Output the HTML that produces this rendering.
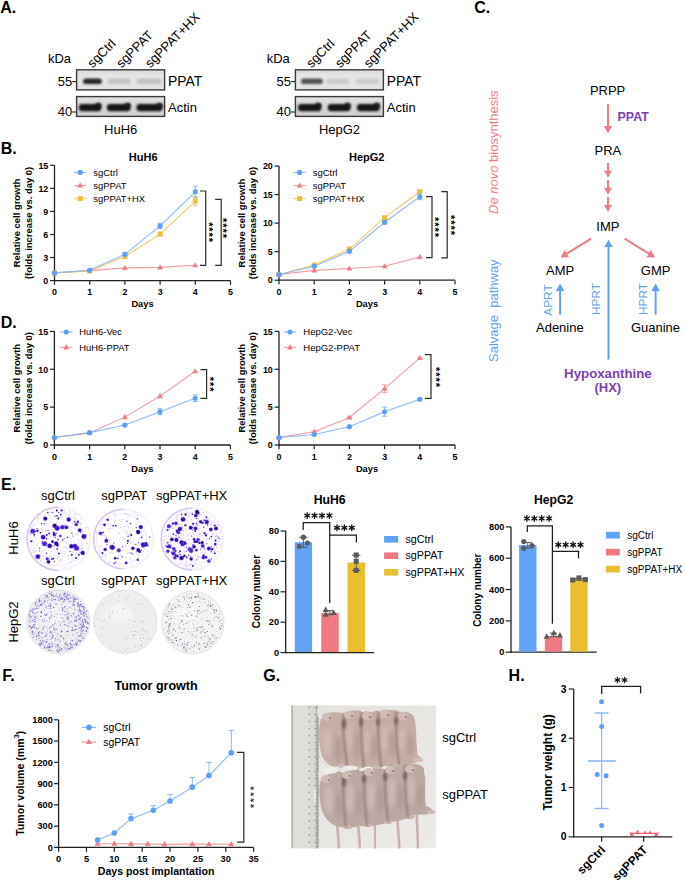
<!DOCTYPE html>
<html><head><meta charset="utf-8"><title>Figure</title>
<style>
html,body{margin:0;padding:0;background:#fff;}
svg{display:block;font-family:"Liberation Sans", sans-serif;}
</style></head>
<body>
<svg width="685" height="883" viewBox="0 0 685 883">
<defs>
<filter id="bl" x="-20%" y="-50%" width="140%" height="200%"><feGaussianBlur stdDeviation="0.9"/></filter>
<filter id="soft" x="-20%" y="-20%" width="140%" height="140%"><feGaussianBlur stdDeviation="0.7"/></filter>
<filter id="soft1" x="-50%" y="-50%" width="200%" height="200%"><feGaussianBlur stdDeviation="1.1"/></filter>
<filter id="soft2" x="-50%" y="-50%" width="200%" height="200%"><feGaussianBlur stdDeviation="2"/></filter>
<linearGradient id="blotg" x1="0" y1="0" x2="0" y2="1"><stop offset="0" stop-color="#d9d9d9"/><stop offset="0.3" stop-color="#e6e6e6"/><stop offset="1" stop-color="#e3e3e3"/></linearGradient>
<linearGradient id="blotg2" x1="0" y1="0" x2="0" y2="1"><stop offset="0" stop-color="#e2e2e2"/><stop offset="0.5" stop-color="#d6d6d6"/><stop offset="1" stop-color="#d0d0d0"/></linearGradient>
<clipPath id="photoclip"><rect x="291.3" y="705.3" width="145" height="143.2"/></clipPath>
<linearGradient id="photobg" x1="0" y1="0" x2="1" y2="1"><stop offset="0" stop-color="#e3e1dd"/><stop offset="1" stop-color="#ecebe8"/></linearGradient>
<radialGradient id="mouse" cx="0.45" cy="0.4" r="0.6"><stop offset="0" stop-color="#d3bbb5"/><stop offset="0.7" stop-color="#c2a9a3"/><stop offset="1" stop-color="#a48e8a"/></radialGradient>
</defs>
<rect x="0" y="0" width="685" height="883" fill="#fff"/>
<text x="0.20" y="12.60" font-size="16" font-weight="bold">A.</text>
<text x="474.30" y="13.00" font-size="16" font-weight="bold">C.</text>
<text x="0.80" y="153.60" font-size="16" font-weight="bold">B.</text>
<text x="0.80" y="328.20" font-size="16" font-weight="bold">D.</text>
<text x="1.00" y="490.20" font-size="16" font-weight="bold">E.</text>
<text x="2.20" y="681.40" font-size="16" font-weight="bold">F.</text>
<text x="263.20" y="681.40" font-size="16" font-weight="bold">G.</text>
<text x="508.60" y="681.40" font-size="16" font-weight="bold">H.</text>
<text x="47.90" y="63.00" font-size="13">kDa</text>
<text x="72.20" y="85.60" font-size="13" text-anchor="end">55</text>
<line x1="72.20" y1="81.60" x2="76.60" y2="81.60" stroke="#222" stroke-width="1.1" />
<text x="72.20" y="116.20" font-size="13" text-anchor="end">40</text>
<line x1="72.20" y1="112.00" x2="76.60" y2="112.00" stroke="#222" stroke-width="1.1" />
<text x="168.00" y="85.60" font-size="13.9">PPAT</text>
<text x="168.00" y="111.80" font-size="13">Actin</text>
<text transform="translate(92.60,68.40) rotate(-45)" font-size="13">sgCtrl</text>
<text transform="translate(121.40,68.40) rotate(-45)" font-size="13">sgPPAT</text>
<text transform="translate(150.20,68.40) rotate(-45)" font-size="13">sgPPAT+HX</text>
<text x="120.70" y="133.60" font-size="13" text-anchor="middle">HuH6</text>
<rect x="76.60" y="69.8" width="88.00" height="20.1" fill="url(#blotg)" stroke="#3a3a3a" stroke-width="1.4"/>
<rect x="83.10" y="78.40" width="18.70" height="5.6" rx="2.8" fill="#262626" filter="url(#bl)"/>
<rect x="107.60" y="78.40" width="23.00" height="5.6" rx="2.8" fill="#c4c4c4" filter="url(#bl)"/>
<rect x="136.60" y="78.40" width="25.00" height="5.6" rx="2.8" fill="#c2c2c2" filter="url(#bl)"/>
<rect x="76.60" y="96.6" width="88.00" height="19.8" fill="url(#blotg2)" stroke="#3a3a3a" stroke-width="1.4"/>
<rect x="78.80" y="104.00" width="22.60" height="7.2" rx="3.4" fill="#141414" filter="url(#bl)"/>
<ellipse cx="98.40" cy="105.2" rx="3" ry="2.4" fill="#1c1c1c" filter="url(#bl)"/>
<rect x="106.80" y="104.00" width="23.80" height="7.2" rx="3.4" fill="#141414" filter="url(#bl)"/>
<ellipse cx="127.60" cy="105.2" rx="3" ry="2.4" fill="#1c1c1c" filter="url(#bl)"/>
<rect x="136.40" y="104.00" width="26.20" height="7.2" rx="3.4" fill="#141414" filter="url(#bl)"/>
<ellipse cx="159.60" cy="105.2" rx="3" ry="2.4" fill="#1c1c1c" filter="url(#bl)"/>
<text x="266.70" y="63.00" font-size="13">kDa</text>
<text x="291.00" y="85.60" font-size="13" text-anchor="end">55</text>
<line x1="291.00" y1="81.60" x2="295.40" y2="81.60" stroke="#222" stroke-width="1.1" />
<text x="291.00" y="116.20" font-size="13" text-anchor="end">40</text>
<line x1="291.00" y1="112.00" x2="295.40" y2="112.00" stroke="#222" stroke-width="1.1" />
<text x="386.80" y="85.60" font-size="13.9">PPAT</text>
<text x="386.80" y="111.80" font-size="13">Actin</text>
<text transform="translate(311.40,68.40) rotate(-45)" font-size="13">sgCtrl</text>
<text transform="translate(340.20,68.40) rotate(-45)" font-size="13">sgPPAT</text>
<text transform="translate(369.00,68.40) rotate(-45)" font-size="13">sgPPAT+HX</text>
<text x="339.50" y="133.60" font-size="13" text-anchor="middle">HepG2</text>
<rect x="295.40" y="69.8" width="88.00" height="20.1" fill="url(#blotg)" stroke="#3a3a3a" stroke-width="1.4"/>
<rect x="301.00" y="78.40" width="21.80" height="5.6" rx="2.8" fill="#525252" filter="url(#bl)"/>
<rect x="326.40" y="78.40" width="23.00" height="5.6" rx="2.8" fill="#cacaca" filter="url(#bl)"/>
<rect x="355.40" y="78.40" width="24.00" height="5.6" rx="2.8" fill="#cdcdcd" filter="url(#bl)"/>
<rect x="295.40" y="96.6" width="88.00" height="19.8" fill="url(#blotg2)" stroke="#3a3a3a" stroke-width="1.4"/>
<rect x="298.00" y="104.00" width="23.40" height="7.2" rx="3.4" fill="#141414" filter="url(#bl)"/>
<ellipse cx="318.40" cy="105.2" rx="3" ry="2.4" fill="#1c1c1c" filter="url(#bl)"/>
<rect x="327.70" y="104.00" width="22.90" height="7.2" rx="3.4" fill="#141414" filter="url(#bl)"/>
<ellipse cx="347.60" cy="105.2" rx="3" ry="2.4" fill="#1c1c1c" filter="url(#bl)"/>
<rect x="356.90" y="104.00" width="22.90" height="7.2" rx="3.4" fill="#141414" filter="url(#bl)"/>
<ellipse cx="376.80" cy="105.2" rx="3" ry="2.4" fill="#1c1c1c" filter="url(#bl)"/>
<text x="607.60" y="95.20" font-size="13" text-anchor="middle">PRPP</text>
<line x1="608.00" y1="104.00" x2="608.00" y2="127.60" stroke="#ee7d86" stroke-width="2.0" />
<polygon points="603.80,126.10 612.20,126.10 608.00,133.60" fill="#ee7d86"/>
<text x="617.60" y="120.70" font-size="12.4" font-weight="bold" fill="#7b3fb5">PPAT</text>
<text x="607.90" y="155.00" font-size="13" text-anchor="middle">PRA</text>
<line x1="608.00" y1="163.00" x2="608.00" y2="172.20" stroke="#ee7d86" stroke-width="2.0" />
<polygon points="604.00,170.80 612.00,170.80 608.00,177.80" fill="#ee7d86"/>
<line x1="608.00" y1="180.00" x2="608.00" y2="189.10" stroke="#ee7d86" stroke-width="2.0" />
<polygon points="604.00,187.70 612.00,187.70 608.00,194.70" fill="#ee7d86"/>
<line x1="608.00" y1="197.20" x2="608.00" y2="206.40" stroke="#ee7d86" stroke-width="2.0" />
<polygon points="604.00,205.00 612.00,205.00 608.00,212.00" fill="#ee7d86"/>
<text x="607.85" y="230.50" font-size="13" text-anchor="middle">IMP</text>
<line x1="591.10" y1="238.70" x2="565.60" y2="254.45" stroke="#ee7d86" stroke-width="2.0" />
<polygon points="564.67,250.09 569.09,257.23 560.50,257.60" fill="#ee7d86"/>
<line x1="624.60" y1="238.60" x2="650.01" y2="254.43" stroke="#ee7d86" stroke-width="2.0" />
<polygon points="646.51,257.20 650.95,250.07 655.10,257.60" fill="#ee7d86"/>
<line x1="608.50" y1="359.50" x2="608.50" y2="245.40" stroke="#5fa2f2" stroke-width="2.0" />
<polygon points="604.30,246.90 612.70,246.90 608.50,239.40" fill="#5fa2f2"/>
<text x="560.20" y="275.10" font-size="13" text-anchor="middle">AMP</text>
<text x="655.60" y="275.10" font-size="13" text-anchor="middle">GMP</text>
<line x1="560.10" y1="314.50" x2="560.10" y2="289.50" stroke="#5fa2f2" stroke-width="2.0" />
<polygon points="555.90,291.00 564.30,291.00 560.10,283.50" fill="#5fa2f2"/>
<line x1="655.60" y1="314.50" x2="655.60" y2="289.50" stroke="#5fa2f2" stroke-width="2.0" />
<polygon points="651.40,291.00 659.80,291.00 655.60,283.50" fill="#5fa2f2"/>
<text transform="translate(552.40,300.00) rotate(-90)" font-size="11.8" text-anchor="middle" fill="#5fa2f2">APRT</text>
<text transform="translate(599.90,299.00) rotate(-90)" font-size="11.8" text-anchor="middle" fill="#5fa2f2">HPRT</text>
<text transform="translate(647.40,299.00) rotate(-90)" font-size="11.8" text-anchor="middle" fill="#5fa2f2">HPRT</text>
<text x="559.85" y="332.30" font-size="13" text-anchor="middle">Adenine</text>
<text x="655.50" y="332.30" font-size="13" text-anchor="middle">Guanine</text>
<text x="607.90" y="378.00" font-size="13.25" font-weight="bold" text-anchor="middle" fill="#7b3fb5">Hypoxanthine</text>
<text x="607.85" y="392.30" font-size="13" font-weight="bold" text-anchor="middle" fill="#7b3fb5">(HX)</text>
<text transform="translate(497.60,152.20) rotate(-90)" font-size="13" text-anchor="middle" fill="#ee7d86"><tspan font-style="italic">De novo</tspan> biosynthesis</text>
<text transform="translate(497.60,310.70) rotate(-90)" font-size="13" text-anchor="middle" fill="#5fa2f2">Salvage  pathway</text>
<line x1="54.50" y1="165.30" x2="54.50" y2="281.20" stroke="#222" stroke-width="1.3" />
<line x1="53.90" y1="280.60" x2="230.50" y2="280.60" stroke="#222" stroke-width="1.3" />
<line x1="50.10" y1="280.60" x2="54.50" y2="280.60" stroke="#222" stroke-width="1.2" />
<text x="48.30" y="283.85" font-size="8.9" font-weight="bold" text-anchor="end">0</text>
<line x1="50.10" y1="257.54" x2="54.50" y2="257.54" stroke="#222" stroke-width="1.2" />
<text x="48.30" y="260.79" font-size="8.9" font-weight="bold" text-anchor="end">3</text>
<line x1="50.10" y1="234.48" x2="54.50" y2="234.48" stroke="#222" stroke-width="1.2" />
<text x="48.30" y="237.73" font-size="8.9" font-weight="bold" text-anchor="end">6</text>
<line x1="50.10" y1="211.42" x2="54.50" y2="211.42" stroke="#222" stroke-width="1.2" />
<text x="48.30" y="214.67" font-size="8.9" font-weight="bold" text-anchor="end">9</text>
<line x1="50.10" y1="188.36" x2="54.50" y2="188.36" stroke="#222" stroke-width="1.2" />
<text x="48.30" y="191.61" font-size="8.9" font-weight="bold" text-anchor="end">12</text>
<line x1="50.10" y1="165.30" x2="54.50" y2="165.30" stroke="#222" stroke-width="1.2" />
<text x="48.30" y="168.55" font-size="8.9" font-weight="bold" text-anchor="end">15</text>
<line x1="54.50" y1="280.60" x2="54.50" y2="284.80" stroke="#222" stroke-width="1.2" />
<text x="54.50" y="295.20" font-size="8.9" font-weight="bold" text-anchor="middle">0</text>
<line x1="89.70" y1="280.60" x2="89.70" y2="284.80" stroke="#222" stroke-width="1.2" />
<text x="89.70" y="295.20" font-size="8.9" font-weight="bold" text-anchor="middle">1</text>
<line x1="124.90" y1="280.60" x2="124.90" y2="284.80" stroke="#222" stroke-width="1.2" />
<text x="124.90" y="295.20" font-size="8.9" font-weight="bold" text-anchor="middle">2</text>
<line x1="160.10" y1="280.60" x2="160.10" y2="284.80" stroke="#222" stroke-width="1.2" />
<text x="160.10" y="295.20" font-size="8.9" font-weight="bold" text-anchor="middle">3</text>
<line x1="195.30" y1="280.60" x2="195.30" y2="284.80" stroke="#222" stroke-width="1.2" />
<text x="195.30" y="295.20" font-size="8.9" font-weight="bold" text-anchor="middle">4</text>
<line x1="230.50" y1="280.60" x2="230.50" y2="284.80" stroke="#222" stroke-width="1.2" />
<text x="230.50" y="295.20" font-size="8.9" font-weight="bold" text-anchor="middle">5</text>
<text x="142.50" y="307.40" font-size="9.3" font-weight="bold" text-anchor="middle">Days</text>
<text transform="translate(20.20,222.95) rotate(-90)" font-size="9.45" font-weight="bold" text-anchor="middle">Relative cell growth</text>
<text transform="translate(31.90,222.95) rotate(-90)" font-size="9.45" font-weight="bold" text-anchor="middle">(folds increase vs. day 0)</text>
<text x="143.20" y="161.00" font-size="11" font-weight="bold" text-anchor="middle">HuH6</text>
<polyline points="54.50,272.91 89.70,270.61 124.90,267.92 160.10,267.38 195.30,265.23" fill="none" stroke="#f29aa2" stroke-width="1.1" />
<polygon points="54.50,269.89 51.60,274.93 57.40,274.93" fill="#f07c86" />
<polygon points="89.70,267.58 86.80,272.63 92.60,272.63" fill="#f07c86" />
<polygon points="124.90,264.89 122.00,269.94 127.80,269.94" fill="#f07c86" />
<polygon points="160.10,264.35 157.20,269.40 163.00,269.40" fill="#f07c86" />
<polygon points="195.30,262.20 192.40,267.25 198.20,267.25" fill="#f07c86" />
<polyline points="54.50,272.91 89.70,270.99 124.90,256.62 160.10,234.10 195.30,201.04" fill="none" stroke="#f0cc5e" stroke-width="1.1" />
<line x1="54.50" y1="272.61" x2="54.50" y2="273.22" stroke="#f0cc5e" stroke-width="1.0" />
<line x1="51.90" y1="272.61" x2="57.10" y2="272.61" stroke="#f0cc5e" stroke-width="1.0" />
<line x1="51.90" y1="273.22" x2="57.10" y2="273.22" stroke="#f0cc5e" stroke-width="1.0" />
<line x1="89.70" y1="270.38" x2="89.70" y2="271.61" stroke="#f0cc5e" stroke-width="1.0" />
<line x1="87.10" y1="270.38" x2="92.30" y2="270.38" stroke="#f0cc5e" stroke-width="1.0" />
<line x1="87.10" y1="271.61" x2="92.30" y2="271.61" stroke="#f0cc5e" stroke-width="1.0" />
<line x1="124.90" y1="255.46" x2="124.90" y2="257.77" stroke="#f0cc5e" stroke-width="1.0" />
<line x1="122.30" y1="255.46" x2="127.50" y2="255.46" stroke="#f0cc5e" stroke-width="1.0" />
<line x1="122.30" y1="257.77" x2="127.50" y2="257.77" stroke="#f0cc5e" stroke-width="1.0" />
<line x1="160.10" y1="232.56" x2="160.10" y2="235.63" stroke="#f0cc5e" stroke-width="1.0" />
<line x1="157.50" y1="232.56" x2="162.70" y2="232.56" stroke="#f0cc5e" stroke-width="1.0" />
<line x1="157.50" y1="235.63" x2="162.70" y2="235.63" stroke="#f0cc5e" stroke-width="1.0" />
<line x1="195.30" y1="196.43" x2="195.30" y2="205.66" stroke="#f0cc5e" stroke-width="1.0" />
<line x1="192.70" y1="196.43" x2="197.90" y2="196.43" stroke="#f0cc5e" stroke-width="1.0" />
<line x1="192.70" y1="205.66" x2="197.90" y2="205.66" stroke="#f0cc5e" stroke-width="1.0" />
<rect x="52.00" y="270.41" width="5.00" height="5.00" fill="#eec036" />
<rect x="87.20" y="268.49" width="5.00" height="5.00" fill="#eec036" />
<rect x="122.40" y="254.12" width="5.00" height="5.00" fill="#eec036" />
<rect x="157.60" y="231.60" width="5.00" height="5.00" fill="#eec036" />
<rect x="192.80" y="198.54" width="5.00" height="5.00" fill="#eec036" />
<polyline points="54.50,272.91 89.70,270.22 124.90,254.31 160.10,225.87 195.30,191.82" fill="none" stroke="#8ab9f6" stroke-width="1.1" />
<line x1="54.50" y1="272.61" x2="54.50" y2="273.22" stroke="#8ab9f6" stroke-width="1.0" />
<line x1="51.90" y1="272.61" x2="57.10" y2="272.61" stroke="#8ab9f6" stroke-width="1.0" />
<line x1="51.90" y1="273.22" x2="57.10" y2="273.22" stroke="#8ab9f6" stroke-width="1.0" />
<line x1="89.70" y1="269.61" x2="89.70" y2="270.84" stroke="#8ab9f6" stroke-width="1.0" />
<line x1="87.10" y1="269.61" x2="92.30" y2="269.61" stroke="#8ab9f6" stroke-width="1.0" />
<line x1="87.10" y1="270.84" x2="92.30" y2="270.84" stroke="#8ab9f6" stroke-width="1.0" />
<line x1="124.90" y1="252.77" x2="124.90" y2="255.85" stroke="#8ab9f6" stroke-width="1.0" />
<line x1="122.30" y1="252.77" x2="127.50" y2="252.77" stroke="#8ab9f6" stroke-width="1.0" />
<line x1="122.30" y1="255.85" x2="127.50" y2="255.85" stroke="#8ab9f6" stroke-width="1.0" />
<line x1="160.10" y1="223.18" x2="160.10" y2="228.56" stroke="#8ab9f6" stroke-width="1.0" />
<line x1="157.50" y1="223.18" x2="162.70" y2="223.18" stroke="#8ab9f6" stroke-width="1.0" />
<line x1="157.50" y1="228.56" x2="162.70" y2="228.56" stroke="#8ab9f6" stroke-width="1.0" />
<line x1="195.30" y1="186.28" x2="195.30" y2="197.35" stroke="#8ab9f6" stroke-width="1.0" />
<line x1="192.70" y1="186.28" x2="197.90" y2="186.28" stroke="#8ab9f6" stroke-width="1.0" />
<line x1="192.70" y1="197.35" x2="197.90" y2="197.35" stroke="#8ab9f6" stroke-width="1.0" />
<circle cx="54.50" cy="272.91" r="2.55" fill="#5e9ff6" />
<circle cx="89.70" cy="270.22" r="2.55" fill="#5e9ff6" />
<circle cx="124.90" cy="254.31" r="2.55" fill="#5e9ff6" />
<circle cx="160.10" cy="225.87" r="2.55" fill="#5e9ff6" />
<circle cx="195.30" cy="191.82" r="2.55" fill="#5e9ff6" />
<line x1="74.20" y1="172.40" x2="86.20" y2="172.40" stroke="#8ab9f6" stroke-width="1.1" />
<circle cx="80.20" cy="172.40" r="2.55" fill="#5e9ff6" />
<text x="93.30" y="175.60" font-size="9.45">sgCtrl</text>
<line x1="74.20" y1="185.60" x2="86.20" y2="185.60" stroke="#f29aa2" stroke-width="1.1" />
<polygon points="80.20,182.57 77.30,187.62 83.10,187.62" fill="#f07c86" />
<text x="93.30" y="188.80" font-size="9.45">sgPPAT</text>
<line x1="74.20" y1="198.60" x2="86.20" y2="198.60" stroke="#f0cc5e" stroke-width="1.1" />
<rect x="77.70" y="196.10" width="5.00" height="5.00" fill="#eec036" />
<text x="93.30" y="201.80" font-size="9.45">sgPPAT+HX</text>
<polyline points="200.00,191.00 205.70,191.00 205.70,265.30 200.00,265.30" fill="none" stroke="#2a2a2a" stroke-width="1.2" />
<polyline points="215.20,199.40 221.20,199.40 221.20,265.30 215.20,265.30" fill="none" stroke="#2a2a2a" stroke-width="1.2" />
<text transform="translate(204.56,224.30) rotate(90)" font-size="11.0" text-anchor="middle" font-weight="bold">*</text>
<text transform="translate(204.56,229.50) rotate(90)" font-size="11.0" text-anchor="middle" font-weight="bold">*</text>
<text transform="translate(204.56,234.70) rotate(90)" font-size="11.0" text-anchor="middle" font-weight="bold">*</text>
<text transform="translate(204.56,239.90) rotate(90)" font-size="11.0" text-anchor="middle" font-weight="bold">*</text>
<text transform="translate(219.36,220.20) rotate(90)" font-size="11.0" text-anchor="middle" font-weight="bold">*</text>
<text transform="translate(219.36,225.40) rotate(90)" font-size="11.0" text-anchor="middle" font-weight="bold">*</text>
<text transform="translate(219.36,230.60) rotate(90)" font-size="11.0" text-anchor="middle" font-weight="bold">*</text>
<text transform="translate(219.36,235.80) rotate(90)" font-size="11.0" text-anchor="middle" font-weight="bold">*</text>
<line x1="279.00" y1="166.00" x2="279.00" y2="280.80" stroke="#222" stroke-width="1.3" />
<line x1="278.40" y1="280.20" x2="455.00" y2="280.20" stroke="#222" stroke-width="1.3" />
<line x1="274.60" y1="280.20" x2="279.00" y2="280.20" stroke="#222" stroke-width="1.2" />
<text x="272.80" y="283.45" font-size="8.9" font-weight="bold" text-anchor="end">0</text>
<line x1="274.60" y1="251.65" x2="279.00" y2="251.65" stroke="#222" stroke-width="1.2" />
<text x="272.80" y="254.90" font-size="8.9" font-weight="bold" text-anchor="end">5</text>
<line x1="274.60" y1="223.10" x2="279.00" y2="223.10" stroke="#222" stroke-width="1.2" />
<text x="272.80" y="226.35" font-size="8.9" font-weight="bold" text-anchor="end">10</text>
<line x1="274.60" y1="194.55" x2="279.00" y2="194.55" stroke="#222" stroke-width="1.2" />
<text x="272.80" y="197.80" font-size="8.9" font-weight="bold" text-anchor="end">15</text>
<line x1="274.60" y1="166.00" x2="279.00" y2="166.00" stroke="#222" stroke-width="1.2" />
<text x="272.80" y="169.25" font-size="8.9" font-weight="bold" text-anchor="end">20</text>
<line x1="279.00" y1="280.20" x2="279.00" y2="284.40" stroke="#222" stroke-width="1.2" />
<text x="279.00" y="295.20" font-size="8.9" font-weight="bold" text-anchor="middle">0</text>
<line x1="314.20" y1="280.20" x2="314.20" y2="284.40" stroke="#222" stroke-width="1.2" />
<text x="314.20" y="295.20" font-size="8.9" font-weight="bold" text-anchor="middle">1</text>
<line x1="349.40" y1="280.20" x2="349.40" y2="284.40" stroke="#222" stroke-width="1.2" />
<text x="349.40" y="295.20" font-size="8.9" font-weight="bold" text-anchor="middle">2</text>
<line x1="384.60" y1="280.20" x2="384.60" y2="284.40" stroke="#222" stroke-width="1.2" />
<text x="384.60" y="295.20" font-size="8.9" font-weight="bold" text-anchor="middle">3</text>
<line x1="419.80" y1="280.20" x2="419.80" y2="284.40" stroke="#222" stroke-width="1.2" />
<text x="419.80" y="295.20" font-size="8.9" font-weight="bold" text-anchor="middle">4</text>
<line x1="455.00" y1="280.20" x2="455.00" y2="284.40" stroke="#222" stroke-width="1.2" />
<text x="455.00" y="295.20" font-size="8.9" font-weight="bold" text-anchor="middle">5</text>
<text x="367.00" y="307.40" font-size="9.3" font-weight="bold" text-anchor="middle">Days</text>
<text transform="translate(244.60,223.10) rotate(-90)" font-size="9.45" font-weight="bold" text-anchor="middle">Relative cell growth</text>
<text transform="translate(256.40,223.10) rotate(-90)" font-size="9.45" font-weight="bold" text-anchor="middle">(folds increase vs. day 0)</text>
<text x="366.70" y="161.00" font-size="11" font-weight="bold" text-anchor="middle">HepG2</text>
<polyline points="279.00,274.49 314.20,270.38 349.40,268.49 384.60,266.21 419.80,257.07" fill="none" stroke="#f29aa2" stroke-width="1.1" />
<polygon points="279.00,271.46 276.10,276.51 281.90,276.51" fill="#f07c86" />
<polygon points="314.20,267.35 311.30,272.40 317.10,272.40" fill="#f07c86" />
<polygon points="349.40,265.47 346.50,270.51 352.30,270.51" fill="#f07c86" />
<polygon points="384.60,263.18 381.70,268.23 387.50,268.23" fill="#f07c86" />
<polygon points="419.80,254.05 416.90,259.09 422.70,259.09" fill="#f07c86" />
<polyline points="279.00,274.49 314.20,265.07 349.40,249.08 384.60,217.68 419.80,191.69" fill="none" stroke="#f0cc5e" stroke-width="1.1" />
<line x1="279.00" y1="274.26" x2="279.00" y2="274.72" stroke="#f0cc5e" stroke-width="1.0" />
<line x1="276.40" y1="274.26" x2="281.60" y2="274.26" stroke="#f0cc5e" stroke-width="1.0" />
<line x1="276.40" y1="274.72" x2="281.60" y2="274.72" stroke="#f0cc5e" stroke-width="1.0" />
<line x1="314.20" y1="264.50" x2="314.20" y2="265.64" stroke="#f0cc5e" stroke-width="1.0" />
<line x1="311.60" y1="264.50" x2="316.80" y2="264.50" stroke="#f0cc5e" stroke-width="1.0" />
<line x1="311.60" y1="265.64" x2="316.80" y2="265.64" stroke="#f0cc5e" stroke-width="1.0" />
<line x1="349.40" y1="248.22" x2="349.40" y2="249.94" stroke="#f0cc5e" stroke-width="1.0" />
<line x1="346.80" y1="248.22" x2="352.00" y2="248.22" stroke="#f0cc5e" stroke-width="1.0" />
<line x1="346.80" y1="249.94" x2="352.00" y2="249.94" stroke="#f0cc5e" stroke-width="1.0" />
<line x1="384.60" y1="216.53" x2="384.60" y2="218.82" stroke="#f0cc5e" stroke-width="1.0" />
<line x1="382.00" y1="216.53" x2="387.20" y2="216.53" stroke="#f0cc5e" stroke-width="1.0" />
<line x1="382.00" y1="218.82" x2="387.20" y2="218.82" stroke="#f0cc5e" stroke-width="1.0" />
<line x1="419.80" y1="190.27" x2="419.80" y2="193.12" stroke="#f0cc5e" stroke-width="1.0" />
<line x1="417.20" y1="190.27" x2="422.40" y2="190.27" stroke="#f0cc5e" stroke-width="1.0" />
<line x1="417.20" y1="193.12" x2="422.40" y2="193.12" stroke="#f0cc5e" stroke-width="1.0" />
<rect x="276.50" y="271.99" width="5.00" height="5.00" fill="#eec036" />
<rect x="311.70" y="262.57" width="5.00" height="5.00" fill="#eec036" />
<rect x="346.90" y="246.58" width="5.00" height="5.00" fill="#eec036" />
<rect x="382.10" y="215.18" width="5.00" height="5.00" fill="#eec036" />
<rect x="417.30" y="189.19" width="5.00" height="5.00" fill="#eec036" />
<polyline points="279.00,274.49 314.20,266.21 349.40,251.36 384.60,222.24 419.80,196.83" fill="none" stroke="#8ab9f6" stroke-width="1.1" />
<line x1="279.00" y1="274.26" x2="279.00" y2="274.72" stroke="#8ab9f6" stroke-width="1.0" />
<line x1="276.40" y1="274.26" x2="281.60" y2="274.26" stroke="#8ab9f6" stroke-width="1.0" />
<line x1="276.40" y1="274.72" x2="281.60" y2="274.72" stroke="#8ab9f6" stroke-width="1.0" />
<line x1="314.20" y1="265.64" x2="314.20" y2="266.78" stroke="#8ab9f6" stroke-width="1.0" />
<line x1="311.60" y1="265.64" x2="316.80" y2="265.64" stroke="#8ab9f6" stroke-width="1.0" />
<line x1="311.60" y1="266.78" x2="316.80" y2="266.78" stroke="#8ab9f6" stroke-width="1.0" />
<line x1="349.40" y1="250.51" x2="349.40" y2="252.22" stroke="#8ab9f6" stroke-width="1.0" />
<line x1="346.80" y1="250.51" x2="352.00" y2="250.51" stroke="#8ab9f6" stroke-width="1.0" />
<line x1="346.80" y1="252.22" x2="352.00" y2="252.22" stroke="#8ab9f6" stroke-width="1.0" />
<line x1="384.60" y1="220.53" x2="384.60" y2="223.96" stroke="#8ab9f6" stroke-width="1.0" />
<line x1="382.00" y1="220.53" x2="387.20" y2="220.53" stroke="#8ab9f6" stroke-width="1.0" />
<line x1="382.00" y1="223.96" x2="387.20" y2="223.96" stroke="#8ab9f6" stroke-width="1.0" />
<line x1="419.80" y1="193.98" x2="419.80" y2="199.69" stroke="#8ab9f6" stroke-width="1.0" />
<line x1="417.20" y1="193.98" x2="422.40" y2="193.98" stroke="#8ab9f6" stroke-width="1.0" />
<line x1="417.20" y1="199.69" x2="422.40" y2="199.69" stroke="#8ab9f6" stroke-width="1.0" />
<circle cx="279.00" cy="274.49" r="2.55" fill="#5e9ff6" />
<circle cx="314.20" cy="266.21" r="2.55" fill="#5e9ff6" />
<circle cx="349.40" cy="251.36" r="2.55" fill="#5e9ff6" />
<circle cx="384.60" cy="222.24" r="2.55" fill="#5e9ff6" />
<circle cx="419.80" cy="196.83" r="2.55" fill="#5e9ff6" />
<line x1="293.60" y1="172.40" x2="305.60" y2="172.40" stroke="#8ab9f6" stroke-width="1.1" />
<circle cx="299.60" cy="172.40" r="2.55" fill="#5e9ff6" />
<text x="312.80" y="175.60" font-size="9.45">sgCtrl</text>
<line x1="293.60" y1="185.60" x2="305.60" y2="185.60" stroke="#f29aa2" stroke-width="1.1" />
<polygon points="299.60,182.57 296.70,187.62 302.50,187.62" fill="#f07c86" />
<text x="312.80" y="188.80" font-size="9.45">sgPPAT</text>
<line x1="293.60" y1="198.60" x2="305.60" y2="198.60" stroke="#f0cc5e" stroke-width="1.1" />
<rect x="297.10" y="196.10" width="5.00" height="5.00" fill="#eec036" />
<text x="312.80" y="201.80" font-size="9.45">sgPPAT+HX</text>
<polyline points="426.00,196.60 432.00,196.60 432.00,257.60 426.00,257.60" fill="none" stroke="#2a2a2a" stroke-width="1.2" />
<polyline points="441.30,191.60 447.20,191.60 447.20,257.80 441.30,257.80" fill="none" stroke="#2a2a2a" stroke-width="1.2" />
<text transform="translate(431.36,219.20) rotate(90)" font-size="11.0" text-anchor="middle" font-weight="bold">*</text>
<text transform="translate(431.36,224.40) rotate(90)" font-size="11.0" text-anchor="middle" font-weight="bold">*</text>
<text transform="translate(431.36,229.60) rotate(90)" font-size="11.0" text-anchor="middle" font-weight="bold">*</text>
<text transform="translate(431.36,234.80) rotate(90)" font-size="11.0" text-anchor="middle" font-weight="bold">*</text>
<text transform="translate(447.26,217.20) rotate(90)" font-size="11.0" text-anchor="middle" font-weight="bold">*</text>
<text transform="translate(447.26,222.40) rotate(90)" font-size="11.0" text-anchor="middle" font-weight="bold">*</text>
<text transform="translate(447.26,227.60) rotate(90)" font-size="11.0" text-anchor="middle" font-weight="bold">*</text>
<text transform="translate(447.26,232.80) rotate(90)" font-size="11.0" text-anchor="middle" font-weight="bold">*</text>
<line x1="54.40" y1="331.40" x2="54.40" y2="445.60" stroke="#222" stroke-width="1.3" />
<line x1="53.80" y1="445.00" x2="230.40" y2="445.00" stroke="#222" stroke-width="1.3" />
<line x1="50.00" y1="445.00" x2="54.40" y2="445.00" stroke="#222" stroke-width="1.2" />
<text x="48.20" y="448.25" font-size="8.9" font-weight="bold" text-anchor="end">0</text>
<line x1="50.00" y1="407.13" x2="54.40" y2="407.13" stroke="#222" stroke-width="1.2" />
<text x="48.20" y="410.38" font-size="8.9" font-weight="bold" text-anchor="end">5</text>
<line x1="50.00" y1="369.27" x2="54.40" y2="369.27" stroke="#222" stroke-width="1.2" />
<text x="48.20" y="372.52" font-size="8.9" font-weight="bold" text-anchor="end">10</text>
<line x1="50.00" y1="331.40" x2="54.40" y2="331.40" stroke="#222" stroke-width="1.2" />
<text x="48.20" y="334.65" font-size="8.9" font-weight="bold" text-anchor="end">15</text>
<line x1="54.40" y1="445.00" x2="54.40" y2="449.20" stroke="#222" stroke-width="1.2" />
<text x="54.40" y="459.60" font-size="8.9" font-weight="bold" text-anchor="middle">0</text>
<line x1="89.60" y1="445.00" x2="89.60" y2="449.20" stroke="#222" stroke-width="1.2" />
<text x="89.60" y="459.60" font-size="8.9" font-weight="bold" text-anchor="middle">1</text>
<line x1="124.80" y1="445.00" x2="124.80" y2="449.20" stroke="#222" stroke-width="1.2" />
<text x="124.80" y="459.60" font-size="8.9" font-weight="bold" text-anchor="middle">2</text>
<line x1="160.00" y1="445.00" x2="160.00" y2="449.20" stroke="#222" stroke-width="1.2" />
<text x="160.00" y="459.60" font-size="8.9" font-weight="bold" text-anchor="middle">3</text>
<line x1="195.20" y1="445.00" x2="195.20" y2="449.20" stroke="#222" stroke-width="1.2" />
<text x="195.20" y="459.60" font-size="8.9" font-weight="bold" text-anchor="middle">4</text>
<line x1="230.40" y1="445.00" x2="230.40" y2="449.20" stroke="#222" stroke-width="1.2" />
<text x="230.40" y="459.60" font-size="8.9" font-weight="bold" text-anchor="middle">5</text>
<text x="142.40" y="472.40" font-size="9.3" font-weight="bold" text-anchor="middle">Days</text>
<text transform="translate(20.20,388.20) rotate(-90)" font-size="9.45" font-weight="bold" text-anchor="middle">Relative cell growth</text>
<text transform="translate(31.90,388.20) rotate(-90)" font-size="9.45" font-weight="bold" text-anchor="middle">(folds increase vs. day 0)</text>
<polyline points="54.40,437.43 89.60,432.88 124.80,417.13 160.00,396.15 195.20,371.24" fill="none" stroke="#f29aa2" stroke-width="1.1" />
<polygon points="54.40,434.40 51.50,439.45 57.30,439.45" fill="#f07c86" />
<polygon points="89.60,429.86 86.70,434.90 92.50,434.90" fill="#f07c86" />
<polygon points="124.80,414.10 121.90,419.15 127.70,419.15" fill="#f07c86" />
<polygon points="160.00,393.12 157.10,398.17 162.90,398.17" fill="#f07c86" />
<polygon points="195.20,368.21 192.30,373.25 198.10,373.25" fill="#f07c86" />
<polyline points="54.40,437.43 89.60,432.66 124.80,425.08 160.00,411.68 195.20,398.20" fill="none" stroke="#8ab9f6" stroke-width="1.1" />
<line x1="54.40" y1="437.20" x2="54.40" y2="437.65" stroke="#8ab9f6" stroke-width="1.0" />
<line x1="51.80" y1="437.20" x2="57.00" y2="437.20" stroke="#8ab9f6" stroke-width="1.0" />
<line x1="51.80" y1="437.65" x2="57.00" y2="437.65" stroke="#8ab9f6" stroke-width="1.0" />
<line x1="89.60" y1="432.05" x2="89.60" y2="433.26" stroke="#8ab9f6" stroke-width="1.0" />
<line x1="87.00" y1="432.05" x2="92.20" y2="432.05" stroke="#8ab9f6" stroke-width="1.0" />
<line x1="87.00" y1="433.26" x2="92.20" y2="433.26" stroke="#8ab9f6" stroke-width="1.0" />
<line x1="124.80" y1="424.32" x2="124.80" y2="425.84" stroke="#8ab9f6" stroke-width="1.0" />
<line x1="122.20" y1="424.32" x2="127.40" y2="424.32" stroke="#8ab9f6" stroke-width="1.0" />
<line x1="122.20" y1="425.84" x2="127.40" y2="425.84" stroke="#8ab9f6" stroke-width="1.0" />
<line x1="160.00" y1="408.65" x2="160.00" y2="414.71" stroke="#8ab9f6" stroke-width="1.0" />
<line x1="157.40" y1="408.65" x2="162.60" y2="408.65" stroke="#8ab9f6" stroke-width="1.0" />
<line x1="157.40" y1="414.71" x2="162.60" y2="414.71" stroke="#8ab9f6" stroke-width="1.0" />
<line x1="195.20" y1="394.79" x2="195.20" y2="401.60" stroke="#8ab9f6" stroke-width="1.0" />
<line x1="192.60" y1="394.79" x2="197.80" y2="394.79" stroke="#8ab9f6" stroke-width="1.0" />
<line x1="192.60" y1="401.60" x2="197.80" y2="401.60" stroke="#8ab9f6" stroke-width="1.0" />
<circle cx="54.40" cy="437.43" r="2.55" fill="#5e9ff6" />
<circle cx="89.60" cy="432.66" r="2.55" fill="#5e9ff6" />
<circle cx="124.80" cy="425.08" r="2.55" fill="#5e9ff6" />
<circle cx="160.00" cy="411.68" r="2.55" fill="#5e9ff6" />
<circle cx="195.20" cy="398.20" r="2.55" fill="#5e9ff6" />
<line x1="60.00" y1="332.00" x2="72.40" y2="332.00" stroke="#8ab9f6" stroke-width="1.1" />
<circle cx="66.20" cy="332.00" r="2.55" fill="#5e9ff6" />
<text x="79.30" y="335.20" font-size="9.4">HuH6-Vec</text>
<line x1="60.00" y1="347.40" x2="72.40" y2="347.40" stroke="#f29aa2" stroke-width="1.1" />
<polygon points="66.20,344.37 63.30,349.42 69.10,349.42" fill="#f07c86" />
<text x="79.30" y="350.60" font-size="9.4">HuH6-PPAT</text>
<polyline points="200.40,369.60 206.60,369.60 206.60,398.40 200.40,398.40" fill="none" stroke="#2a2a2a" stroke-width="1.2" />
<text transform="translate(206.36,379.00) rotate(90)" font-size="11.0" text-anchor="middle" font-weight="bold">*</text>
<text transform="translate(206.36,384.20) rotate(90)" font-size="11.0" text-anchor="middle" font-weight="bold">*</text>
<text transform="translate(206.36,389.40) rotate(90)" font-size="11.0" text-anchor="middle" font-weight="bold">*</text>
<line x1="279.00" y1="331.40" x2="279.00" y2="445.60" stroke="#222" stroke-width="1.3" />
<line x1="278.40" y1="445.00" x2="455.00" y2="445.00" stroke="#222" stroke-width="1.3" />
<line x1="274.60" y1="445.00" x2="279.00" y2="445.00" stroke="#222" stroke-width="1.2" />
<text x="272.80" y="448.25" font-size="8.9" font-weight="bold" text-anchor="end">0</text>
<line x1="274.60" y1="407.13" x2="279.00" y2="407.13" stroke="#222" stroke-width="1.2" />
<text x="272.80" y="410.38" font-size="8.9" font-weight="bold" text-anchor="end">5</text>
<line x1="274.60" y1="369.27" x2="279.00" y2="369.27" stroke="#222" stroke-width="1.2" />
<text x="272.80" y="372.52" font-size="8.9" font-weight="bold" text-anchor="end">10</text>
<line x1="274.60" y1="331.40" x2="279.00" y2="331.40" stroke="#222" stroke-width="1.2" />
<text x="272.80" y="334.65" font-size="8.9" font-weight="bold" text-anchor="end">15</text>
<line x1="279.00" y1="445.00" x2="279.00" y2="449.20" stroke="#222" stroke-width="1.2" />
<text x="279.00" y="459.60" font-size="8.9" font-weight="bold" text-anchor="middle">0</text>
<line x1="314.20" y1="445.00" x2="314.20" y2="449.20" stroke="#222" stroke-width="1.2" />
<text x="314.20" y="459.60" font-size="8.9" font-weight="bold" text-anchor="middle">1</text>
<line x1="349.40" y1="445.00" x2="349.40" y2="449.20" stroke="#222" stroke-width="1.2" />
<text x="349.40" y="459.60" font-size="8.9" font-weight="bold" text-anchor="middle">2</text>
<line x1="384.60" y1="445.00" x2="384.60" y2="449.20" stroke="#222" stroke-width="1.2" />
<text x="384.60" y="459.60" font-size="8.9" font-weight="bold" text-anchor="middle">3</text>
<line x1="419.80" y1="445.00" x2="419.80" y2="449.20" stroke="#222" stroke-width="1.2" />
<text x="419.80" y="459.60" font-size="8.9" font-weight="bold" text-anchor="middle">4</text>
<line x1="455.00" y1="445.00" x2="455.00" y2="449.20" stroke="#222" stroke-width="1.2" />
<text x="455.00" y="459.60" font-size="8.9" font-weight="bold" text-anchor="middle">5</text>
<text x="367.00" y="472.40" font-size="9.3" font-weight="bold" text-anchor="middle">Days</text>
<text transform="translate(244.60,388.20) rotate(-90)" font-size="9.45" font-weight="bold" text-anchor="middle">Relative cell growth</text>
<text transform="translate(256.40,388.20) rotate(-90)" font-size="9.45" font-weight="bold" text-anchor="middle">(folds increase vs. day 0)</text>
<polyline points="279.00,437.43 314.20,431.67 349.40,417.51 384.60,388.58 419.80,357.91" fill="none" stroke="#f29aa2" stroke-width="1.1" />
<line x1="314.20" y1="431.29" x2="314.20" y2="432.05" stroke="#f29aa2" stroke-width="1.0" />
<line x1="311.60" y1="431.29" x2="316.80" y2="431.29" stroke="#f29aa2" stroke-width="1.0" />
<line x1="311.60" y1="432.05" x2="316.80" y2="432.05" stroke="#f29aa2" stroke-width="1.0" />
<line x1="349.40" y1="416.90" x2="349.40" y2="418.11" stroke="#f29aa2" stroke-width="1.0" />
<line x1="346.80" y1="416.90" x2="352.00" y2="416.90" stroke="#f29aa2" stroke-width="1.0" />
<line x1="346.80" y1="418.11" x2="352.00" y2="418.11" stroke="#f29aa2" stroke-width="1.0" />
<line x1="384.60" y1="384.79" x2="384.60" y2="392.37" stroke="#f29aa2" stroke-width="1.0" />
<line x1="382.00" y1="384.79" x2="387.20" y2="384.79" stroke="#f29aa2" stroke-width="1.0" />
<line x1="382.00" y1="392.37" x2="387.20" y2="392.37" stroke="#f29aa2" stroke-width="1.0" />
<line x1="419.80" y1="357.15" x2="419.80" y2="358.66" stroke="#f29aa2" stroke-width="1.0" />
<line x1="417.20" y1="357.15" x2="422.40" y2="357.15" stroke="#f29aa2" stroke-width="1.0" />
<line x1="417.20" y1="358.66" x2="422.40" y2="358.66" stroke="#f29aa2" stroke-width="1.0" />
<polygon points="279.00,434.40 276.10,439.45 281.90,439.45" fill="#f07c86" />
<polygon points="314.20,428.64 311.30,433.69 317.10,433.69" fill="#f07c86" />
<polygon points="349.40,414.48 346.50,419.53 352.30,419.53" fill="#f07c86" />
<polygon points="384.60,385.55 381.70,390.60 387.50,390.60" fill="#f07c86" />
<polygon points="419.80,354.88 416.90,359.93 422.70,359.93" fill="#f07c86" />
<polyline points="279.00,437.43 314.20,434.47 349.40,426.67 384.60,411.68 419.80,399.18" fill="none" stroke="#8ab9f6" stroke-width="1.1" />
<line x1="279.00" y1="437.20" x2="279.00" y2="437.65" stroke="#8ab9f6" stroke-width="1.0" />
<line x1="276.40" y1="437.20" x2="281.60" y2="437.20" stroke="#8ab9f6" stroke-width="1.0" />
<line x1="276.40" y1="437.65" x2="281.60" y2="437.65" stroke="#8ab9f6" stroke-width="1.0" />
<line x1="314.20" y1="433.87" x2="314.20" y2="435.08" stroke="#8ab9f6" stroke-width="1.0" />
<line x1="311.60" y1="433.87" x2="316.80" y2="433.87" stroke="#8ab9f6" stroke-width="1.0" />
<line x1="311.60" y1="435.08" x2="316.80" y2="435.08" stroke="#8ab9f6" stroke-width="1.0" />
<line x1="349.40" y1="425.92" x2="349.40" y2="427.43" stroke="#8ab9f6" stroke-width="1.0" />
<line x1="346.80" y1="425.92" x2="352.00" y2="425.92" stroke="#8ab9f6" stroke-width="1.0" />
<line x1="346.80" y1="427.43" x2="352.00" y2="427.43" stroke="#8ab9f6" stroke-width="1.0" />
<line x1="384.60" y1="407.13" x2="384.60" y2="416.22" stroke="#8ab9f6" stroke-width="1.0" />
<line x1="382.00" y1="407.13" x2="387.20" y2="407.13" stroke="#8ab9f6" stroke-width="1.0" />
<line x1="382.00" y1="416.22" x2="387.20" y2="416.22" stroke="#8ab9f6" stroke-width="1.0" />
<line x1="419.80" y1="398.27" x2="419.80" y2="400.09" stroke="#8ab9f6" stroke-width="1.0" />
<line x1="417.20" y1="398.27" x2="422.40" y2="398.27" stroke="#8ab9f6" stroke-width="1.0" />
<line x1="417.20" y1="400.09" x2="422.40" y2="400.09" stroke="#8ab9f6" stroke-width="1.0" />
<circle cx="279.00" cy="437.43" r="2.55" fill="#5e9ff6" />
<circle cx="314.20" cy="434.47" r="2.55" fill="#5e9ff6" />
<circle cx="349.40" cy="426.67" r="2.55" fill="#5e9ff6" />
<circle cx="384.60" cy="411.68" r="2.55" fill="#5e9ff6" />
<circle cx="419.80" cy="399.18" r="2.55" fill="#5e9ff6" />
<line x1="284.00" y1="332.00" x2="296.00" y2="332.00" stroke="#8ab9f6" stroke-width="1.1" />
<circle cx="290.00" cy="332.00" r="2.55" fill="#5e9ff6" />
<text x="303.30" y="335.20" font-size="9.5">HepG2-Vec</text>
<line x1="284.00" y1="347.40" x2="296.00" y2="347.40" stroke="#f29aa2" stroke-width="1.1" />
<polygon points="290.00,344.37 287.10,349.42 292.90,349.42" fill="#f07c86" />
<text x="303.30" y="350.60" font-size="9.5">HepG2-PPAT</text>
<polyline points="425.00,354.60 431.00,354.60 431.00,398.40 425.00,398.40" fill="none" stroke="#2a2a2a" stroke-width="1.2" />
<text transform="translate(431.76,369.20) rotate(90)" font-size="11.0" text-anchor="middle" font-weight="bold">*</text>
<text transform="translate(431.76,374.40) rotate(90)" font-size="11.0" text-anchor="middle" font-weight="bold">*</text>
<text transform="translate(431.76,379.60) rotate(90)" font-size="11.0" text-anchor="middle" font-weight="bold">*</text>
<text transform="translate(431.76,384.80) rotate(90)" font-size="11.0" text-anchor="middle" font-weight="bold">*</text>
<text x="58.00" y="500.20" font-size="13" text-anchor="middle">sgCtrl</text>
<text x="58.00" y="585.20" font-size="13" text-anchor="middle">sgCtrl</text>
<text x="124.20" y="500.20" font-size="13" text-anchor="middle">sgPPAT</text>
<text x="124.20" y="585.20" font-size="13" text-anchor="middle">sgPPAT</text>
<text x="191.60" y="500.20" font-size="13" text-anchor="middle">sgPPAT+HX</text>
<text x="191.60" y="585.20" font-size="13" text-anchor="middle">sgPPAT+HX</text>
<text transform="translate(17.90,538.00) rotate(-90)" font-size="13" text-anchor="middle">HuH6</text>
<text transform="translate(18.00,622.00) rotate(-90)" font-size="13" text-anchor="middle">HepG2</text>
<circle cx="58.60" cy="538.80" r="31.60" fill="#fefdff"/>
<path d="M58.60,507.20 A31.60,31.60 0 0 0 58.60,570.40" fill="none" stroke="#d7c3ef" stroke-width="1.5"/>
<path d="M58.60,570.40 A31.60,31.60 0 0 0 58.60,507.20" fill="none" stroke="#efe6f8" stroke-width="1.0"/>
<circle cx="56.60" cy="538.80" r="27.10" fill="none" stroke="#f1e9f9" stroke-width="1.0"/>
<circle cx="53.37" cy="549.26" r="0.50" fill="#c6aef0" />
<circle cx="53.88" cy="532.22" r="0.50" fill="#c6aef0" />
<circle cx="40.86" cy="534.73" r="0.50" fill="#c6aef0" />
<circle cx="78.63" cy="546.44" r="0.50" fill="#c6aef0" />
<circle cx="77.87" cy="543.43" r="0.50" fill="#c6aef0" />
<circle cx="66.81" cy="542.65" r="0.50" fill="#c6aef0" />
<circle cx="34.25" cy="551.30" r="0.50" fill="#c6aef0" />
<circle cx="68.73" cy="548.78" r="0.50" fill="#c6aef0" />
<circle cx="38.20" cy="517.77" r="0.50" fill="#c6aef0" />
<circle cx="41.82" cy="529.97" r="0.50" fill="#c6aef0" />
<circle cx="65.02" cy="537.83" r="0.50" fill="#c6aef0" />
<circle cx="68.80" cy="526.22" r="0.50" fill="#c6aef0" />
<circle cx="64.97" cy="546.93" r="0.50" fill="#c6aef0" />
<circle cx="48.83" cy="564.18" r="0.50" fill="#c6aef0" />
<circle cx="68.28" cy="559.61" r="0.50" fill="#c6aef0" />
<circle cx="46.80" cy="524.73" r="0.50" fill="#c6aef0" />
<circle cx="51.39" cy="536.57" r="0.50" fill="#c6aef0" />
<circle cx="71.31" cy="543.80" r="0.50" fill="#c6aef0" />
<circle cx="50.26" cy="520.97" r="0.50" fill="#c6aef0" />
<circle cx="49.57" cy="559.99" r="0.50" fill="#c6aef0" />
<circle cx="42.83" cy="543.58" r="0.50" fill="#c6aef0" />
<circle cx="65.53" cy="514.61" r="0.50" fill="#c6aef0" />
<circle cx="59.45" cy="561.60" r="0.50" fill="#c6aef0" />
<circle cx="30.79" cy="534.36" r="0.50" fill="#c6aef0" />
<circle cx="56.52" cy="522.78" r="0.50" fill="#c6aef0" />
<circle cx="68.86" cy="537.52" r="0.50" fill="#c6aef0" />
<circle cx="35.80" cy="551.69" r="0.50" fill="#c6aef0" />
<circle cx="70.76" cy="555.98" r="0.50" fill="#c6aef0" />
<circle cx="82.46" cy="544.80" r="0.50" fill="#c6aef0" />
<circle cx="60.68" cy="516.11" r="0.50" fill="#c6aef0" />
<circle cx="70.56" cy="526.91" r="0.50" fill="#c6aef0" />
<circle cx="50.78" cy="516.95" r="0.50" fill="#c6aef0" />
<circle cx="40.78" cy="529.02" r="0.50" fill="#c6aef0" />
<circle cx="74.27" cy="514.10" r="0.50" fill="#c6aef0" />
<circle cx="34.39" cy="542.77" r="0.50" fill="#c6aef0" />
<circle cx="82.00" cy="548.18" r="0.50" fill="#c6aef0" />
<circle cx="40.53" cy="514.85" r="0.50" fill="#c6aef0" />
<circle cx="65.61" cy="524.35" r="0.50" fill="#c6aef0" />
<circle cx="40.06" cy="554.98" r="0.50" fill="#c6aef0" />
<circle cx="78.85" cy="541.69" r="0.50" fill="#c6aef0" />
<circle cx="63.67" cy="547.76" r="0.50" fill="#c6aef0" />
<circle cx="83.19" cy="548.35" r="0.50" fill="#c6aef0" />
<circle cx="68.90" cy="549.68" r="0.50" fill="#c6aef0" />
<circle cx="36.84" cy="556.58" r="0.50" fill="#c6aef0" />
<circle cx="76.24" cy="548.58" r="0.50" fill="#c6aef0" />
<circle cx="31.66" cy="530.15" r="0.50" fill="#c6aef0" />
<circle cx="70.40" cy="513.43" r="0.50" fill="#c6aef0" />
<circle cx="55.15" cy="557.89" r="0.50" fill="#c6aef0" />
<circle cx="40.73" cy="560.75" r="0.50" fill="#c6aef0" />
<circle cx="69.88" cy="535.73" r="0.50" fill="#c6aef0" />
<circle cx="65.08" cy="551.77" r="0.50" fill="#c6aef0" />
<circle cx="60.79" cy="559.65" r="0.50" fill="#c6aef0" />
<circle cx="45.53" cy="530.60" r="0.50" fill="#c6aef0" />
<circle cx="78.08" cy="539.30" r="0.50" fill="#c6aef0" />
<circle cx="43.17" cy="555.39" r="0.50" fill="#c6aef0" />
<circle cx="82.53" cy="531.54" r="0.50" fill="#c6aef0" />
<circle cx="35.06" cy="536.50" r="0.50" fill="#c6aef0" />
<circle cx="55.47" cy="532.54" r="0.50" fill="#c6aef0" />
<circle cx="80.06" cy="523.11" r="0.50" fill="#c6aef0" />
<circle cx="77.55" cy="519.73" r="0.50" fill="#c6aef0" />
<circle cx="43.77" cy="550.70" r="0.50" fill="#c6aef0" />
<circle cx="77.68" cy="553.32" r="0.50" fill="#c6aef0" />
<circle cx="65.82" cy="541.78" r="0.50" fill="#c6aef0" />
<circle cx="61.71" cy="550.52" r="0.50" fill="#c6aef0" />
<circle cx="54.90" cy="544.63" r="0.50" fill="#c6aef0" />
<circle cx="70.31" cy="538.82" r="0.50" fill="#c6aef0" />
<circle cx="73.19" cy="549.60" r="0.50" fill="#c6aef0" />
<circle cx="86.38" cy="543.29" r="0.50" fill="#c6aef0" />
<circle cx="49.85" cy="531.18" r="0.50" fill="#c6aef0" />
<circle cx="58.35" cy="556.54" r="0.50" fill="#c6aef0" />
<circle cx="51.67" cy="546.75" r="0.50" fill="#c6aef0" />
<circle cx="76.07" cy="514.42" r="0.50" fill="#c6aef0" />
<circle cx="38.14" cy="543.24" r="0.50" fill="#c6aef0" />
<circle cx="66.85" cy="543.74" r="0.50" fill="#c6aef0" />
<circle cx="50.09" cy="551.74" r="0.50" fill="#c6aef0" />
<circle cx="64.35" cy="528.16" r="0.50" fill="#c6aef0" />
<circle cx="87.64" cy="543.04" r="0.50" fill="#c6aef0" />
<circle cx="47.26" cy="536.76" r="0.50" fill="#c6aef0" />
<circle cx="53.83" cy="537.47" r="0.50" fill="#c6aef0" />
<circle cx="29.29" cy="533.57" r="0.50" fill="#c6aef0" />
<circle cx="75.01" cy="519.79" r="0.50" fill="#c6aef0" />
<circle cx="57.33" cy="556.98" r="0.50" fill="#c6aef0" />
<circle cx="71.77" cy="561.73" r="0.50" fill="#c6aef0" />
<circle cx="32.59" cy="533.40" r="0.50" fill="#c6aef0" />
<circle cx="51.78" cy="551.27" r="0.50" fill="#c6aef0" />
<circle cx="69.86" cy="511.13" r="0.50" fill="#c6aef0" />
<circle cx="74.84" cy="517.20" r="0.50" fill="#c6aef0" />
<circle cx="69.38" cy="515.26" r="0.50" fill="#c6aef0" />
<circle cx="61.75" cy="560.23" r="0.50" fill="#c6aef0" />
<circle cx="55.45" cy="542.84" r="0.50" fill="#c6aef0" />
<circle cx="74.27" cy="541.58" r="0.50" fill="#c6aef0" />
<circle cx="57.16" cy="563.81" r="0.50" fill="#c6aef0" />
<circle cx="77.98" cy="533.37" r="0.50" fill="#c6aef0" />
<circle cx="86.21" cy="527.27" r="0.50" fill="#c6aef0" />
<circle cx="76.05" cy="533.73" r="0.50" fill="#c6aef0" />
<circle cx="61.25" cy="552.89" r="0.50" fill="#c6aef0" />
<circle cx="63.07" cy="551.65" r="0.50" fill="#c6aef0" />
<circle cx="38.29" cy="518.72" r="0.50" fill="#c6aef0" />
<circle cx="69.82" cy="521.23" r="0.50" fill="#c6aef0" />
<circle cx="43.19" cy="516.73" r="0.50" fill="#c6aef0" />
<circle cx="79.67" cy="551.22" r="0.50" fill="#c6aef0" />
<circle cx="81.06" cy="524.50" r="0.50" fill="#c6aef0" />
<circle cx="58.62" cy="517.99" r="0.50" fill="#c6aef0" />
<circle cx="70.21" cy="562.89" r="0.50" fill="#c6aef0" />
<circle cx="45.25" cy="562.20" r="0.50" fill="#c6aef0" />
<circle cx="77.24" cy="535.45" r="0.50" fill="#c6aef0" />
<circle cx="34.76" cy="555.81" r="0.50" fill="#c6aef0" />
<circle cx="56.64" cy="526.54" r="0.50" fill="#c6aef0" />
<circle cx="66.77" cy="547.18" r="0.50" fill="#c6aef0" />
<circle cx="80.94" cy="523.59" r="0.50" fill="#c6aef0" />
<circle cx="75.21" cy="560.55" r="0.50" fill="#c6aef0" />
<circle cx="82.82" cy="535.79" r="0.50" fill="#c6aef0" />
<circle cx="45.45" cy="556.80" r="0.50" fill="#c6aef0" />
<circle cx="61.04" cy="541.43" r="0.50" fill="#c6aef0" />
<circle cx="82.46" cy="534.39" r="0.50" fill="#c6aef0" />
<circle cx="29.92" cy="533.97" r="0.50" fill="#c6aef0" />
<circle cx="32.89" cy="550.15" r="0.50" fill="#c6aef0" />
<circle cx="64.97" cy="526.53" r="0.50" fill="#c6aef0" />
<circle cx="58.41" cy="555.09" r="0.50" fill="#c6aef0" />
<circle cx="59.97" cy="561.81" r="0.50" fill="#c6aef0" />
<circle cx="57.45" cy="558.25" r="0.50" fill="#c6aef0" />
<circle cx="78.11" cy="559.86" r="0.50" fill="#c6aef0" />
<circle cx="46.24" cy="554.99" r="0.50" fill="#c6aef0" />
<circle cx="33.81" cy="524.49" r="0.50" fill="#c6aef0" />
<circle cx="33.28" cy="552.59" r="0.50" fill="#c6aef0" />
<circle cx="36.65" cy="538.57" r="0.50" fill="#c6aef0" />
<circle cx="54.53" cy="538.19" r="0.50" fill="#c6aef0" />
<circle cx="46.62" cy="543.53" r="0.50" fill="#c6aef0" />
<circle cx="85.50" cy="539.46" r="0.50" fill="#c6aef0" />
<circle cx="68.31" cy="557.10" r="0.50" fill="#c6aef0" />
<circle cx="55.11" cy="516.62" r="0.50" fill="#c6aef0" />
<circle cx="48.64" cy="558.05" r="0.50" fill="#c6aef0" />
<circle cx="33.54" cy="529.70" r="0.50" fill="#c6aef0" />
<circle cx="76.31" cy="552.73" r="0.50" fill="#c6aef0" />
<circle cx="58.75" cy="554.64" r="0.50" fill="#c6aef0" />
<circle cx="61.59" cy="517.56" r="0.50" fill="#c6aef0" />
<circle cx="34.31" cy="528.88" r="0.50" fill="#c6aef0" />
<circle cx="75.69" cy="528.33" r="0.50" fill="#c6aef0" />
<circle cx="42.33" cy="524.90" r="0.50" fill="#c6aef0" />
<circle cx="33.62" cy="536.89" r="0.50" fill="#c6aef0" />
<circle cx="37.60" cy="545.28" r="0.50" fill="#c6aef0" />
<circle cx="29.67" cy="542.82" r="0.50" fill="#c6aef0" />
<circle cx="49.76" cy="512.04" r="0.50" fill="#c6aef0" />
<circle cx="72.94" cy="533.35" r="0.50" fill="#c6aef0" />
<circle cx="31.39" cy="528.12" r="0.50" fill="#c6aef0" />
<circle cx="64.57" cy="529.39" r="0.50" fill="#c6aef0" />
<circle cx="73.05" cy="552.65" r="0.50" fill="#c6aef0" />
<circle cx="71.86" cy="545.30" r="0.50" fill="#c6aef0" />
<circle cx="80.67" cy="549.72" r="0.50" fill="#c6aef0" />
<circle cx="64.63" cy="510.94" r="0.50" fill="#c6aef0" />
<circle cx="72.99" cy="559.82" r="0.50" fill="#c6aef0" />
<circle cx="52.52" cy="529.18" r="0.50" fill="#c6aef0" />
<circle cx="80.54" cy="518.92" r="0.50" fill="#c6aef0" />
<circle cx="64.18" cy="567.64" r="0.50" fill="#c6aef0" />
<circle cx="41.74" cy="551.34" r="0.50" fill="#c6aef0" />
<circle cx="86.01" cy="537.05" r="0.50" fill="#c6aef0" />
<circle cx="69.04" cy="555.59" r="0.50" fill="#c6aef0" />
<circle cx="41.16" cy="537.08" r="0.50" fill="#c6aef0" />
<circle cx="64.28" cy="554.81" r="0.50" fill="#c6aef0" />
<circle cx="57.87" cy="534.66" r="0.50" fill="#c6aef0" />
<circle cx="40.70" cy="532.48" r="0.55" fill="#4a20d8" />
<circle cx="43.15" cy="537.10" r="2.71" fill="#8f66ea" opacity="0.55"/>
<circle cx="43.15" cy="537.10" r="2.21" fill="#3a12c8" />
<circle cx="83.88" cy="536.42" r="2.75" fill="#8f66ea" opacity="0.55"/>
<circle cx="83.88" cy="536.42" r="2.25" fill="#3a12c8" />
<circle cx="71.48" cy="546.32" r="2.53" fill="#8f66ea" opacity="0.55"/>
<circle cx="71.48" cy="546.32" r="2.03" fill="#2c0ca8" />
<circle cx="57.28" cy="549.01" r="0.87" fill="#3210b4" />
<circle cx="64.71" cy="525.60" r="0.59" fill="#5228dc" />
<circle cx="36.98" cy="528.53" r="0.56" fill="#3a12c8" />
<circle cx="62.35" cy="527.14" r="2.49" fill="#8f66ea" opacity="0.55"/>
<circle cx="62.35" cy="527.14" r="1.99" fill="#4a20d8" />
<circle cx="79.69" cy="530.19" r="2.21" fill="#8f66ea" opacity="0.55"/>
<circle cx="79.69" cy="530.19" r="1.71" fill="#3a12c8" />
<circle cx="48.11" cy="530.32" r="0.68" fill="#3a12c8" />
<circle cx="42.64" cy="543.57" r="1.10" fill="#4a20d8" />
<circle cx="54.31" cy="534.68" r="1.96" fill="#8f66ea" opacity="0.55"/>
<circle cx="54.31" cy="534.68" r="1.46" fill="#3a12c8" />
<circle cx="72.96" cy="535.99" r="0.61" fill="#4a20d8" />
<circle cx="44.21" cy="523.73" r="0.63" fill="#24088a" />
<circle cx="46.54" cy="538.79" r="0.77" fill="#3a12c8" />
<circle cx="64.09" cy="538.61" r="0.55" fill="#5228dc" />
<circle cx="46.79" cy="534.88" r="0.96" fill="#24088a" />
<circle cx="78.92" cy="554.83" r="0.89" fill="#24088a" />
<circle cx="32.75" cy="531.13" r="2.74" fill="#8f66ea" opacity="0.55"/>
<circle cx="32.75" cy="531.13" r="2.24" fill="#4a20d8" />
<circle cx="47.79" cy="512.59" r="0.76" fill="#3210b4" />
<circle cx="57.18" cy="528.20" r="2.81" fill="#8f66ea" opacity="0.55"/>
<circle cx="57.18" cy="528.20" r="2.31" fill="#3a12c8" />
<circle cx="60.37" cy="535.88" r="1.25" fill="#4a20d8" />
<circle cx="52.50" cy="541.64" r="1.35" fill="#24088a" />
<circle cx="74.69" cy="521.78" r="0.69" fill="#2c0ca8" />
<circle cx="56.46" cy="533.11" r="0.61" fill="#4a20d8" />
<circle cx="44.77" cy="543.70" r="2.72" fill="#8f66ea" opacity="0.55"/>
<circle cx="44.77" cy="543.70" r="2.22" fill="#5228dc" />
<circle cx="56.23" cy="543.55" r="2.45" fill="#8f66ea" opacity="0.55"/>
<circle cx="56.23" cy="543.55" r="1.95" fill="#2c0ca8" />
<circle cx="58.02" cy="539.53" r="0.81" fill="#24088a" />
<circle cx="54.41" cy="561.58" r="0.66" fill="#3a12c8" />
<circle cx="80.35" cy="552.77" r="0.59" fill="#5228dc" />
<circle cx="62.74" cy="539.91" r="0.72" fill="#2c0ca8" />
<circle cx="82.74" cy="552.97" r="2.36" fill="#8f66ea" opacity="0.55"/>
<circle cx="82.74" cy="552.97" r="1.86" fill="#2c0ca8" />
<circle cx="45.32" cy="518.57" r="2.44" fill="#8f66ea" opacity="0.55"/>
<circle cx="45.32" cy="518.57" r="1.94" fill="#24088a" />
<circle cx="60.78" cy="514.62" r="0.99" fill="#4a20d8" />
<circle cx="54.89" cy="516.16" r="0.55" fill="#3210b4" />
<circle cx="76.23" cy="524.57" r="2.02" fill="#8f66ea" opacity="0.55"/>
<circle cx="76.23" cy="524.57" r="1.52" fill="#5228dc" />
<circle cx="71.86" cy="554.69" r="1.01" fill="#3a12c8" />
<circle cx="68.70" cy="519.41" r="2.48" fill="#8f66ea" opacity="0.55"/>
<circle cx="68.70" cy="519.41" r="1.98" fill="#3210b4" />
<circle cx="80.66" cy="532.55" r="0.56" fill="#3a12c8" />
<circle cx="70.11" cy="551.55" r="0.57" fill="#24088a" />
<circle cx="37.45" cy="530.65" r="1.26" fill="#3210b4" />
<circle cx="59.10" cy="553.48" r="0.93" fill="#3a12c8" />
<circle cx="58.38" cy="518.52" r="1.07" fill="#3210b4" />
<circle cx="34.23" cy="534.78" r="0.95" fill="#3a12c8" />
<circle cx="66.47" cy="527.39" r="2.08" fill="#8f66ea" opacity="0.55"/>
<circle cx="66.47" cy="527.39" r="1.58" fill="#2c0ca8" />
<circle cx="56.80" cy="510.61" r="0.99" fill="#24088a" />
<circle cx="82.78" cy="551.45" r="0.70" fill="#3a12c8" />
<circle cx="41.59" cy="523.42" r="0.56" fill="#2c0ca8" />
<circle cx="47.25" cy="558.90" r="1.91" fill="#8f66ea" opacity="0.55"/>
<circle cx="47.25" cy="558.90" r="1.41" fill="#5228dc" />
<circle cx="55.69" cy="537.48" r="0.56" fill="#4a20d8" />
<circle cx="67.49" cy="537.25" r="0.64" fill="#24088a" />
<circle cx="53.38" cy="558.68" r="0.94" fill="#24088a" />
<circle cx="61.67" cy="510.46" r="1.09" fill="#4a20d8" />
<circle cx="86.01" cy="535.01" r="0.55" fill="#24088a" />
<circle cx="76.65" cy="548.21" r="2.83" fill="#8f66ea" opacity="0.55"/>
<circle cx="76.65" cy="548.21" r="2.33" fill="#4a20d8" />
<circle cx="37.85" cy="556.67" r="2.61" fill="#8f66ea" opacity="0.55"/>
<circle cx="37.85" cy="556.67" r="2.11" fill="#3a12c8" />
<circle cx="49.21" cy="533.53" r="1.04" fill="#4a20d8" />
<circle cx="76.02" cy="557.97" r="1.02" fill="#3a12c8" />
<circle cx="54.62" cy="525.63" r="2.50" fill="#8f66ea" opacity="0.55"/>
<circle cx="54.62" cy="525.63" r="2.00" fill="#24088a" />
<circle cx="49.63" cy="545.84" r="2.67" fill="#8f66ea" opacity="0.55"/>
<circle cx="49.63" cy="545.84" r="2.17" fill="#3210b4" />
<circle cx="43.63" cy="543.58" r="0.59" fill="#4a20d8" />
<circle cx="51.52" cy="545.78" r="0.75" fill="#4a20d8" />
<circle cx="58.72" cy="512.60" r="0.58" fill="#2c0ca8" />
<circle cx="52.35" cy="512.37" r="0.70" fill="#4a20d8" />
<circle cx="75.00" cy="545.89" r="2.41" fill="#8f66ea" opacity="0.55"/>
<circle cx="75.00" cy="545.89" r="1.91" fill="#3a12c8" />
<circle cx="46.61" cy="553.16" r="0.69" fill="#3a12c8" />
<circle cx="57.36" cy="545.18" r="1.34" fill="#3210b4" />
<circle cx="71.73" cy="533.18" r="0.68" fill="#5228dc" />
<circle cx="48.53" cy="561.84" r="2.16" fill="#8f66ea" opacity="0.55"/>
<circle cx="48.53" cy="561.84" r="1.66" fill="#24088a" />
<circle cx="77.85" cy="521.67" r="1.27" fill="#5228dc" />
<circle cx="35.49" cy="531.42" r="0.55" fill="#3210b4" />
<circle cx="39.60" cy="550.71" r="0.58" fill="#4a20d8" />
<circle cx="31.40" cy="541.27" r="1.09" fill="#2c0ca8" />
<circle cx="42.09" cy="541.72" r="0.71" fill="#3210b4" />
<circle cx="56.97" cy="515.75" r="0.85" fill="#2c0ca8" />
<circle cx="51.90" cy="559.07" r="0.83" fill="#2c0ca8" />
<circle cx="53.72" cy="532.66" r="1.00" fill="#24088a" />
<circle cx="40.31" cy="532.81" r="0.75" fill="#24088a" />
<circle cx="39.60" cy="548.12" r="0.66" fill="#2c0ca8" />
<circle cx="53.89" cy="546.03" r="0.65" fill="#4a20d8" />
<circle cx="123.40" cy="539.00" r="29.80" fill="#fefdff"/>
<path d="M123.40,509.20 A29.80,29.80 0 0 0 123.40,568.80" fill="none" stroke="#d7c3ef" stroke-width="1.5"/>
<path d="M123.40,568.80 A29.80,29.80 0 0 0 123.40,509.20" fill="none" stroke="#efe6f8" stroke-width="1.0"/>
<circle cx="121.40" cy="539.00" r="25.30" fill="none" stroke="#f1e9f9" stroke-width="1.0"/>
<circle cx="128.04" cy="527.15" r="0.50" fill="#c6aef0" />
<circle cx="149.60" cy="542.32" r="0.50" fill="#c6aef0" />
<circle cx="105.29" cy="555.41" r="0.50" fill="#c6aef0" />
<circle cx="127.06" cy="553.25" r="0.50" fill="#c6aef0" />
<circle cx="123.66" cy="519.03" r="0.50" fill="#c6aef0" />
<circle cx="108.23" cy="531.36" r="0.50" fill="#c6aef0" />
<circle cx="115.43" cy="520.02" r="0.50" fill="#c6aef0" />
<circle cx="129.93" cy="513.76" r="0.50" fill="#c6aef0" />
<circle cx="145.79" cy="553.73" r="0.50" fill="#c6aef0" />
<circle cx="106.38" cy="554.09" r="0.50" fill="#c6aef0" />
<circle cx="109.02" cy="545.57" r="0.50" fill="#c6aef0" />
<circle cx="134.35" cy="513.40" r="0.50" fill="#c6aef0" />
<circle cx="136.26" cy="552.23" r="0.50" fill="#c6aef0" />
<circle cx="125.58" cy="513.71" r="0.50" fill="#c6aef0" />
<circle cx="142.81" cy="535.08" r="0.50" fill="#c6aef0" />
<circle cx="147.86" cy="551.11" r="0.50" fill="#c6aef0" />
<circle cx="141.90" cy="530.03" r="0.50" fill="#c6aef0" />
<circle cx="104.82" cy="542.77" r="0.50" fill="#c6aef0" />
<circle cx="126.16" cy="525.90" r="0.50" fill="#c6aef0" />
<circle cx="139.50" cy="561.78" r="0.50" fill="#c6aef0" />
<circle cx="143.32" cy="555.25" r="0.50" fill="#c6aef0" />
<circle cx="115.51" cy="514.19" r="0.50" fill="#c6aef0" />
<circle cx="129.92" cy="533.94" r="0.50" fill="#c6aef0" />
<circle cx="123.58" cy="537.97" r="0.50" fill="#c6aef0" />
<circle cx="138.44" cy="554.16" r="0.50" fill="#c6aef0" />
<circle cx="146.67" cy="544.60" r="0.50" fill="#c6aef0" />
<circle cx="145.18" cy="533.76" r="0.50" fill="#c6aef0" />
<circle cx="104.98" cy="535.69" r="0.50" fill="#c6aef0" />
<circle cx="124.18" cy="530.11" r="0.50" fill="#c6aef0" />
<circle cx="114.85" cy="565.13" r="0.50" fill="#c6aef0" />
<circle cx="128.58" cy="552.50" r="0.50" fill="#c6aef0" />
<circle cx="123.64" cy="538.07" r="0.50" fill="#c6aef0" />
<circle cx="95.93" cy="532.41" r="0.50" fill="#c6aef0" />
<circle cx="120.55" cy="554.66" r="0.50" fill="#c6aef0" />
<circle cx="130.82" cy="527.21" r="0.50" fill="#c6aef0" />
<circle cx="102.75" cy="535.56" r="0.50" fill="#c6aef0" />
<circle cx="141.25" cy="542.32" r="0.50" fill="#c6aef0" />
<circle cx="119.48" cy="533.62" r="0.50" fill="#c6aef0" />
<circle cx="132.56" cy="564.00" r="0.50" fill="#c6aef0" />
<circle cx="118.55" cy="532.57" r="0.50" fill="#c6aef0" />
<circle cx="125.96" cy="557.26" r="0.50" fill="#c6aef0" />
<circle cx="109.78" cy="553.47" r="0.50" fill="#c6aef0" />
<circle cx="115.39" cy="516.39" r="0.50" fill="#c6aef0" />
<circle cx="111.84" cy="552.56" r="0.50" fill="#c6aef0" />
<circle cx="138.68" cy="539.65" r="0.50" fill="#c6aef0" />
<circle cx="127.54" cy="532.93" r="0.50" fill="#c6aef0" />
<circle cx="110.74" cy="539.34" r="0.50" fill="#c6aef0" />
<circle cx="124.64" cy="526.60" r="0.50" fill="#c6aef0" />
<circle cx="109.18" cy="542.17" r="0.50" fill="#c6aef0" />
<circle cx="130.57" cy="533.01" r="0.50" fill="#c6aef0" />
<circle cx="107.63" cy="523.51" r="0.50" fill="#c6aef0" />
<circle cx="139.09" cy="527.06" r="0.50" fill="#c6aef0" />
<circle cx="129.08" cy="535.41" r="0.50" fill="#c6aef0" />
<circle cx="100.91" cy="523.75" r="0.50" fill="#c6aef0" />
<circle cx="127.50" cy="540.46" r="0.50" fill="#c6aef0" />
<circle cx="108.39" cy="528.64" r="0.50" fill="#c6aef0" />
<circle cx="120.37" cy="527.24" r="0.50" fill="#c6aef0" />
<circle cx="100.71" cy="546.43" r="0.50" fill="#c6aef0" />
<circle cx="119.66" cy="547.76" r="0.50" fill="#c6aef0" />
<circle cx="133.52" cy="544.51" r="0.50" fill="#c6aef0" />
<circle cx="131.72" cy="560.29" r="0.50" fill="#c6aef0" />
<circle cx="104.28" cy="536.00" r="0.50" fill="#c6aef0" />
<circle cx="114.27" cy="561.31" r="0.50" fill="#c6aef0" />
<circle cx="138.32" cy="515.20" r="0.50" fill="#c6aef0" />
<circle cx="114.66" cy="542.31" r="0.50" fill="#c6aef0" />
<circle cx="130.49" cy="542.80" r="0.50" fill="#c6aef0" />
<circle cx="100.05" cy="551.80" r="0.50" fill="#c6aef0" />
<circle cx="100.54" cy="529.76" r="0.50" fill="#c6aef0" />
<circle cx="105.30" cy="555.97" r="0.50" fill="#c6aef0" />
<circle cx="114.25" cy="562.67" r="0.50" fill="#c6aef0" />
<circle cx="143.64" cy="551.45" r="0.50" fill="#c6aef0" />
<circle cx="130.37" cy="558.63" r="0.50" fill="#c6aef0" />
<circle cx="108.21" cy="544.32" r="0.50" fill="#c6aef0" />
<circle cx="121.85" cy="519.57" r="0.50" fill="#c6aef0" />
<circle cx="113.86" cy="528.63" r="0.50" fill="#c6aef0" />
<circle cx="110.70" cy="526.24" r="0.50" fill="#c6aef0" />
<circle cx="109.72" cy="552.58" r="0.50" fill="#c6aef0" />
<circle cx="125.72" cy="532.35" r="0.50" fill="#c6aef0" />
<circle cx="125.81" cy="545.67" r="0.50" fill="#c6aef0" />
<circle cx="109.97" cy="528.50" r="0.50" fill="#c6aef0" />
<circle cx="109.34" cy="562.79" r="0.50" fill="#c6aef0" />
<circle cx="146.94" cy="545.61" r="0.50" fill="#c6aef0" />
<circle cx="113.32" cy="513.73" r="0.50" fill="#c6aef0" />
<circle cx="116.34" cy="561.98" r="0.50" fill="#c6aef0" />
<circle cx="102.44" cy="524.65" r="0.50" fill="#c6aef0" />
<circle cx="130.23" cy="536.61" r="0.50" fill="#c6aef0" />
<circle cx="127.66" cy="530.77" r="0.50" fill="#c6aef0" />
<circle cx="119.25" cy="520.14" r="0.50" fill="#c6aef0" />
<circle cx="127.55" cy="514.19" r="0.50" fill="#c6aef0" />
<circle cx="145.27" cy="525.80" r="0.50" fill="#c6aef0" />
<circle cx="136.80" cy="553.77" r="0.50" fill="#c6aef0" />
<circle cx="150.67" cy="540.49" r="0.50" fill="#c6aef0" />
<circle cx="115.66" cy="561.23" r="0.50" fill="#c6aef0" />
<circle cx="131.39" cy="550.19" r="0.50" fill="#c6aef0" />
<circle cx="135.76" cy="524.29" r="0.50" fill="#c6aef0" />
<circle cx="128.01" cy="517.65" r="0.50" fill="#c6aef0" />
<circle cx="106.67" cy="537.75" r="0.60" fill="#24088a" />
<circle cx="127.93" cy="540.95" r="1.13" fill="#4a20d8" />
<circle cx="132.71" cy="553.82" r="0.57" fill="#3a12c8" />
<circle cx="122.67" cy="546.74" r="0.57" fill="#24088a" />
<circle cx="149.75" cy="537.08" r="0.61" fill="#2c0ca8" />
<circle cx="105.11" cy="549.53" r="1.91" fill="#8f66ea" opacity="0.55"/>
<circle cx="105.11" cy="549.53" r="1.41" fill="#3210b4" />
<circle cx="100.51" cy="533.34" r="2.15" fill="#8f66ea" opacity="0.55"/>
<circle cx="100.51" cy="533.34" r="1.65" fill="#4a20d8" />
<circle cx="117.92" cy="558.42" r="0.81" fill="#3210b4" />
<circle cx="122.25" cy="556.73" r="0.62" fill="#2c0ca8" />
<circle cx="137.78" cy="559.69" r="1.19" fill="#4a20d8" />
<circle cx="135.75" cy="544.32" r="0.66" fill="#5228dc" />
<circle cx="126.21" cy="562.93" r="1.36" fill="#3a12c8" />
<circle cx="138.18" cy="550.07" r="2.32" fill="#8f66ea" opacity="0.55"/>
<circle cx="138.18" cy="550.07" r="1.82" fill="#24088a" />
<circle cx="128.02" cy="536.24" r="0.71" fill="#3a12c8" />
<circle cx="143.14" cy="545.47" r="2.35" fill="#8f66ea" opacity="0.55"/>
<circle cx="143.14" cy="545.47" r="1.85" fill="#2c0ca8" />
<circle cx="138.20" cy="532.05" r="2.48" fill="#8f66ea" opacity="0.55"/>
<circle cx="138.20" cy="532.05" r="1.98" fill="#24088a" />
<circle cx="104.58" cy="524.77" r="1.39" fill="#3a12c8" />
<circle cx="139.69" cy="551.76" r="1.28" fill="#2c0ca8" />
<circle cx="138.60" cy="542.64" r="0.55" fill="#4a20d8" />
<circle cx="145.67" cy="544.46" r="2.64" fill="#8f66ea" opacity="0.55"/>
<circle cx="145.67" cy="544.46" r="2.14" fill="#3a12c8" />
<circle cx="130.58" cy="523.44" r="0.81" fill="#5228dc" />
<circle cx="118.80" cy="550.18" r="2.25" fill="#8f66ea" opacity="0.55"/>
<circle cx="118.80" cy="550.18" r="1.75" fill="#5228dc" />
<circle cx="106.37" cy="540.77" r="2.25" fill="#8f66ea" opacity="0.55"/>
<circle cx="106.37" cy="540.77" r="1.75" fill="#3210b4" />
<circle cx="103.03" cy="532.36" r="0.57" fill="#2c0ca8" />
<circle cx="112.23" cy="547.36" r="2.91" fill="#8f66ea" opacity="0.55"/>
<circle cx="112.23" cy="547.36" r="2.41" fill="#3210b4" />
<circle cx="114.14" cy="563.47" r="0.74" fill="#5228dc" />
<circle cx="136.24" cy="527.49" r="0.55" fill="#4a20d8" />
<circle cx="113.09" cy="525.80" r="0.86" fill="#3a12c8" />
<circle cx="113.69" cy="543.26" r="0.57" fill="#3a12c8" />
<circle cx="102.47" cy="552.99" r="0.95" fill="#2c0ca8" />
<circle cx="127.57" cy="543.44" r="0.59" fill="#24088a" />
<circle cx="141.32" cy="550.22" r="0.81" fill="#5228dc" />
<circle cx="130.87" cy="552.93" r="0.60" fill="#2c0ca8" />
<circle cx="131.29" cy="535.01" r="1.01" fill="#2c0ca8" />
<circle cx="115.59" cy="562.24" r="0.55" fill="#24088a" />
<circle cx="115.16" cy="558.20" r="1.32" fill="#3a12c8" />
<circle cx="140.80" cy="527.05" r="2.34" fill="#8f66ea" opacity="0.55"/>
<circle cx="140.80" cy="527.05" r="1.84" fill="#2c0ca8" />
<circle cx="107.63" cy="519.86" r="1.28" fill="#5228dc" />
<circle cx="137.29" cy="518.93" r="0.61" fill="#2c0ca8" />
<circle cx="148.48" cy="545.73" r="0.60" fill="#4a20d8" />
<circle cx="132.93" cy="548.30" r="2.05" fill="#8f66ea" opacity="0.55"/>
<circle cx="132.93" cy="548.30" r="1.55" fill="#2c0ca8" />
<circle cx="142.83" cy="544.13" r="2.14" fill="#8f66ea" opacity="0.55"/>
<circle cx="142.83" cy="544.13" r="1.64" fill="#3a12c8" />
<circle cx="115.87" cy="525.73" r="0.84" fill="#24088a" />
<circle cx="103.22" cy="532.44" r="0.73" fill="#24088a" />
<circle cx="118.61" cy="551.50" r="0.84" fill="#4a20d8" />
<circle cx="106.64" cy="544.82" r="0.55" fill="#5228dc" />
<circle cx="141.61" cy="537.41" r="0.93" fill="#5228dc" />
<circle cx="126.80" cy="521.18" r="0.61" fill="#24088a" />
<circle cx="192.20" cy="539.00" r="31.00" fill="#fefdff"/>
<path d="M192.20,508.00 A31.00,31.00 0 0 0 192.20,570.00" fill="none" stroke="#d7c3ef" stroke-width="1.5"/>
<path d="M192.20,570.00 A31.00,31.00 0 0 0 192.20,508.00" fill="none" stroke="#efe6f8" stroke-width="1.0"/>
<circle cx="190.20" cy="539.00" r="26.50" fill="none" stroke="#f1e9f9" stroke-width="1.0"/>
<circle cx="186.01" cy="543.48" r="0.50" fill="#c6aef0" />
<circle cx="180.96" cy="552.84" r="0.50" fill="#c6aef0" />
<circle cx="198.96" cy="519.17" r="0.50" fill="#c6aef0" />
<circle cx="188.92" cy="534.04" r="0.50" fill="#c6aef0" />
<circle cx="211.56" cy="559.68" r="0.50" fill="#c6aef0" />
<circle cx="182.44" cy="562.06" r="0.50" fill="#c6aef0" />
<circle cx="214.62" cy="551.32" r="0.50" fill="#c6aef0" />
<circle cx="211.02" cy="524.38" r="0.50" fill="#c6aef0" />
<circle cx="193.21" cy="534.37" r="0.50" fill="#c6aef0" />
<circle cx="213.34" cy="548.36" r="0.50" fill="#c6aef0" />
<circle cx="188.75" cy="529.86" r="0.50" fill="#c6aef0" />
<circle cx="211.00" cy="559.43" r="0.50" fill="#c6aef0" />
<circle cx="185.94" cy="564.82" r="0.50" fill="#c6aef0" />
<circle cx="199.01" cy="515.53" r="0.50" fill="#c6aef0" />
<circle cx="189.69" cy="525.36" r="0.50" fill="#c6aef0" />
<circle cx="203.69" cy="519.02" r="0.50" fill="#c6aef0" />
<circle cx="191.97" cy="555.79" r="0.50" fill="#c6aef0" />
<circle cx="170.98" cy="520.64" r="0.50" fill="#c6aef0" />
<circle cx="177.88" cy="543.02" r="0.50" fill="#c6aef0" />
<circle cx="212.13" cy="534.46" r="0.50" fill="#c6aef0" />
<circle cx="172.80" cy="526.36" r="0.50" fill="#c6aef0" />
<circle cx="193.62" cy="556.94" r="0.50" fill="#c6aef0" />
<circle cx="198.11" cy="556.78" r="0.50" fill="#c6aef0" />
<circle cx="182.03" cy="527.23" r="0.50" fill="#c6aef0" />
<circle cx="183.69" cy="554.99" r="0.50" fill="#c6aef0" />
<circle cx="196.17" cy="524.36" r="0.50" fill="#c6aef0" />
<circle cx="192.94" cy="532.54" r="0.50" fill="#c6aef0" />
<circle cx="210.44" cy="516.46" r="0.50" fill="#c6aef0" />
<circle cx="171.82" cy="545.19" r="0.50" fill="#c6aef0" />
<circle cx="181.71" cy="513.12" r="0.50" fill="#c6aef0" />
<circle cx="191.92" cy="560.59" r="0.50" fill="#c6aef0" />
<circle cx="207.93" cy="519.13" r="0.50" fill="#c6aef0" />
<circle cx="179.70" cy="552.07" r="0.50" fill="#c6aef0" />
<circle cx="184.53" cy="547.27" r="0.50" fill="#c6aef0" />
<circle cx="188.11" cy="546.35" r="0.50" fill="#c6aef0" />
<circle cx="195.09" cy="561.96" r="0.50" fill="#c6aef0" />
<circle cx="207.70" cy="534.81" r="0.50" fill="#c6aef0" />
<circle cx="175.86" cy="537.34" r="0.50" fill="#c6aef0" />
<circle cx="219.09" cy="533.16" r="0.50" fill="#c6aef0" />
<circle cx="217.35" cy="526.87" r="0.50" fill="#c6aef0" />
<circle cx="189.49" cy="513.65" r="0.50" fill="#c6aef0" />
<circle cx="195.02" cy="554.66" r="0.50" fill="#c6aef0" />
<circle cx="178.77" cy="525.47" r="0.50" fill="#c6aef0" />
<circle cx="187.96" cy="543.86" r="0.50" fill="#c6aef0" />
<circle cx="169.17" cy="540.68" r="0.50" fill="#c6aef0" />
<circle cx="198.80" cy="540.94" r="0.50" fill="#c6aef0" />
<circle cx="177.37" cy="532.34" r="0.50" fill="#c6aef0" />
<circle cx="170.87" cy="535.88" r="0.50" fill="#c6aef0" />
<circle cx="178.36" cy="547.39" r="0.50" fill="#c6aef0" />
<circle cx="204.11" cy="552.30" r="0.50" fill="#c6aef0" />
<circle cx="197.76" cy="528.65" r="0.50" fill="#c6aef0" />
<circle cx="218.51" cy="541.34" r="0.50" fill="#c6aef0" />
<circle cx="186.97" cy="519.89" r="0.50" fill="#c6aef0" />
<circle cx="202.54" cy="543.37" r="0.50" fill="#c6aef0" />
<circle cx="184.44" cy="525.79" r="0.50" fill="#c6aef0" />
<circle cx="203.15" cy="512.13" r="0.50" fill="#c6aef0" />
<circle cx="217.28" cy="548.23" r="0.50" fill="#c6aef0" />
<circle cx="209.97" cy="524.80" r="0.50" fill="#c6aef0" />
<circle cx="172.04" cy="528.17" r="0.50" fill="#c6aef0" />
<circle cx="171.62" cy="536.72" r="0.50" fill="#c6aef0" />
<circle cx="192.50" cy="539.51" r="0.50" fill="#c6aef0" />
<circle cx="196.54" cy="540.77" r="0.50" fill="#c6aef0" />
<circle cx="196.83" cy="549.82" r="0.50" fill="#c6aef0" />
<circle cx="200.32" cy="533.97" r="0.50" fill="#c6aef0" />
<circle cx="174.03" cy="523.46" r="0.50" fill="#c6aef0" />
<circle cx="198.37" cy="556.93" r="0.50" fill="#c6aef0" />
<circle cx="168.71" cy="536.29" r="0.50" fill="#c6aef0" />
<circle cx="180.80" cy="523.79" r="0.50" fill="#c6aef0" />
<circle cx="176.26" cy="525.27" r="0.50" fill="#c6aef0" />
<circle cx="213.69" cy="548.10" r="0.50" fill="#c6aef0" />
<circle cx="217.29" cy="538.06" r="0.50" fill="#c6aef0" />
<circle cx="170.76" cy="541.99" r="0.50" fill="#c6aef0" />
<circle cx="178.40" cy="552.77" r="0.50" fill="#c6aef0" />
<circle cx="199.33" cy="534.62" r="0.50" fill="#c6aef0" />
<circle cx="185.29" cy="528.76" r="0.50" fill="#c6aef0" />
<circle cx="207.28" cy="538.68" r="0.50" fill="#c6aef0" />
<circle cx="185.80" cy="530.86" r="0.50" fill="#c6aef0" />
<circle cx="214.21" cy="521.09" r="0.50" fill="#c6aef0" />
<circle cx="206.37" cy="533.68" r="0.50" fill="#c6aef0" />
<circle cx="214.45" cy="546.62" r="0.50" fill="#c6aef0" />
<circle cx="181.69" cy="516.95" r="0.50" fill="#c6aef0" />
<circle cx="217.44" cy="524.56" r="0.50" fill="#c6aef0" />
<circle cx="184.16" cy="566.27" r="0.50" fill="#c6aef0" />
<circle cx="198.99" cy="533.68" r="0.50" fill="#c6aef0" />
<circle cx="180.06" cy="538.43" r="0.50" fill="#c6aef0" />
<circle cx="214.56" cy="523.75" r="0.50" fill="#c6aef0" />
<circle cx="195.64" cy="550.26" r="0.50" fill="#c6aef0" />
<circle cx="203.32" cy="532.42" r="0.50" fill="#c6aef0" />
<circle cx="174.69" cy="553.72" r="0.50" fill="#c6aef0" />
<circle cx="172.42" cy="557.71" r="0.50" fill="#c6aef0" />
<circle cx="217.96" cy="525.19" r="0.50" fill="#c6aef0" />
<circle cx="203.95" cy="520.87" r="0.50" fill="#c6aef0" />
<circle cx="171.04" cy="542.74" r="0.50" fill="#c6aef0" />
<circle cx="197.00" cy="539.19" r="0.50" fill="#c6aef0" />
<circle cx="205.92" cy="535.08" r="0.50" fill="#c6aef0" />
<circle cx="211.83" cy="521.64" r="0.50" fill="#c6aef0" />
<circle cx="174.67" cy="553.21" r="0.50" fill="#c6aef0" />
<circle cx="180.99" cy="534.13" r="0.50" fill="#c6aef0" />
<circle cx="201.86" cy="541.03" r="0.50" fill="#c6aef0" />
<circle cx="183.65" cy="530.77" r="0.50" fill="#c6aef0" />
<circle cx="216.65" cy="535.51" r="0.50" fill="#c6aef0" />
<circle cx="202.97" cy="541.12" r="0.50" fill="#c6aef0" />
<circle cx="188.42" cy="534.22" r="0.50" fill="#c6aef0" />
<circle cx="198.00" cy="541.64" r="0.50" fill="#c6aef0" />
<circle cx="208.17" cy="518.80" r="0.50" fill="#c6aef0" />
<circle cx="201.22" cy="566.37" r="0.50" fill="#c6aef0" />
<circle cx="168.70" cy="533.92" r="0.50" fill="#c6aef0" />
<circle cx="210.86" cy="521.41" r="0.50" fill="#c6aef0" />
<circle cx="187.79" cy="521.26" r="0.50" fill="#c6aef0" />
<circle cx="192.49" cy="552.29" r="0.50" fill="#c6aef0" />
<circle cx="220.29" cy="545.07" r="0.50" fill="#c6aef0" />
<circle cx="213.92" cy="525.43" r="0.50" fill="#c6aef0" />
<circle cx="214.01" cy="552.36" r="0.50" fill="#c6aef0" />
<circle cx="178.46" cy="523.95" r="0.50" fill="#c6aef0" />
<circle cx="209.85" cy="558.43" r="0.50" fill="#c6aef0" />
<circle cx="182.49" cy="526.27" r="0.50" fill="#c6aef0" />
<circle cx="184.40" cy="551.90" r="0.50" fill="#c6aef0" />
<circle cx="175.35" cy="561.92" r="0.50" fill="#c6aef0" />
<circle cx="216.73" cy="546.70" r="0.50" fill="#c6aef0" />
<circle cx="214.07" cy="525.18" r="0.50" fill="#c6aef0" />
<circle cx="175.89" cy="526.83" r="0.50" fill="#c6aef0" />
<circle cx="186.23" cy="563.76" r="0.50" fill="#c6aef0" />
<circle cx="193.47" cy="533.94" r="0.50" fill="#c6aef0" />
<circle cx="183.01" cy="537.92" r="0.50" fill="#c6aef0" />
<circle cx="185.85" cy="540.25" r="0.50" fill="#c6aef0" />
<circle cx="169.39" cy="528.94" r="0.50" fill="#c6aef0" />
<circle cx="202.70" cy="519.26" r="0.50" fill="#c6aef0" />
<circle cx="187.70" cy="557.95" r="0.50" fill="#c6aef0" />
<circle cx="176.53" cy="536.66" r="0.50" fill="#c6aef0" />
<circle cx="192.22" cy="532.15" r="0.50" fill="#c6aef0" />
<circle cx="186.94" cy="546.46" r="0.50" fill="#c6aef0" />
<circle cx="183.15" cy="513.77" r="0.50" fill="#c6aef0" />
<circle cx="214.43" cy="534.35" r="0.50" fill="#c6aef0" />
<circle cx="212.61" cy="533.38" r="0.50" fill="#c6aef0" />
<circle cx="181.83" cy="533.46" r="0.50" fill="#c6aef0" />
<circle cx="203.59" cy="512.79" r="0.50" fill="#c6aef0" />
<circle cx="193.59" cy="550.93" r="0.50" fill="#c6aef0" />
<circle cx="216.14" cy="529.30" r="0.50" fill="#c6aef0" />
<circle cx="162.89" cy="540.79" r="0.50" fill="#c6aef0" />
<circle cx="183.36" cy="535.42" r="0.50" fill="#c6aef0" />
<circle cx="187.99" cy="547.06" r="0.50" fill="#c6aef0" />
<circle cx="217.30" cy="526.90" r="0.50" fill="#c6aef0" />
<circle cx="191.62" cy="519.84" r="0.50" fill="#c6aef0" />
<circle cx="181.25" cy="524.72" r="0.50" fill="#c6aef0" />
<circle cx="185.87" cy="557.23" r="0.50" fill="#c6aef0" />
<circle cx="180.48" cy="535.60" r="0.50" fill="#c6aef0" />
<circle cx="215.49" cy="536.42" r="0.50" fill="#c6aef0" />
<circle cx="202.06" cy="535.37" r="0.50" fill="#c6aef0" />
<circle cx="171.87" cy="525.35" r="0.50" fill="#c6aef0" />
<circle cx="187.92" cy="535.66" r="0.50" fill="#c6aef0" />
<circle cx="173.63" cy="528.55" r="0.50" fill="#c6aef0" />
<circle cx="205.57" cy="524.40" r="0.50" fill="#c6aef0" />
<circle cx="176.37" cy="533.44" r="0.50" fill="#c6aef0" />
<circle cx="168.37" cy="544.62" r="0.50" fill="#c6aef0" />
<circle cx="191.56" cy="553.16" r="0.50" fill="#c6aef0" />
<circle cx="180.28" cy="559.43" r="0.50" fill="#c6aef0" />
<circle cx="185.27" cy="519.15" r="0.50" fill="#c6aef0" />
<circle cx="189.39" cy="564.47" r="0.50" fill="#c6aef0" />
<circle cx="202.92" cy="518.45" r="0.50" fill="#c6aef0" />
<circle cx="187.34" cy="510.28" r="0.50" fill="#c6aef0" />
<circle cx="188.36" cy="516.42" r="0.50" fill="#c6aef0" />
<circle cx="183.87" cy="550.67" r="0.50" fill="#c6aef0" />
<circle cx="206.63" cy="534.89" r="0.50" fill="#c6aef0" />
<circle cx="220.46" cy="530.79" r="0.50" fill="#c6aef0" />
<circle cx="204.43" cy="559.57" r="0.50" fill="#c6aef0" />
<circle cx="196.05" cy="549.79" r="0.50" fill="#c6aef0" />
<circle cx="201.87" cy="552.02" r="0.50" fill="#c6aef0" />
<circle cx="187.67" cy="553.76" r="0.50" fill="#c6aef0" />
<circle cx="213.98" cy="556.85" r="0.50" fill="#c6aef0" />
<circle cx="186.86" cy="566.24" r="0.50" fill="#c6aef0" />
<circle cx="188.97" cy="539.74" r="0.50" fill="#c6aef0" />
<circle cx="204.08" cy="523.55" r="0.50" fill="#c6aef0" />
<circle cx="197.23" cy="567.78" r="0.50" fill="#c6aef0" />
<circle cx="190.94" cy="543.20" r="0.50" fill="#c6aef0" />
<circle cx="191.05" cy="564.32" r="0.50" fill="#c6aef0" />
<circle cx="206.71" cy="539.50" r="0.50" fill="#c6aef0" />
<circle cx="207.08" cy="519.28" r="0.50" fill="#c6aef0" />
<circle cx="171.96" cy="526.61" r="0.50" fill="#c6aef0" />
<circle cx="205.88" cy="519.15" r="0.50" fill="#c6aef0" />
<circle cx="176.31" cy="516.39" r="0.50" fill="#c6aef0" />
<circle cx="178.02" cy="521.48" r="0.50" fill="#c6aef0" />
<circle cx="193.88" cy="551.45" r="0.50" fill="#c6aef0" />
<circle cx="205.99" cy="552.65" r="0.50" fill="#c6aef0" />
<circle cx="190.68" cy="563.65" r="0.50" fill="#c6aef0" />
<circle cx="203.66" cy="530.08" r="0.50" fill="#c6aef0" />
<circle cx="172.04" cy="553.62" r="0.50" fill="#c6aef0" />
<circle cx="207.28" cy="561.63" r="0.50" fill="#c6aef0" />
<circle cx="188.09" cy="539.45" r="0.50" fill="#c6aef0" />
<circle cx="205.59" cy="522.51" r="0.50" fill="#c6aef0" />
<circle cx="177.59" cy="515.63" r="0.50" fill="#c6aef0" />
<circle cx="205.52" cy="528.60" r="0.50" fill="#c6aef0" />
<circle cx="219.05" cy="540.80" r="0.50" fill="#c6aef0" />
<circle cx="200.26" cy="533.75" r="0.50" fill="#c6aef0" />
<circle cx="192.09" cy="552.77" r="0.50" fill="#c6aef0" />
<circle cx="186.14" cy="510.87" r="0.50" fill="#c6aef0" />
<circle cx="197.60" cy="555.55" r="0.50" fill="#c6aef0" />
<circle cx="203.63" cy="522.66" r="0.50" fill="#c6aef0" />
<circle cx="197.88" cy="558.54" r="0.50" fill="#c6aef0" />
<circle cx="218.33" cy="541.65" r="0.50" fill="#c6aef0" />
<circle cx="180.38" cy="551.60" r="0.50" fill="#c6aef0" />
<circle cx="191.21" cy="519.08" r="0.50" fill="#c6aef0" />
<circle cx="204.82" cy="538.23" r="0.50" fill="#c6aef0" />
<circle cx="163.82" cy="536.53" r="0.50" fill="#c6aef0" />
<circle cx="189.17" cy="516.08" r="0.50" fill="#c6aef0" />
<circle cx="182.58" cy="527.72" r="0.50" fill="#c6aef0" />
<circle cx="186.81" cy="543.95" r="0.50" fill="#c6aef0" />
<circle cx="217.33" cy="551.84" r="0.50" fill="#c6aef0" />
<circle cx="175.45" cy="521.48" r="0.50" fill="#c6aef0" />
<circle cx="183.66" cy="534.29" r="0.50" fill="#c6aef0" />
<circle cx="186.04" cy="556.62" r="0.50" fill="#c6aef0" />
<circle cx="220.05" cy="530.64" r="0.50" fill="#c6aef0" />
<circle cx="221.10" cy="537.95" r="0.50" fill="#c6aef0" />
<circle cx="180.57" cy="541.82" r="0.50" fill="#c6aef0" />
<circle cx="199.19" cy="535.68" r="0.50" fill="#c6aef0" />
<circle cx="196.08" cy="526.63" r="0.50" fill="#c6aef0" />
<circle cx="176.50" cy="519.48" r="0.50" fill="#c6aef0" />
<circle cx="196.66" cy="528.64" r="0.50" fill="#c6aef0" />
<circle cx="178.66" cy="515.77" r="0.50" fill="#c6aef0" />
<circle cx="197.52" cy="520.80" r="0.50" fill="#c6aef0" />
<circle cx="217.91" cy="538.38" r="0.50" fill="#c6aef0" />
<circle cx="176.84" cy="517.96" r="0.50" fill="#c6aef0" />
<circle cx="166.57" cy="543.99" r="0.50" fill="#c6aef0" />
<circle cx="195.23" cy="563.57" r="0.50" fill="#c6aef0" />
<circle cx="181.00" cy="511.98" r="0.50" fill="#c6aef0" />
<circle cx="183.35" cy="520.54" r="0.50" fill="#c6aef0" />
<circle cx="201.20" cy="514.22" r="0.50" fill="#c6aef0" />
<circle cx="177.22" cy="557.58" r="0.50" fill="#c6aef0" />
<circle cx="183.42" cy="557.57" r="0.50" fill="#c6aef0" />
<circle cx="186.04" cy="532.97" r="0.50" fill="#c6aef0" />
<circle cx="201.40" cy="532.05" r="0.50" fill="#c6aef0" />
<circle cx="186.20" cy="556.29" r="0.50" fill="#c6aef0" />
<circle cx="211.26" cy="550.32" r="0.50" fill="#c6aef0" />
<circle cx="179.25" cy="564.54" r="0.50" fill="#c6aef0" />
<circle cx="175.19" cy="535.68" r="0.50" fill="#c6aef0" />
<circle cx="171.42" cy="527.16" r="0.50" fill="#c6aef0" />
<circle cx="194.18" cy="546.66" r="0.50" fill="#c6aef0" />
<circle cx="186.06" cy="561.17" r="0.50" fill="#c6aef0" />
<circle cx="168.18" cy="526.09" r="0.50" fill="#c6aef0" />
<circle cx="200.00" cy="557.23" r="0.50" fill="#c6aef0" />
<circle cx="195.13" cy="525.85" r="0.50" fill="#c6aef0" />
<circle cx="175.45" cy="550.77" r="1.14" fill="#3210b4" />
<circle cx="172.97" cy="523.42" r="1.26" fill="#5228dc" />
<circle cx="198.28" cy="514.09" r="0.61" fill="#3210b4" />
<circle cx="194.00" cy="546.64" r="2.18" fill="#8f66ea" opacity="0.55"/>
<circle cx="194.00" cy="546.64" r="1.68" fill="#3210b4" />
<circle cx="207.65" cy="524.98" r="0.66" fill="#2c0ca8" />
<circle cx="201.17" cy="521.95" r="1.05" fill="#24088a" />
<circle cx="181.79" cy="541.18" r="0.94" fill="#24088a" />
<circle cx="203.28" cy="557.64" r="1.91" fill="#8f66ea" opacity="0.55"/>
<circle cx="203.28" cy="557.64" r="1.41" fill="#2c0ca8" />
<circle cx="202.54" cy="522.88" r="1.06" fill="#3210b4" />
<circle cx="186.66" cy="557.29" r="0.84" fill="#3210b4" />
<circle cx="212.09" cy="549.20" r="1.20" fill="#3a12c8" />
<circle cx="198.15" cy="539.77" r="1.92" fill="#8f66ea" opacity="0.55"/>
<circle cx="198.15" cy="539.77" r="1.42" fill="#4a20d8" />
<circle cx="195.29" cy="530.99" r="0.93" fill="#2c0ca8" />
<circle cx="215.39" cy="544.02" r="1.18" fill="#4a20d8" />
<circle cx="211.04" cy="551.71" r="0.74" fill="#5228dc" />
<circle cx="166.99" cy="530.08" r="0.68" fill="#4a20d8" />
<circle cx="173.79" cy="548.77" r="2.14" fill="#8f66ea" opacity="0.55"/>
<circle cx="173.79" cy="548.77" r="1.64" fill="#4a20d8" />
<circle cx="180.12" cy="554.53" r="0.73" fill="#4a20d8" />
<circle cx="203.68" cy="527.23" r="0.62" fill="#24088a" />
<circle cx="196.40" cy="523.45" r="0.71" fill="#4a20d8" />
<circle cx="211.41" cy="558.84" r="0.56" fill="#3a12c8" />
<circle cx="175.42" cy="551.37" r="0.81" fill="#5228dc" />
<circle cx="206.80" cy="543.71" r="0.55" fill="#2c0ca8" />
<circle cx="200.63" cy="521.64" r="1.99" fill="#8f66ea" opacity="0.55"/>
<circle cx="200.63" cy="521.64" r="1.49" fill="#3a12c8" />
<circle cx="198.68" cy="513.09" r="1.15" fill="#5228dc" />
<circle cx="206.05" cy="557.34" r="1.31" fill="#3210b4" />
<circle cx="197.02" cy="541.77" r="1.19" fill="#3210b4" />
<circle cx="192.91" cy="530.11" r="0.60" fill="#3a12c8" />
<circle cx="184.38" cy="543.20" r="2.44" fill="#8f66ea" opacity="0.55"/>
<circle cx="184.38" cy="543.20" r="1.94" fill="#3a12c8" />
<circle cx="174.95" cy="557.64" r="2.04" fill="#8f66ea" opacity="0.55"/>
<circle cx="174.95" cy="557.64" r="1.54" fill="#5228dc" />
<circle cx="185.75" cy="513.81" r="0.60" fill="#3a12c8" />
<circle cx="184.54" cy="555.70" r="1.21" fill="#3a12c8" />
<circle cx="171.97" cy="539.28" r="2.14" fill="#8f66ea" opacity="0.55"/>
<circle cx="171.97" cy="539.28" r="1.64" fill="#24088a" />
<circle cx="168.31" cy="526.77" r="0.87" fill="#3a12c8" />
<circle cx="183.01" cy="519.48" r="2.63" fill="#8f66ea" opacity="0.55"/>
<circle cx="183.01" cy="519.48" r="2.13" fill="#3210b4" />
<circle cx="211.37" cy="536.67" r="0.82" fill="#3a12c8" />
<circle cx="208.89" cy="548.58" r="2.33" fill="#8f66ea" opacity="0.55"/>
<circle cx="208.89" cy="548.58" r="1.83" fill="#3210b4" />
<circle cx="194.13" cy="539.19" r="1.30" fill="#3a12c8" />
<circle cx="218.05" cy="536.83" r="0.63" fill="#3a12c8" />
<circle cx="194.77" cy="541.70" r="1.38" fill="#2c0ca8" />
<circle cx="169.19" cy="546.35" r="2.41" fill="#8f66ea" opacity="0.55"/>
<circle cx="169.19" cy="546.35" r="1.91" fill="#4a20d8" />
<circle cx="195.76" cy="515.62" r="2.22" fill="#8f66ea" opacity="0.55"/>
<circle cx="195.76" cy="515.62" r="1.72" fill="#3210b4" />
<circle cx="193.09" cy="523.87" r="1.05" fill="#24088a" />
<circle cx="165.99" cy="545.63" r="0.65" fill="#3a12c8" />
<circle cx="191.59" cy="536.07" r="0.55" fill="#3210b4" />
<circle cx="183.67" cy="518.71" r="0.79" fill="#4a20d8" />
<circle cx="190.73" cy="527.69" r="2.24" fill="#8f66ea" opacity="0.55"/>
<circle cx="190.73" cy="527.69" r="1.74" fill="#24088a" />
<circle cx="180.00" cy="529.04" r="2.49" fill="#8f66ea" opacity="0.55"/>
<circle cx="180.00" cy="529.04" r="1.99" fill="#3210b4" />
<circle cx="170.85" cy="547.65" r="0.58" fill="#3a12c8" />
<circle cx="177.51" cy="556.03" r="1.18" fill="#24088a" />
<circle cx="167.76" cy="542.56" r="0.88" fill="#4a20d8" />
<circle cx="196.75" cy="518.42" r="0.69" fill="#3a12c8" />
<circle cx="175.91" cy="523.35" r="2.08" fill="#8f66ea" opacity="0.55"/>
<circle cx="175.91" cy="523.35" r="1.58" fill="#5228dc" />
<circle cx="181.46" cy="557.96" r="2.58" fill="#8f66ea" opacity="0.55"/>
<circle cx="181.46" cy="557.96" r="2.08" fill="#2c0ca8" />
<circle cx="179.68" cy="529.77" r="0.84" fill="#2c0ca8" />
<circle cx="175.64" cy="555.21" r="1.13" fill="#2c0ca8" />
<circle cx="197.47" cy="525.06" r="0.55" fill="#4a20d8" />
<circle cx="190.95" cy="550.03" r="2.41" fill="#8f66ea" opacity="0.55"/>
<circle cx="190.95" cy="550.03" r="1.91" fill="#3a12c8" />
<circle cx="189.68" cy="549.20" r="2.32" fill="#8f66ea" opacity="0.55"/>
<circle cx="189.68" cy="549.20" r="1.82" fill="#5228dc" />
<circle cx="208.87" cy="561.06" r="2.07" fill="#8f66ea" opacity="0.55"/>
<circle cx="208.87" cy="561.06" r="1.57" fill="#5228dc" />
<circle cx="181.51" cy="514.46" r="0.74" fill="#3a12c8" />
<circle cx="173.32" cy="534.15" r="0.78" fill="#3210b4" />
<circle cx="204.52" cy="533.37" r="1.14" fill="#3210b4" />
<circle cx="173.53" cy="553.39" r="2.42" fill="#8f66ea" opacity="0.55"/>
<circle cx="173.53" cy="553.39" r="1.92" fill="#5228dc" />
<circle cx="192.38" cy="514.09" r="0.89" fill="#3a12c8" />
<circle cx="175.94" cy="535.24" r="0.56" fill="#24088a" />
<circle cx="168.93" cy="526.28" r="2.30" fill="#8f66ea" opacity="0.55"/>
<circle cx="168.93" cy="526.28" r="1.80" fill="#5228dc" />
<circle cx="183.61" cy="556.97" r="0.62" fill="#2c0ca8" />
<circle cx="196.42" cy="550.13" r="1.34" fill="#4a20d8" />
<circle cx="177.39" cy="531.12" r="2.02" fill="#8f66ea" opacity="0.55"/>
<circle cx="177.39" cy="531.12" r="1.52" fill="#2c0ca8" />
<circle cx="192.82" cy="565.89" r="0.94" fill="#3a12c8" />
<circle cx="179.01" cy="552.76" r="0.56" fill="#4a20d8" />
<circle cx="178.73" cy="529.57" r="0.98" fill="#3a12c8" />
<circle cx="202.72" cy="546.06" r="2.26" fill="#8f66ea" opacity="0.55"/>
<circle cx="202.72" cy="546.06" r="1.76" fill="#5228dc" />
<circle cx="171.19" cy="540.81" r="0.66" fill="#4a20d8" />
<circle cx="167.85" cy="551.22" r="1.99" fill="#8f66ea" opacity="0.55"/>
<circle cx="167.85" cy="551.22" r="1.49" fill="#5228dc" />
<circle cx="205.94" cy="535.79" r="0.55" fill="#2c0ca8" />
<circle cx="209.41" cy="538.42" r="0.55" fill="#3a12c8" />
<circle cx="167.75" cy="529.78" r="0.89" fill="#3a12c8" />
<circle cx="206.80" cy="522.01" r="2.41" fill="#8f66ea" opacity="0.55"/>
<circle cx="206.80" cy="522.01" r="1.91" fill="#3210b4" />
<circle cx="205.94" cy="535.41" r="1.06" fill="#3210b4" />
<circle cx="214.91" cy="553.37" r="0.96" fill="#2c0ca8" />
<circle cx="181.59" cy="542.57" r="2.54" fill="#8f66ea" opacity="0.55"/>
<circle cx="181.59" cy="542.57" r="2.04" fill="#3210b4" />
<circle cx="193.17" cy="544.42" r="0.65" fill="#4a20d8" />
<circle cx="211.59" cy="546.58" r="0.55" fill="#3a12c8" />
<circle cx="191.20" cy="559.04" r="1.93" fill="#8f66ea" opacity="0.55"/>
<circle cx="191.20" cy="559.04" r="1.43" fill="#24088a" />
<circle cx="202.21" cy="542.66" r="1.96" fill="#8f66ea" opacity="0.55"/>
<circle cx="202.21" cy="542.66" r="1.46" fill="#2c0ca8" />
<circle cx="185.41" cy="525.28" r="1.11" fill="#3210b4" />
<circle cx="204.77" cy="548.80" r="0.66" fill="#3a12c8" />
<circle cx="180.00" cy="551.20" r="0.86" fill="#2c0ca8" />
<circle cx="214.90" cy="525.44" r="0.90" fill="#2c0ca8" />
<circle cx="195.55" cy="528.43" r="2.16" fill="#8f66ea" opacity="0.55"/>
<circle cx="195.55" cy="528.43" r="1.66" fill="#3a12c8" />
<circle cx="216.06" cy="528.49" r="2.31" fill="#8f66ea" opacity="0.55"/>
<circle cx="216.06" cy="528.49" r="1.81" fill="#2c0ca8" />
<circle cx="197.05" cy="512.03" r="2.42" fill="#8f66ea" opacity="0.55"/>
<circle cx="197.05" cy="512.03" r="1.92" fill="#24088a" />
<circle cx="204.36" cy="520.43" r="0.88" fill="#4a20d8" />
<circle cx="186.24" cy="551.16" r="0.57" fill="#4a20d8" />
<circle cx="200.42" cy="549.30" r="0.56" fill="#3210b4" />
<circle cx="167.02" cy="546.94" r="0.86" fill="#2c0ca8" />
<circle cx="190.35" cy="556.87" r="0.59" fill="#4a20d8" />
<circle cx="178.44" cy="532.42" r="2.08" fill="#8f66ea" opacity="0.55"/>
<circle cx="178.44" cy="532.42" r="1.58" fill="#4a20d8" />
<circle cx="176.43" cy="539.89" r="2.36" fill="#8f66ea" opacity="0.55"/>
<circle cx="176.43" cy="539.89" r="1.86" fill="#3a12c8" />
<circle cx="203.65" cy="555.48" r="1.19" fill="#3210b4" />
<circle cx="210.88" cy="529.51" r="2.17" fill="#8f66ea" opacity="0.55"/>
<circle cx="210.88" cy="529.51" r="1.67" fill="#3a12c8" />
<circle cx="191.58" cy="551.56" r="0.76" fill="#4a20d8" />
<circle cx="219.13" cy="538.68" r="0.57" fill="#4a20d8" />
<circle cx="182.47" cy="544.70" r="2.16" fill="#8f66ea" opacity="0.55"/>
<circle cx="182.47" cy="544.70" r="1.66" fill="#4a20d8" />
<circle cx="206.00" cy="556.64" r="0.86" fill="#5228dc" />
<circle cx="186.53" cy="547.82" r="0.55" fill="#5228dc" />
<circle cx="188.39" cy="555.36" r="0.55" fill="#24088a" />
<circle cx="196.39" cy="559.75" r="0.58" fill="#2c0ca8" />
<circle cx="178.88" cy="537.18" r="0.60" fill="#5228dc" />
<circle cx="199.47" cy="542.95" r="1.14" fill="#24088a" />
<circle cx="193.03" cy="527.31" r="0.58" fill="#3210b4" />
<circle cx="185.58" cy="514.66" r="1.09" fill="#2c0ca8" />
<circle cx="215.45" cy="540.47" r="0.98" fill="#3210b4" />
<circle cx="209.63" cy="528.87" r="0.74" fill="#4a20d8" />
<circle cx="206.41" cy="517.19" r="0.94" fill="#3a12c8" />
<circle cx="171.59" cy="552.17" r="0.58" fill="#3210b4" />
<circle cx="190.97" cy="551.01" r="2.16" fill="#8f66ea" opacity="0.55"/>
<circle cx="190.97" cy="551.01" r="1.66" fill="#4a20d8" />
<circle cx="215.04" cy="544.36" r="1.08" fill="#3a12c8" />
<circle cx="58.40" cy="621.70" r="31.60" fill="#eeeef0" stroke="#dcdcde" stroke-width="0.8"/>
<ellipse cx="52.40" cy="613.70" rx="14.22" ry="9.48" fill="#fafafa" opacity="0.6" filter="url(#soft2)"/>
<circle cx="40.48" cy="644.46" r="0.35" fill="#7d70c8" />
<circle cx="52.42" cy="595.26" r="0.65" fill="#6a5cb8" />
<circle cx="73.79" cy="604.91" r="0.69" fill="#6a5cb8" />
<circle cx="78.63" cy="615.69" r="0.66" fill="#5a4aa8" />
<circle cx="74.58" cy="639.91" r="0.38" fill="#5a4aa8" />
<circle cx="70.40" cy="630.73" r="0.31" fill="#7d70c8" />
<circle cx="83.61" cy="609.11" r="0.59" fill="#5a4aa8" />
<circle cx="34.70" cy="627.16" r="0.69" fill="#6a5cb8" />
<circle cx="53.75" cy="599.53" r="0.56" fill="#a098d8" />
<circle cx="60.08" cy="598.53" r="0.54" fill="#8c82d0" />
<circle cx="60.42" cy="635.85" r="0.64" fill="#a098d8" />
<circle cx="72.38" cy="645.11" r="0.61" fill="#a098d8" />
<circle cx="36.11" cy="606.13" r="0.65" fill="#7d70c8" />
<circle cx="45.55" cy="642.37" r="0.68" fill="#a098d8" />
<circle cx="30.91" cy="609.92" r="0.68" fill="#a098d8" />
<circle cx="78.77" cy="628.82" r="0.41" fill="#6a5cb8" />
<circle cx="34.21" cy="634.58" r="0.38" fill="#5a4aa8" />
<circle cx="52.35" cy="633.70" r="0.36" fill="#8c82d0" />
<circle cx="84.36" cy="616.70" r="0.32" fill="#9088cc" />
<circle cx="87.99" cy="618.00" r="0.58" fill="#9088cc" />
<circle cx="79.01" cy="610.02" r="0.58" fill="#7d70c8" />
<circle cx="58.30" cy="648.27" r="0.43" fill="#7d70c8" />
<circle cx="49.01" cy="647.57" r="0.73" fill="#5a4aa8" />
<circle cx="84.19" cy="607.74" r="0.54" fill="#5a4aa8" />
<circle cx="72.31" cy="640.45" r="0.71" fill="#6a5cb8" />
<circle cx="44.51" cy="614.36" r="0.55" fill="#9088cc" />
<circle cx="70.92" cy="601.90" r="0.47" fill="#9088cc" />
<circle cx="41.07" cy="616.24" r="0.58" fill="#6a5cb8" />
<circle cx="33.96" cy="626.53" r="0.38" fill="#8c82d0" />
<circle cx="29.84" cy="613.22" r="0.37" fill="#6a5cb8" />
<circle cx="82.30" cy="614.28" r="0.43" fill="#6a5cb8" />
<circle cx="74.66" cy="620.42" r="0.55" fill="#8c82d0" />
<circle cx="44.48" cy="610.77" r="0.47" fill="#5a4aa8" />
<circle cx="32.23" cy="632.08" r="0.75" fill="#8c82d0" />
<circle cx="45.43" cy="595.15" r="0.46" fill="#9088cc" />
<circle cx="47.75" cy="600.69" r="0.34" fill="#5a4aa8" />
<circle cx="76.24" cy="599.08" r="0.65" fill="#6a5cb8" />
<circle cx="50.82" cy="593.27" r="0.30" fill="#7d70c8" />
<circle cx="60.66" cy="598.85" r="0.37" fill="#5a4aa8" />
<circle cx="67.71" cy="608.87" r="0.47" fill="#7d70c8" />
<circle cx="39.01" cy="627.70" r="0.46" fill="#6a5cb8" />
<circle cx="35.56" cy="617.92" r="0.65" fill="#7d70c8" />
<circle cx="73.86" cy="600.29" r="0.54" fill="#8c82d0" />
<circle cx="66.86" cy="597.21" r="0.34" fill="#8c82d0" />
<circle cx="73.37" cy="613.49" r="0.73" fill="#8c82d0" />
<circle cx="63.95" cy="640.49" r="0.31" fill="#7d70c8" />
<circle cx="57.20" cy="650.96" r="0.65" fill="#5a4aa8" />
<circle cx="29.30" cy="614.52" r="0.63" fill="#5a4aa8" />
<circle cx="34.75" cy="632.82" r="0.46" fill="#9088cc" />
<circle cx="81.76" cy="613.77" r="0.48" fill="#7d70c8" />
<circle cx="34.24" cy="621.56" r="0.70" fill="#8c82d0" />
<circle cx="84.06" cy="615.88" r="0.70" fill="#5a4aa8" />
<circle cx="37.12" cy="608.68" r="0.38" fill="#7d70c8" />
<circle cx="46.09" cy="648.70" r="0.38" fill="#5a4aa8" />
<circle cx="44.59" cy="601.12" r="0.70" fill="#5a4aa8" />
<circle cx="37.63" cy="632.97" r="0.39" fill="#5a4aa8" />
<circle cx="78.54" cy="605.69" r="0.57" fill="#5a4aa8" />
<circle cx="40.34" cy="645.54" r="0.61" fill="#7d70c8" />
<circle cx="59.98" cy="621.81" r="0.30" fill="#5a4aa8" />
<circle cx="49.16" cy="647.63" r="0.31" fill="#9088cc" />
<circle cx="70.31" cy="645.15" r="0.70" fill="#9088cc" />
<circle cx="34.98" cy="619.58" r="0.35" fill="#5a4aa8" />
<circle cx="74.06" cy="645.31" r="0.33" fill="#7d70c8" />
<circle cx="78.29" cy="614.94" r="0.66" fill="#a098d8" />
<circle cx="61.50" cy="622.98" r="0.36" fill="#6a5cb8" />
<circle cx="60.21" cy="646.26" r="0.34" fill="#9088cc" />
<circle cx="80.65" cy="606.34" r="0.58" fill="#a098d8" />
<circle cx="82.39" cy="624.66" r="0.50" fill="#7d70c8" />
<circle cx="40.62" cy="604.97" r="0.68" fill="#5a4aa8" />
<circle cx="47.14" cy="647.82" r="0.49" fill="#6a5cb8" />
<circle cx="58.05" cy="649.95" r="0.41" fill="#7d70c8" />
<circle cx="36.82" cy="639.60" r="0.48" fill="#6a5cb8" />
<circle cx="57.33" cy="617.34" r="0.38" fill="#7d70c8" />
<circle cx="50.24" cy="631.77" r="0.48" fill="#6a5cb8" />
<circle cx="47.09" cy="634.87" r="0.48" fill="#6a5cb8" />
<circle cx="68.06" cy="625.91" r="0.55" fill="#6a5cb8" />
<circle cx="38.53" cy="638.70" r="0.32" fill="#a098d8" />
<circle cx="45.49" cy="600.10" r="0.36" fill="#9088cc" />
<circle cx="65.73" cy="642.60" r="0.50" fill="#5a4aa8" />
<circle cx="73.19" cy="597.16" r="0.40" fill="#6a5cb8" />
<circle cx="38.70" cy="635.06" r="0.73" fill="#6a5cb8" />
<circle cx="44.10" cy="621.27" r="0.72" fill="#8c82d0" />
<circle cx="85.53" cy="621.35" r="0.54" fill="#6a5cb8" />
<circle cx="36.57" cy="636.71" r="0.61" fill="#7d70c8" />
<circle cx="81.64" cy="636.75" r="0.31" fill="#a098d8" />
<circle cx="53.73" cy="598.64" r="0.34" fill="#9088cc" />
<circle cx="71.22" cy="647.69" r="0.70" fill="#9088cc" />
<circle cx="84.49" cy="633.60" r="0.39" fill="#6a5cb8" />
<circle cx="53.90" cy="599.11" r="0.48" fill="#9088cc" />
<circle cx="41.38" cy="643.39" r="0.70" fill="#9088cc" />
<circle cx="73.47" cy="603.77" r="0.46" fill="#7d70c8" />
<circle cx="66.02" cy="597.95" r="0.60" fill="#7d70c8" />
<circle cx="53.71" cy="607.50" r="0.71" fill="#6a5cb8" />
<circle cx="78.64" cy="635.96" r="0.63" fill="#5a4aa8" />
<circle cx="53.13" cy="599.71" r="0.49" fill="#8c82d0" />
<circle cx="58.92" cy="609.86" r="0.44" fill="#5a4aa8" />
<circle cx="50.19" cy="611.99" r="0.52" fill="#5a4aa8" />
<circle cx="29.78" cy="617.94" r="0.46" fill="#5a4aa8" />
<circle cx="85.80" cy="621.87" r="0.71" fill="#6a5cb8" />
<circle cx="74.64" cy="605.48" r="0.61" fill="#8c82d0" />
<circle cx="74.87" cy="625.61" r="0.64" fill="#6a5cb8" />
<circle cx="82.28" cy="636.05" r="0.58" fill="#9088cc" />
<circle cx="63.26" cy="647.87" r="0.50" fill="#a098d8" />
<circle cx="46.96" cy="639.64" r="0.58" fill="#9088cc" />
<circle cx="30.71" cy="620.19" r="0.53" fill="#9088cc" />
<circle cx="68.04" cy="617.02" r="0.73" fill="#7d70c8" />
<circle cx="70.62" cy="597.78" r="0.74" fill="#8c82d0" />
<circle cx="41.03" cy="601.36" r="0.38" fill="#7d70c8" />
<circle cx="53.17" cy="629.18" r="0.36" fill="#8c82d0" />
<circle cx="51.01" cy="595.02" r="0.30" fill="#8c82d0" />
<circle cx="54.47" cy="611.49" r="0.43" fill="#9088cc" />
<circle cx="66.86" cy="614.21" r="0.58" fill="#6a5cb8" />
<circle cx="72.82" cy="634.90" r="0.60" fill="#9088cc" />
<circle cx="41.82" cy="609.86" r="0.35" fill="#8c82d0" />
<circle cx="52.21" cy="646.25" r="0.70" fill="#7d70c8" />
<circle cx="50.68" cy="643.61" r="0.37" fill="#7d70c8" />
<circle cx="33.05" cy="630.81" r="0.33" fill="#5a4aa8" />
<circle cx="88.21" cy="623.73" r="0.64" fill="#7d70c8" />
<circle cx="44.56" cy="646.25" r="0.52" fill="#9088cc" />
<circle cx="46.43" cy="626.95" r="0.46" fill="#7d70c8" />
<circle cx="71.89" cy="630.38" r="0.59" fill="#9088cc" />
<circle cx="58.18" cy="646.08" r="0.31" fill="#7d70c8" />
<circle cx="39.78" cy="636.09" r="0.54" fill="#9088cc" />
<circle cx="80.41" cy="604.76" r="0.67" fill="#9088cc" />
<circle cx="57.19" cy="596.68" r="0.44" fill="#6a5cb8" />
<circle cx="40.24" cy="641.41" r="0.41" fill="#6a5cb8" />
<circle cx="80.23" cy="627.49" r="0.48" fill="#9088cc" />
<circle cx="81.33" cy="629.24" r="0.37" fill="#9088cc" />
<circle cx="50.12" cy="647.42" r="0.40" fill="#9088cc" />
<circle cx="76.11" cy="642.65" r="0.68" fill="#7d70c8" />
<circle cx="34.45" cy="624.82" r="0.68" fill="#7d70c8" />
<circle cx="75.93" cy="599.20" r="0.33" fill="#6a5cb8" />
<circle cx="82.18" cy="630.31" r="0.50" fill="#7d70c8" />
<circle cx="44.68" cy="598.13" r="0.47" fill="#8c82d0" />
<circle cx="85.29" cy="622.41" r="0.39" fill="#5a4aa8" />
<circle cx="73.09" cy="630.39" r="0.71" fill="#5a4aa8" />
<circle cx="78.04" cy="599.54" r="0.34" fill="#5a4aa8" />
<circle cx="68.68" cy="595.58" r="0.43" fill="#9088cc" />
<circle cx="31.99" cy="609.04" r="0.36" fill="#9088cc" />
<circle cx="72.88" cy="605.33" r="0.40" fill="#8c82d0" />
<circle cx="56.60" cy="593.92" r="0.47" fill="#5a4aa8" />
<circle cx="41.48" cy="612.29" r="0.50" fill="#5a4aa8" />
<circle cx="57.41" cy="635.97" r="0.55" fill="#8c82d0" />
<circle cx="80.52" cy="640.54" r="0.38" fill="#7d70c8" />
<circle cx="44.96" cy="597.17" r="0.40" fill="#a098d8" />
<circle cx="49.35" cy="617.25" r="0.56" fill="#5a4aa8" />
<circle cx="73.13" cy="601.83" r="0.69" fill="#8c82d0" />
<circle cx="34.31" cy="613.78" r="0.58" fill="#7d70c8" />
<circle cx="79.27" cy="616.39" r="0.48" fill="#9088cc" />
<circle cx="72.36" cy="647.57" r="0.36" fill="#7d70c8" />
<circle cx="62.13" cy="599.24" r="0.32" fill="#6a5cb8" />
<circle cx="49.68" cy="593.70" r="0.62" fill="#7d70c8" />
<circle cx="33.12" cy="634.38" r="0.55" fill="#8c82d0" />
<circle cx="83.69" cy="607.28" r="0.68" fill="#9088cc" />
<circle cx="67.79" cy="595.15" r="0.36" fill="#6a5cb8" />
<circle cx="40.41" cy="640.14" r="0.52" fill="#9088cc" />
<circle cx="68.66" cy="598.61" r="0.66" fill="#6a5cb8" />
<circle cx="80.29" cy="640.51" r="0.46" fill="#6a5cb8" />
<circle cx="56.89" cy="617.59" r="0.35" fill="#a098d8" />
<circle cx="68.28" cy="623.01" r="0.37" fill="#8c82d0" />
<circle cx="83.86" cy="609.94" r="0.56" fill="#8c82d0" />
<circle cx="58.35" cy="651.66" r="0.73" fill="#6a5cb8" />
<circle cx="83.48" cy="623.88" r="0.52" fill="#5a4aa8" />
<circle cx="86.71" cy="627.40" r="0.67" fill="#5a4aa8" />
<circle cx="50.34" cy="604.72" r="0.61" fill="#8c82d0" />
<circle cx="44.78" cy="626.26" r="0.33" fill="#5a4aa8" />
<circle cx="51.73" cy="633.96" r="0.58" fill="#5a4aa8" />
<circle cx="64.92" cy="648.06" r="0.56" fill="#6a5cb8" />
<circle cx="39.15" cy="638.06" r="0.52" fill="#5a4aa8" />
<circle cx="60.59" cy="636.50" r="0.32" fill="#5a4aa8" />
<circle cx="75.26" cy="643.67" r="0.33" fill="#6a5cb8" />
<circle cx="76.29" cy="620.73" r="0.73" fill="#5a4aa8" />
<circle cx="63.93" cy="621.43" r="0.69" fill="#7d70c8" />
<circle cx="62.03" cy="598.11" r="0.66" fill="#6a5cb8" />
<circle cx="62.31" cy="607.60" r="0.61" fill="#8c82d0" />
<circle cx="49.68" cy="646.42" r="0.68" fill="#5a4aa8" />
<circle cx="59.24" cy="649.72" r="0.33" fill="#6a5cb8" />
<circle cx="49.51" cy="636.26" r="0.53" fill="#a098d8" />
<circle cx="79.64" cy="605.05" r="0.36" fill="#8c82d0" />
<circle cx="86.37" cy="622.97" r="0.48" fill="#a098d8" />
<circle cx="62.45" cy="593.06" r="0.44" fill="#8c82d0" />
<circle cx="49.21" cy="645.57" r="0.33" fill="#6a5cb8" />
<circle cx="68.98" cy="648.54" r="0.56" fill="#6a5cb8" />
<circle cx="76.27" cy="620.29" r="0.62" fill="#a098d8" />
<circle cx="83.89" cy="608.09" r="0.42" fill="#8c82d0" />
<circle cx="57.34" cy="644.13" r="0.41" fill="#6a5cb8" />
<circle cx="80.90" cy="624.55" r="0.43" fill="#5a4aa8" />
<circle cx="35.26" cy="621.42" r="0.73" fill="#7d70c8" />
<circle cx="51.60" cy="616.69" r="0.45" fill="#5a4aa8" />
<circle cx="66.90" cy="631.55" r="0.59" fill="#7d70c8" />
<circle cx="79.73" cy="610.47" r="0.31" fill="#9088cc" />
<circle cx="35.06" cy="623.71" r="0.33" fill="#8c82d0" />
<circle cx="52.91" cy="624.98" r="0.65" fill="#6a5cb8" />
<circle cx="77.31" cy="620.25" r="0.31" fill="#7d70c8" />
<circle cx="47.15" cy="646.87" r="0.58" fill="#a098d8" />
<circle cx="54.34" cy="596.96" r="0.39" fill="#8c82d0" />
<circle cx="29.99" cy="616.38" r="0.49" fill="#6a5cb8" />
<circle cx="36.06" cy="616.16" r="0.74" fill="#9088cc" />
<circle cx="45.58" cy="615.17" r="0.51" fill="#9088cc" />
<circle cx="82.06" cy="626.47" r="0.74" fill="#5a4aa8" />
<circle cx="43.26" cy="626.29" r="0.36" fill="#6a5cb8" />
<circle cx="79.06" cy="622.87" r="0.37" fill="#6a5cb8" />
<circle cx="45.30" cy="607.94" r="0.58" fill="#7d70c8" />
<circle cx="77.64" cy="640.28" r="0.42" fill="#8c82d0" />
<circle cx="38.15" cy="605.77" r="0.69" fill="#9088cc" />
<circle cx="63.24" cy="595.52" r="0.41" fill="#9088cc" />
<circle cx="79.46" cy="619.35" r="0.71" fill="#6a5cb8" />
<circle cx="47.81" cy="630.57" r="0.35" fill="#7d70c8" />
<circle cx="57.60" cy="614.07" r="0.60" fill="#a098d8" />
<circle cx="44.07" cy="641.25" r="0.73" fill="#a098d8" />
<circle cx="41.52" cy="604.36" r="0.62" fill="#6a5cb8" />
<circle cx="59.70" cy="646.94" r="0.59" fill="#a098d8" />
<circle cx="49.42" cy="650.28" r="0.66" fill="#5a4aa8" />
<circle cx="29.70" cy="625.81" r="0.67" fill="#8c82d0" />
<circle cx="54.89" cy="638.61" r="0.37" fill="#8c82d0" />
<circle cx="48.89" cy="600.55" r="0.32" fill="#5a4aa8" />
<circle cx="63.96" cy="594.58" r="0.65" fill="#7d70c8" />
<circle cx="66.77" cy="612.00" r="0.61" fill="#6a5cb8" />
<circle cx="62.36" cy="610.70" r="0.71" fill="#8c82d0" />
<circle cx="74.84" cy="644.57" r="0.51" fill="#8c82d0" />
<circle cx="42.98" cy="633.32" r="0.62" fill="#9088cc" />
<circle cx="80.42" cy="601.53" r="0.39" fill="#8c82d0" />
<circle cx="42.80" cy="605.64" r="0.40" fill="#5a4aa8" />
<circle cx="37.39" cy="631.51" r="0.33" fill="#6a5cb8" />
<circle cx="80.97" cy="640.46" r="0.49" fill="#5a4aa8" />
<circle cx="70.40" cy="646.77" r="0.55" fill="#9088cc" />
<circle cx="80.22" cy="620.79" r="0.46" fill="#7d70c8" />
<circle cx="64.81" cy="650.50" r="0.33" fill="#9088cc" />
<circle cx="51.96" cy="600.26" r="0.39" fill="#7d70c8" />
<circle cx="83.86" cy="629.60" r="0.30" fill="#6a5cb8" />
<circle cx="49.21" cy="599.26" r="0.45" fill="#5a4aa8" />
<circle cx="33.12" cy="637.66" r="0.48" fill="#6a5cb8" />
<circle cx="50.32" cy="639.36" r="0.64" fill="#a098d8" />
<circle cx="78.20" cy="603.50" r="0.30" fill="#9088cc" />
<circle cx="35.42" cy="603.21" r="0.63" fill="#5a4aa8" />
<circle cx="85.61" cy="620.16" r="0.68" fill="#7d70c8" />
<circle cx="64.62" cy="592.99" r="0.55" fill="#9088cc" />
<circle cx="50.46" cy="603.39" r="0.74" fill="#a098d8" />
<circle cx="84.31" cy="621.85" r="0.45" fill="#5a4aa8" />
<circle cx="40.68" cy="616.41" r="0.69" fill="#9088cc" />
<circle cx="53.74" cy="627.70" r="0.58" fill="#6a5cb8" />
<circle cx="50.88" cy="606.42" r="0.60" fill="#5a4aa8" />
<circle cx="83.59" cy="608.65" r="0.69" fill="#a098d8" />
<circle cx="45.12" cy="640.52" r="0.33" fill="#8c82d0" />
<circle cx="59.56" cy="596.38" r="0.67" fill="#8c82d0" />
<circle cx="59.29" cy="634.12" r="0.38" fill="#a098d8" />
<circle cx="84.65" cy="612.69" r="0.44" fill="#7d70c8" />
<circle cx="39.63" cy="643.89" r="0.37" fill="#a098d8" />
<circle cx="58.18" cy="644.86" r="0.53" fill="#5a4aa8" />
<circle cx="36.37" cy="628.43" r="0.61" fill="#a098d8" />
<circle cx="38.69" cy="628.20" r="0.37" fill="#5a4aa8" />
<circle cx="50.68" cy="605.25" r="0.58" fill="#8c82d0" />
<circle cx="30.08" cy="617.51" r="0.39" fill="#5a4aa8" />
<circle cx="37.83" cy="611.93" r="0.55" fill="#9088cc" />
<circle cx="79.61" cy="609.50" r="0.34" fill="#a098d8" />
<circle cx="39.36" cy="599.79" r="0.73" fill="#a098d8" />
<circle cx="51.73" cy="647.36" r="0.50" fill="#9088cc" />
<circle cx="39.60" cy="642.44" r="0.49" fill="#a098d8" />
<circle cx="39.29" cy="606.40" r="0.36" fill="#5a4aa8" />
<circle cx="36.59" cy="601.59" r="0.47" fill="#5a4aa8" />
<circle cx="45.72" cy="600.07" r="0.47" fill="#a098d8" />
<circle cx="37.54" cy="618.29" r="0.35" fill="#7d70c8" />
<circle cx="31.67" cy="610.43" r="0.49" fill="#a098d8" />
<circle cx="29.55" cy="626.53" r="0.36" fill="#a098d8" />
<circle cx="58.79" cy="599.37" r="0.48" fill="#8c82d0" />
<circle cx="82.34" cy="627.94" r="0.65" fill="#a098d8" />
<circle cx="76.22" cy="638.04" r="0.35" fill="#7d70c8" />
<circle cx="80.54" cy="635.41" r="0.67" fill="#7d70c8" />
<circle cx="63.79" cy="638.22" r="0.61" fill="#5a4aa8" />
<circle cx="38.46" cy="633.01" r="0.69" fill="#7d70c8" />
<circle cx="68.99" cy="635.44" r="0.38" fill="#7d70c8" />
<circle cx="32.63" cy="615.27" r="0.41" fill="#a098d8" />
<circle cx="72.53" cy="604.37" r="0.61" fill="#a098d8" />
<circle cx="49.87" cy="644.57" r="0.69" fill="#a098d8" />
<circle cx="57.33" cy="645.69" r="0.59" fill="#5a4aa8" />
<circle cx="80.55" cy="611.69" r="0.46" fill="#8c82d0" />
<circle cx="62.66" cy="608.97" r="0.60" fill="#5a4aa8" />
<circle cx="55.50" cy="599.56" r="0.67" fill="#5a4aa8" />
<circle cx="81.97" cy="627.02" r="0.62" fill="#8c82d0" />
<circle cx="65.87" cy="599.86" r="0.50" fill="#9088cc" />
<circle cx="74.81" cy="605.91" r="0.36" fill="#9088cc" />
<circle cx="76.74" cy="643.04" r="0.38" fill="#a098d8" />
<circle cx="78.25" cy="611.17" r="0.40" fill="#a098d8" />
<circle cx="53.61" cy="596.19" r="0.68" fill="#5a4aa8" />
<circle cx="76.33" cy="645.05" r="0.51" fill="#7d70c8" />
<circle cx="65.30" cy="643.71" r="0.60" fill="#8c82d0" />
<circle cx="57.04" cy="650.22" r="0.69" fill="#8c82d0" />
<circle cx="79.20" cy="610.91" r="0.43" fill="#a098d8" />
<circle cx="61.34" cy="648.57" r="0.62" fill="#5a4aa8" />
<circle cx="52.83" cy="635.88" r="0.37" fill="#8c82d0" />
<circle cx="67.52" cy="593.26" r="0.45" fill="#7d70c8" />
<circle cx="67.41" cy="635.14" r="0.34" fill="#9088cc" />
<circle cx="30.99" cy="627.93" r="0.48" fill="#9088cc" />
<circle cx="75.67" cy="626.00" r="0.75" fill="#8c82d0" />
<circle cx="83.11" cy="611.82" r="0.31" fill="#6a5cb8" />
<circle cx="63.96" cy="593.96" r="0.52" fill="#8c82d0" />
<circle cx="73.63" cy="604.20" r="0.39" fill="#7d70c8" />
<circle cx="32.56" cy="626.55" r="0.56" fill="#8c82d0" />
<circle cx="50.07" cy="647.40" r="0.45" fill="#7d70c8" />
<circle cx="84.32" cy="612.26" r="0.46" fill="#6a5cb8" />
<circle cx="33.51" cy="624.68" r="0.65" fill="#7d70c8" />
<circle cx="56.04" cy="629.24" r="0.64" fill="#7d70c8" />
<circle cx="76.36" cy="637.12" r="0.32" fill="#7d70c8" />
<circle cx="49.08" cy="620.92" r="0.49" fill="#8c82d0" />
<circle cx="62.71" cy="614.63" r="0.37" fill="#9088cc" />
<circle cx="72.71" cy="647.61" r="0.69" fill="#9088cc" />
<circle cx="35.02" cy="624.62" r="0.35" fill="#8c82d0" />
<circle cx="31.72" cy="622.35" r="0.41" fill="#a098d8" />
<circle cx="37.83" cy="612.28" r="0.43" fill="#8c82d0" />
<circle cx="30.36" cy="611.55" r="0.69" fill="#9088cc" />
<circle cx="29.15" cy="621.37" r="0.52" fill="#7d70c8" />
<circle cx="64.18" cy="599.79" r="0.34" fill="#8c82d0" />
<circle cx="71.46" cy="645.92" r="0.48" fill="#a098d8" />
<circle cx="42.29" cy="619.86" r="0.60" fill="#7d70c8" />
<circle cx="61.39" cy="636.20" r="0.62" fill="#5a4aa8" />
<circle cx="72.15" cy="627.36" r="0.32" fill="#7d70c8" />
<circle cx="40.02" cy="604.82" r="0.34" fill="#6a5cb8" />
<circle cx="59.96" cy="594.64" r="0.72" fill="#6a5cb8" />
<circle cx="36.54" cy="635.19" r="0.37" fill="#8c82d0" />
<circle cx="46.17" cy="620.82" r="0.39" fill="#8c82d0" />
<circle cx="80.53" cy="610.41" r="0.75" fill="#7d70c8" />
<circle cx="63.77" cy="601.63" r="0.71" fill="#6a5cb8" />
<circle cx="58.65" cy="594.27" r="0.32" fill="#9088cc" />
<circle cx="45.62" cy="636.08" r="0.56" fill="#6a5cb8" />
<circle cx="65.33" cy="601.82" r="0.36" fill="#a098d8" />
<circle cx="72.14" cy="596.11" r="0.51" fill="#9088cc" />
<circle cx="65.05" cy="594.75" r="0.67" fill="#a098d8" />
<circle cx="64.65" cy="593.26" r="0.54" fill="#5a4aa8" />
<circle cx="68.03" cy="618.30" r="0.64" fill="#6a5cb8" />
<circle cx="66.85" cy="609.67" r="0.41" fill="#5a4aa8" />
<circle cx="29.84" cy="623.03" r="0.32" fill="#9088cc" />
<circle cx="48.66" cy="605.56" r="0.67" fill="#6a5cb8" />
<circle cx="51.04" cy="626.62" r="0.60" fill="#6a5cb8" />
<circle cx="79.69" cy="607.06" r="0.52" fill="#6a5cb8" />
<circle cx="68.32" cy="622.72" r="0.48" fill="#a098d8" />
<circle cx="54.90" cy="632.61" r="0.46" fill="#7d70c8" />
<circle cx="73.68" cy="599.07" r="0.75" fill="#7d70c8" />
<circle cx="69.63" cy="648.70" r="0.66" fill="#5a4aa8" />
<circle cx="78.56" cy="640.81" r="0.48" fill="#8c82d0" />
<circle cx="46.70" cy="642.17" r="0.70" fill="#6a5cb8" />
<circle cx="35.87" cy="603.01" r="0.44" fill="#a098d8" />
<circle cx="77.41" cy="602.98" r="0.48" fill="#8c82d0" />
<circle cx="87.35" cy="623.35" r="0.50" fill="#8c82d0" />
<circle cx="67.30" cy="598.96" r="0.74" fill="#7d70c8" />
<circle cx="55.88" cy="595.79" r="0.72" fill="#8c82d0" />
<circle cx="80.12" cy="604.59" r="0.45" fill="#5a4aa8" />
<circle cx="55.86" cy="646.36" r="0.58" fill="#9088cc" />
<circle cx="42.99" cy="636.95" r="0.52" fill="#9088cc" />
<circle cx="38.85" cy="644.24" r="0.35" fill="#9088cc" />
<circle cx="46.41" cy="633.37" r="0.63" fill="#8c82d0" />
<circle cx="58.37" cy="599.13" r="0.30" fill="#8c82d0" />
<circle cx="81.07" cy="612.15" r="0.53" fill="#5a4aa8" />
<circle cx="70.90" cy="621.52" r="0.58" fill="#6a5cb8" />
<circle cx="59.87" cy="650.09" r="0.74" fill="#5a4aa8" />
<circle cx="42.42" cy="600.05" r="0.52" fill="#a098d8" />
<circle cx="76.18" cy="618.84" r="0.37" fill="#6a5cb8" />
<circle cx="34.12" cy="609.30" r="0.70" fill="#6a5cb8" />
<circle cx="67.13" cy="649.01" r="0.63" fill="#6a5cb8" />
<circle cx="70.32" cy="643.59" r="0.74" fill="#6a5cb8" />
<circle cx="61.45" cy="603.96" r="0.44" fill="#6a5cb8" />
<circle cx="80.89" cy="613.40" r="0.48" fill="#a098d8" />
<circle cx="47.84" cy="598.68" r="0.42" fill="#a098d8" />
<circle cx="66.56" cy="649.11" r="0.59" fill="#a098d8" />
<circle cx="62.87" cy="597.15" r="0.51" fill="#5a4aa8" />
<circle cx="35.49" cy="612.84" r="0.48" fill="#6a5cb8" />
<circle cx="54.55" cy="603.23" r="0.35" fill="#9088cc" />
<circle cx="55.31" cy="622.71" r="0.55" fill="#9088cc" />
<circle cx="40.46" cy="645.23" r="0.70" fill="#8c82d0" />
<circle cx="65.01" cy="615.14" r="0.68" fill="#a098d8" />
<circle cx="51.38" cy="593.02" r="0.74" fill="#8c82d0" />
<circle cx="41.77" cy="603.09" r="0.68" fill="#a098d8" />
<circle cx="65.54" cy="593.70" r="0.66" fill="#a098d8" />
<circle cx="50.82" cy="632.17" r="0.63" fill="#5a4aa8" />
<circle cx="33.13" cy="636.94" r="0.45" fill="#8c82d0" />
<circle cx="76.05" cy="629.46" r="0.60" fill="#5a4aa8" />
<circle cx="41.57" cy="612.75" r="0.65" fill="#6a5cb8" />
<circle cx="45.98" cy="595.50" r="0.60" fill="#8c82d0" />
<circle cx="58.95" cy="600.48" r="0.63" fill="#7d70c8" />
<circle cx="68.82" cy="599.90" r="0.59" fill="#8c82d0" />
<circle cx="71.59" cy="608.59" r="0.33" fill="#9088cc" />
<circle cx="35.47" cy="604.29" r="0.71" fill="#8c82d0" />
<circle cx="51.85" cy="638.46" r="0.46" fill="#7d70c8" />
<circle cx="55.88" cy="614.04" r="0.40" fill="#6a5cb8" />
<circle cx="31.03" cy="629.14" r="0.33" fill="#5a4aa8" />
<circle cx="37.34" cy="629.18" r="0.54" fill="#7d70c8" />
<circle cx="32.66" cy="627.02" r="0.73" fill="#6a5cb8" />
<circle cx="44.27" cy="618.94" r="0.43" fill="#8c82d0" />
<circle cx="80.89" cy="617.98" r="0.65" fill="#8c82d0" />
<circle cx="84.43" cy="626.39" r="0.73" fill="#7d70c8" />
<circle cx="54.98" cy="644.49" r="0.53" fill="#a098d8" />
<circle cx="46.29" cy="614.15" r="0.66" fill="#7d70c8" />
<circle cx="75.11" cy="617.56" r="0.59" fill="#7d70c8" />
<circle cx="40.88" cy="612.69" r="0.58" fill="#9088cc" />
<circle cx="68.33" cy="647.11" r="0.43" fill="#8c82d0" />
<circle cx="67.24" cy="645.87" r="0.65" fill="#a098d8" />
<circle cx="64.87" cy="596.66" r="0.55" fill="#8c82d0" />
<circle cx="49.47" cy="593.49" r="0.71" fill="#7d70c8" />
<circle cx="53.58" cy="594.07" r="0.49" fill="#8c82d0" />
<circle cx="70.69" cy="601.05" r="0.42" fill="#5a4aa8" />
<circle cx="50.94" cy="631.27" r="0.44" fill="#6a5cb8" />
<circle cx="81.28" cy="628.23" r="0.66" fill="#7d70c8" />
<circle cx="36.16" cy="628.15" r="0.46" fill="#8c82d0" />
<circle cx="78.05" cy="604.21" r="0.66" fill="#6a5cb8" />
<circle cx="29.95" cy="625.98" r="0.54" fill="#7d70c8" />
<circle cx="58.20" cy="647.24" r="0.31" fill="#9088cc" />
<circle cx="79.65" cy="608.00" r="0.50" fill="#5a4aa8" />
<circle cx="56.35" cy="603.22" r="0.36" fill="#a098d8" />
<circle cx="72.23" cy="622.82" r="0.31" fill="#a098d8" />
<circle cx="69.93" cy="594.20" r="0.39" fill="#7d70c8" />
<circle cx="32.67" cy="609.03" r="0.58" fill="#6a5cb8" />
<circle cx="74.09" cy="607.92" r="0.30" fill="#8c82d0" />
<circle cx="63.44" cy="638.84" r="0.57" fill="#7d70c8" />
<circle cx="67.81" cy="631.26" r="0.71" fill="#5a4aa8" />
<circle cx="47.07" cy="595.35" r="0.63" fill="#5a4aa8" />
<circle cx="83.10" cy="630.38" r="0.69" fill="#9088cc" />
<circle cx="83.75" cy="620.09" r="0.57" fill="#a098d8" />
<circle cx="77.82" cy="639.57" r="0.41" fill="#9088cc" />
<circle cx="82.56" cy="619.70" r="0.67" fill="#9088cc" />
<circle cx="39.60" cy="600.68" r="0.71" fill="#7d70c8" />
<circle cx="58.68" cy="622.58" r="0.41" fill="#a098d8" />
<circle cx="71.15" cy="615.77" r="0.59" fill="#5a4aa8" />
<circle cx="79.84" cy="609.79" r="0.52" fill="#7d70c8" />
<circle cx="83.57" cy="614.64" r="0.38" fill="#7d70c8" />
<circle cx="62.65" cy="610.36" r="0.53" fill="#7d70c8" />
<circle cx="76.25" cy="616.73" r="0.68" fill="#7d70c8" />
<circle cx="32.87" cy="612.35" r="0.58" fill="#5a4aa8" />
<circle cx="64.11" cy="600.46" r="0.55" fill="#9088cc" />
<circle cx="51.88" cy="646.46" r="0.39" fill="#9088cc" />
<circle cx="66.59" cy="641.43" r="0.35" fill="#8c82d0" />
<circle cx="44.26" cy="602.23" r="0.58" fill="#7d70c8" />
<circle cx="76.92" cy="632.87" r="0.63" fill="#7d70c8" />
<circle cx="75.38" cy="598.24" r="0.42" fill="#6a5cb8" />
<circle cx="52.47" cy="636.90" r="0.74" fill="#5a4aa8" />
<circle cx="61.03" cy="599.54" r="0.61" fill="#7d70c8" />
<circle cx="61.03" cy="597.73" r="0.72" fill="#a098d8" />
<circle cx="46.11" cy="615.48" r="0.71" fill="#7d70c8" />
<circle cx="72.99" cy="597.78" r="0.36" fill="#9088cc" />
<circle cx="82.68" cy="606.54" r="0.72" fill="#5a4aa8" />
<circle cx="32.30" cy="631.70" r="0.68" fill="#6a5cb8" />
<circle cx="83.49" cy="626.22" r="0.74" fill="#8c82d0" />
<circle cx="41.97" cy="597.84" r="0.42" fill="#6a5cb8" />
<circle cx="58.44" cy="647.43" r="0.54" fill="#8c82d0" />
<circle cx="40.54" cy="644.20" r="0.70" fill="#8c82d0" />
<circle cx="65.77" cy="596.09" r="0.49" fill="#6a5cb8" />
<circle cx="46.54" cy="641.20" r="0.37" fill="#a098d8" />
<circle cx="34.67" cy="617.03" r="0.72" fill="#a098d8" />
<circle cx="32.15" cy="618.58" r="0.40" fill="#9088cc" />
<circle cx="51.57" cy="650.26" r="0.49" fill="#6a5cb8" />
<circle cx="79.90" cy="641.47" r="0.61" fill="#5a4aa8" />
<circle cx="48.96" cy="597.57" r="0.45" fill="#8c82d0" />
<circle cx="67.21" cy="619.47" r="0.42" fill="#9088cc" />
<circle cx="81.86" cy="616.35" r="0.33" fill="#9088cc" />
<circle cx="81.67" cy="632.28" r="0.33" fill="#9088cc" />
<circle cx="83.62" cy="624.01" r="0.63" fill="#7d70c8" />
<circle cx="45.63" cy="604.49" r="0.38" fill="#a098d8" />
<circle cx="78.50" cy="636.32" r="0.38" fill="#9088cc" />
<circle cx="86.45" cy="619.81" r="0.45" fill="#a098d8" />
<circle cx="61.00" cy="617.13" r="0.35" fill="#8c82d0" />
<circle cx="64.85" cy="646.10" r="0.30" fill="#5a4aa8" />
<circle cx="69.21" cy="648.99" r="0.60" fill="#9088cc" />
<circle cx="49.09" cy="644.39" r="0.34" fill="#a098d8" />
<circle cx="76.86" cy="619.69" r="0.56" fill="#5a4aa8" />
<circle cx="81.33" cy="631.12" r="0.72" fill="#8c82d0" />
<circle cx="41.97" cy="642.78" r="0.65" fill="#6a5cb8" />
<circle cx="58.21" cy="639.85" r="0.69" fill="#7d70c8" />
<circle cx="68.68" cy="615.10" r="0.40" fill="#7d70c8" />
<circle cx="66.74" cy="644.38" r="0.41" fill="#6a5cb8" />
<circle cx="77.58" cy="606.41" r="0.60" fill="#7d70c8" />
<circle cx="70.95" cy="600.90" r="0.52" fill="#a098d8" />
<circle cx="75.64" cy="635.94" r="0.35" fill="#a098d8" />
<circle cx="34.82" cy="624.75" r="0.33" fill="#a098d8" />
<circle cx="67.32" cy="644.57" r="0.72" fill="#8c82d0" />
<circle cx="36.85" cy="613.97" r="0.40" fill="#9088cc" />
<circle cx="35.42" cy="602.41" r="0.35" fill="#a098d8" />
<circle cx="83.35" cy="612.48" r="0.53" fill="#8c82d0" />
<circle cx="54.53" cy="630.44" r="0.72" fill="#a098d8" />
<circle cx="31.12" cy="628.54" r="0.58" fill="#a098d8" />
<circle cx="71.38" cy="630.87" r="0.35" fill="#7d70c8" />
<circle cx="84.54" cy="619.09" r="0.58" fill="#7d70c8" />
<circle cx="69.15" cy="595.30" r="0.63" fill="#9088cc" />
<circle cx="44.28" cy="618.34" r="0.36" fill="#5a4aa8" />
<circle cx="46.10" cy="635.75" r="0.63" fill="#6a5cb8" />
<circle cx="69.76" cy="607.49" r="0.61" fill="#8c82d0" />
<circle cx="78.62" cy="623.69" r="0.40" fill="#a098d8" />
<circle cx="83.68" cy="627.50" r="0.44" fill="#8c82d0" />
<circle cx="49.01" cy="643.78" r="0.61" fill="#7d70c8" />
<circle cx="87.96" cy="624.05" r="0.47" fill="#a098d8" />
<circle cx="74.02" cy="601.10" r="0.58" fill="#8c82d0" />
<circle cx="64.45" cy="649.92" r="0.42" fill="#a098d8" />
<circle cx="86.35" cy="617.26" r="0.45" fill="#8c82d0" />
<circle cx="47.42" cy="602.11" r="0.41" fill="#8c82d0" />
<circle cx="64.53" cy="611.61" r="0.50" fill="#5a4aa8" />
<circle cx="32.50" cy="611.09" r="0.55" fill="#8c82d0" />
<circle cx="55.51" cy="640.83" r="0.36" fill="#5a4aa8" />
<circle cx="46.16" cy="647.20" r="0.38" fill="#a098d8" />
<circle cx="36.03" cy="608.36" r="0.60" fill="#5a4aa8" />
<circle cx="77.37" cy="598.84" r="0.48" fill="#9088cc" />
<circle cx="86.29" cy="631.07" r="0.71" fill="#7d70c8" />
<circle cx="83.95" cy="633.83" r="0.49" fill="#8c82d0" />
<circle cx="31.23" cy="616.63" r="0.62" fill="#9088cc" />
<circle cx="41.03" cy="611.71" r="0.56" fill="#5a4aa8" />
<circle cx="67.37" cy="594.71" r="0.50" fill="#8c82d0" />
<circle cx="37.94" cy="608.32" r="0.73" fill="#9088cc" />
<circle cx="46.45" cy="606.60" r="0.60" fill="#6a5cb8" />
<circle cx="81.53" cy="633.20" r="0.40" fill="#a098d8" />
<circle cx="44.52" cy="647.68" r="0.61" fill="#6a5cb8" />
<circle cx="51.41" cy="595.08" r="0.65" fill="#6a5cb8" />
<circle cx="60.51" cy="641.27" r="0.54" fill="#8c82d0" />
<circle cx="49.48" cy="628.09" r="0.63" fill="#6a5cb8" />
<circle cx="42.86" cy="640.56" r="0.75" fill="#8c82d0" />
<circle cx="39.78" cy="599.25" r="0.36" fill="#5a4aa8" />
<circle cx="36.96" cy="636.05" r="0.50" fill="#5a4aa8" />
<circle cx="45.22" cy="644.96" r="0.44" fill="#a098d8" />
<circle cx="67.79" cy="598.56" r="0.48" fill="#8c82d0" />
<circle cx="78.70" cy="640.08" r="0.59" fill="#5a4aa8" />
<circle cx="41.69" cy="602.85" r="0.47" fill="#8c82d0" />
<circle cx="74.62" cy="599.46" r="0.57" fill="#7d70c8" />
<circle cx="74.85" cy="598.96" r="0.70" fill="#8c82d0" />
<circle cx="42.50" cy="610.82" r="0.33" fill="#7d70c8" />
<circle cx="70.88" cy="622.07" r="0.38" fill="#7d70c8" />
<circle cx="71.40" cy="647.03" r="0.31" fill="#8c82d0" />
<circle cx="80.25" cy="640.77" r="0.51" fill="#8c82d0" />
<circle cx="80.99" cy="632.92" r="0.52" fill="#9088cc" />
<circle cx="57.18" cy="644.41" r="0.42" fill="#8c82d0" />
<circle cx="64.73" cy="624.36" r="0.66" fill="#8c82d0" />
<circle cx="56.07" cy="604.32" r="0.57" fill="#8c82d0" />
<circle cx="85.26" cy="619.94" r="0.49" fill="#9088cc" />
<circle cx="52.13" cy="643.20" r="0.66" fill="#7d70c8" />
<circle cx="80.86" cy="636.80" r="0.50" fill="#9088cc" />
<circle cx="31.85" cy="627.03" r="0.51" fill="#9088cc" />
<circle cx="55.24" cy="623.06" r="0.35" fill="#8c82d0" />
<circle cx="42.18" cy="603.55" r="0.53" fill="#a098d8" />
<circle cx="47.20" cy="641.52" r="0.40" fill="#7d70c8" />
<circle cx="52.31" cy="644.91" r="0.39" fill="#5a4aa8" />
<circle cx="70.41" cy="648.96" r="0.36" fill="#6a5cb8" />
<circle cx="82.57" cy="631.62" r="0.62" fill="#9088cc" />
<circle cx="86.02" cy="614.37" r="0.54" fill="#6a5cb8" />
<circle cx="48.53" cy="648.37" r="0.32" fill="#6a5cb8" />
<circle cx="46.78" cy="620.69" r="0.51" fill="#8c82d0" />
<circle cx="61.75" cy="631.52" r="0.69" fill="#5a4aa8" />
<circle cx="48.10" cy="597.58" r="0.35" fill="#7d70c8" />
<circle cx="75.28" cy="629.65" r="0.66" fill="#6a5cb8" />
<circle cx="38.36" cy="619.99" r="0.49" fill="#9088cc" />
<circle cx="52.30" cy="600.62" r="0.72" fill="#9088cc" />
<circle cx="51.26" cy="615.10" r="0.72" fill="#9088cc" />
<circle cx="77.03" cy="642.32" r="0.36" fill="#5a4aa8" />
<circle cx="31.72" cy="627.51" r="0.68" fill="#7d70c8" />
<circle cx="49.06" cy="606.88" r="0.48" fill="#8c82d0" />
<circle cx="83.11" cy="638.27" r="0.71" fill="#6a5cb8" />
<circle cx="47.92" cy="602.54" r="0.37" fill="#6a5cb8" />
<circle cx="30.12" cy="615.96" r="0.47" fill="#8c82d0" />
<circle cx="68.19" cy="595.51" r="0.51" fill="#8c82d0" />
<circle cx="49.80" cy="618.79" r="0.71" fill="#9088cc" />
<circle cx="29.49" cy="626.70" r="0.64" fill="#6a5cb8" />
<circle cx="47.84" cy="630.08" r="0.39" fill="#9088cc" />
<circle cx="67.88" cy="619.15" r="0.66" fill="#6a5cb8" />
<circle cx="79.56" cy="625.41" r="0.37" fill="#9088cc" />
<circle cx="73.67" cy="601.90" r="0.68" fill="#9088cc" />
<circle cx="47.06" cy="596.53" r="0.69" fill="#7d70c8" />
<circle cx="55.67" cy="620.31" r="0.32" fill="#5a4aa8" />
<circle cx="87.55" cy="628.70" r="0.67" fill="#6a5cb8" />
<circle cx="55.86" cy="646.93" r="0.48" fill="#6a5cb8" />
<circle cx="52.13" cy="650.64" r="0.48" fill="#9088cc" />
<circle cx="39.82" cy="600.41" r="0.67" fill="#8c82d0" />
<circle cx="54.17" cy="616.30" r="0.64" fill="#8c82d0" />
<circle cx="64.22" cy="607.77" r="0.50" fill="#a098d8" />
<circle cx="53.24" cy="635.46" r="0.67" fill="#9088cc" />
<circle cx="42.87" cy="644.47" r="0.69" fill="#8c82d0" />
<circle cx="85.30" cy="613.82" r="0.66" fill="#7d70c8" />
<circle cx="74.72" cy="596.90" r="0.65" fill="#a098d8" />
<circle cx="64.26" cy="593.19" r="0.46" fill="#6a5cb8" />
<circle cx="67.90" cy="625.74" r="0.40" fill="#7d70c8" />
<circle cx="65.45" cy="625.05" r="0.69" fill="#8c82d0" />
<circle cx="47.74" cy="608.80" r="0.44" fill="#a098d8" />
<circle cx="39.28" cy="600.74" r="0.63" fill="#6a5cb8" />
<circle cx="47.83" cy="647.68" r="0.57" fill="#7d70c8" />
<circle cx="87.69" cy="621.29" r="0.49" fill="#a098d8" />
<circle cx="78.61" cy="602.83" r="0.54" fill="#6a5cb8" />
<circle cx="80.27" cy="611.00" r="0.71" fill="#9088cc" />
<circle cx="84.85" cy="627.59" r="0.36" fill="#9088cc" />
<circle cx="82.26" cy="621.51" r="0.65" fill="#5a4aa8" />
<circle cx="49.62" cy="632.79" r="0.40" fill="#7d70c8" />
<circle cx="80.63" cy="601.63" r="0.59" fill="#a098d8" />
<circle cx="81.21" cy="633.68" r="0.53" fill="#6a5cb8" />
<circle cx="79.11" cy="618.08" r="0.60" fill="#7d70c8" />
<circle cx="76.64" cy="644.69" r="0.71" fill="#5a4aa8" />
<circle cx="60.44" cy="625.11" r="0.69" fill="#7d70c8" />
<circle cx="39.36" cy="644.21" r="0.71" fill="#7d70c8" />
<circle cx="73.45" cy="601.30" r="0.53" fill="#8c82d0" />
<circle cx="82.89" cy="610.66" r="0.50" fill="#9088cc" />
<circle cx="69.27" cy="623.80" r="0.42" fill="#5a4aa8" />
<circle cx="39.55" cy="632.02" r="0.65" fill="#7d70c8" />
<circle cx="67.94" cy="593.95" r="0.54" fill="#8c82d0" />
<circle cx="61.63" cy="650.29" r="0.71" fill="#8c82d0" />
<circle cx="65.22" cy="643.62" r="0.51" fill="#9088cc" />
<circle cx="46.83" cy="613.93" r="0.72" fill="#a098d8" />
<circle cx="86.42" cy="631.30" r="0.69" fill="#7d70c8" />
<circle cx="79.90" cy="605.60" r="0.51" fill="#6a5cb8" />
<circle cx="39.10" cy="598.75" r="0.41" fill="#9088cc" />
<circle cx="65.87" cy="644.16" r="0.50" fill="#5a4aa8" />
<circle cx="48.30" cy="647.20" r="0.39" fill="#8c82d0" />
<circle cx="47.78" cy="645.92" r="0.68" fill="#a098d8" />
<circle cx="61.11" cy="598.78" r="0.51" fill="#6a5cb8" />
<circle cx="67.11" cy="647.37" r="0.40" fill="#8c82d0" />
<circle cx="43.18" cy="642.16" r="0.46" fill="#7d70c8" />
<circle cx="42.53" cy="629.76" r="0.59" fill="#a098d8" />
<circle cx="31.64" cy="627.63" r="0.68" fill="#7d70c8" />
<circle cx="55.99" cy="604.00" r="0.48" fill="#9088cc" />
<circle cx="43.47" cy="628.44" r="0.64" fill="#9088cc" />
<circle cx="83.25" cy="622.31" r="0.68" fill="#9088cc" />
<circle cx="64.27" cy="599.42" r="0.66" fill="#6a5cb8" />
<circle cx="70.76" cy="640.24" r="0.35" fill="#6a5cb8" />
<circle cx="81.29" cy="604.52" r="0.66" fill="#6a5cb8" />
<circle cx="43.75" cy="627.41" r="0.46" fill="#7d70c8" />
<circle cx="30.06" cy="615.93" r="0.35" fill="#a098d8" />
<circle cx="57.73" cy="645.12" r="0.31" fill="#6a5cb8" />
<circle cx="60.80" cy="614.30" r="0.54" fill="#9088cc" />
<circle cx="55.61" cy="638.77" r="0.72" fill="#8c82d0" />
<circle cx="41.96" cy="637.68" r="0.66" fill="#9088cc" />
<circle cx="73.03" cy="641.02" r="0.35" fill="#6a5cb8" />
<circle cx="87.29" cy="616.42" r="0.55" fill="#8c82d0" />
<circle cx="66.32" cy="617.47" r="0.68" fill="#a098d8" />
<circle cx="78.89" cy="626.94" r="0.34" fill="#a098d8" />
<circle cx="76.57" cy="603.05" r="0.32" fill="#6a5cb8" />
<circle cx="80.32" cy="629.74" r="0.61" fill="#9088cc" />
<circle cx="71.21" cy="644.47" r="0.57" fill="#8c82d0" />
<circle cx="44.46" cy="595.37" r="0.45" fill="#a098d8" />
<circle cx="41.55" cy="632.54" r="0.75" fill="#7d70c8" />
<circle cx="51.89" cy="598.82" r="0.66" fill="#8c82d0" />
<circle cx="39.03" cy="602.08" r="0.61" fill="#5a4aa8" />
<circle cx="77.85" cy="625.86" r="0.31" fill="#5a4aa8" />
<circle cx="54.18" cy="623.40" r="0.48" fill="#9088cc" />
<circle cx="84.47" cy="612.01" r="0.53" fill="#5a4aa8" />
<circle cx="30.59" cy="622.27" r="0.30" fill="#9088cc" />
<circle cx="66.95" cy="596.51" r="0.68" fill="#7d70c8" />
<circle cx="40.33" cy="643.01" r="0.63" fill="#a098d8" />
<circle cx="33.70" cy="637.64" r="0.37" fill="#5a4aa8" />
<circle cx="68.76" cy="613.67" r="0.66" fill="#8c82d0" />
<circle cx="64.85" cy="595.29" r="0.45" fill="#9088cc" />
<circle cx="44.36" cy="604.18" r="0.37" fill="#6a5cb8" />
<circle cx="74.88" cy="601.17" r="0.52" fill="#7d70c8" />
<circle cx="69.15" cy="601.74" r="0.56" fill="#7d70c8" />
<circle cx="80.99" cy="606.80" r="0.34" fill="#7d70c8" />
<circle cx="62.32" cy="598.87" r="0.57" fill="#7d70c8" />
<circle cx="32.51" cy="632.83" r="0.63" fill="#7d70c8" />
<circle cx="52.83" cy="614.16" r="0.43" fill="#9088cc" />
<circle cx="72.39" cy="627.76" r="0.71" fill="#8c82d0" />
<circle cx="86.49" cy="611.20" r="0.61" fill="#5a4aa8" />
<circle cx="48.91" cy="609.06" r="0.48" fill="#6a5cb8" />
<circle cx="83.32" cy="613.60" r="0.68" fill="#9088cc" />
<circle cx="64.52" cy="606.60" r="0.63" fill="#5a4aa8" />
<circle cx="74.84" cy="614.90" r="0.42" fill="#8c82d0" />
<circle cx="32.44" cy="620.66" r="0.68" fill="#7d70c8" />
<circle cx="62.76" cy="618.24" r="0.69" fill="#a098d8" />
<circle cx="72.56" cy="629.54" r="0.38" fill="#5a4aa8" />
<circle cx="77.17" cy="643.44" r="0.68" fill="#8c82d0" />
<circle cx="57.62" cy="633.83" r="0.51" fill="#8c82d0" />
<circle cx="61.75" cy="607.07" r="0.37" fill="#8c82d0" />
<circle cx="74.88" cy="621.35" r="0.58" fill="#7d70c8" />
<circle cx="30.02" cy="615.74" r="0.49" fill="#7d70c8" />
<circle cx="33.92" cy="626.43" r="0.40" fill="#a098d8" />
<circle cx="31.90" cy="627.92" r="0.37" fill="#6a5cb8" />
<circle cx="47.57" cy="597.16" r="0.71" fill="#8c82d0" />
<circle cx="74.95" cy="609.50" r="0.47" fill="#5a4aa8" />
<circle cx="33.71" cy="612.98" r="0.45" fill="#8c82d0" />
<circle cx="79.44" cy="636.06" r="0.52" fill="#8c82d0" />
<circle cx="54.89" cy="638.58" r="0.44" fill="#8c82d0" />
<circle cx="82.05" cy="626.01" r="0.50" fill="#6a5cb8" />
<circle cx="40.35" cy="641.05" r="0.46" fill="#9088cc" />
<circle cx="81.09" cy="614.23" r="0.60" fill="#9088cc" />
<circle cx="41.02" cy="642.62" r="0.41" fill="#9088cc" />
<circle cx="80.90" cy="617.83" r="0.33" fill="#5a4aa8" />
<circle cx="34.09" cy="619.41" r="0.60" fill="#8c82d0" />
<circle cx="46.80" cy="595.25" r="0.56" fill="#9088cc" />
<circle cx="50.73" cy="608.24" r="0.74" fill="#7d70c8" />
<circle cx="48.02" cy="646.55" r="0.46" fill="#a098d8" />
<circle cx="51.79" cy="595.87" r="0.39" fill="#5a4aa8" />
<circle cx="70.81" cy="647.74" r="0.42" fill="#7d70c8" />
<circle cx="77.79" cy="603.60" r="0.48" fill="#a098d8" />
<circle cx="55.88" cy="614.34" r="0.35" fill="#a098d8" />
<circle cx="57.82" cy="597.12" r="0.69" fill="#6a5cb8" />
<circle cx="80.68" cy="624.81" r="0.58" fill="#a098d8" />
<circle cx="51.53" cy="611.81" r="0.36" fill="#5a4aa8" />
<circle cx="74.34" cy="612.82" r="0.37" fill="#8c82d0" />
<circle cx="72.00" cy="640.27" r="0.44" fill="#8c82d0" />
<circle cx="49.92" cy="617.89" r="0.54" fill="#a098d8" />
<circle cx="81.07" cy="623.86" r="0.72" fill="#8c82d0" />
<circle cx="87.67" cy="622.76" r="0.68" fill="#7d70c8" />
<circle cx="41.74" cy="611.27" r="0.40" fill="#7d70c8" />
<circle cx="45.20" cy="597.68" r="0.41" fill="#5a4aa8" />
<circle cx="87.07" cy="628.60" r="0.34" fill="#6a5cb8" />
<circle cx="54.01" cy="629.49" r="0.64" fill="#a098d8" />
<circle cx="83.83" cy="634.50" r="0.37" fill="#9088cc" />
<circle cx="52.58" cy="637.76" r="0.53" fill="#9088cc" />
<circle cx="79.10" cy="611.70" r="0.59" fill="#9088cc" />
<circle cx="73.55" cy="644.48" r="0.32" fill="#5a4aa8" />
<circle cx="79.08" cy="628.10" r="0.53" fill="#8c82d0" />
<circle cx="72.02" cy="645.79" r="0.50" fill="#9088cc" />
<circle cx="59.67" cy="642.16" r="0.48" fill="#9088cc" />
<circle cx="61.23" cy="630.13" r="0.45" fill="#6a5cb8" />
<circle cx="125.30" cy="621.80" r="31.70" fill="#eeeeee" stroke="#dcdcde" stroke-width="0.8"/>
<ellipse cx="119.30" cy="613.80" rx="14.27" ry="9.51" fill="#fafafa" opacity="0.6" filter="url(#soft2)"/>
<circle cx="122.79" cy="646.32" r="0.26" fill="#8a82a0" />
<circle cx="101.35" cy="635.64" r="0.30" fill="#8a82a0" />
<circle cx="145.34" cy="631.30" r="0.53" fill="#9a94ae" />
<circle cx="142.57" cy="634.33" r="0.33" fill="#9a94ae" />
<circle cx="148.80" cy="638.70" r="0.49" fill="#6e6688" />
<circle cx="117.72" cy="649.88" r="0.29" fill="#9a94ae" />
<circle cx="143.46" cy="629.95" r="0.46" fill="#6e6688" />
<circle cx="117.88" cy="600.15" r="0.26" fill="#6e6688" />
<circle cx="119.47" cy="595.50" r="0.49" fill="#8a82a0" />
<circle cx="126.19" cy="635.92" r="0.33" fill="#6e6688" />
<circle cx="138.43" cy="645.87" r="0.46" fill="#9a94ae" />
<circle cx="120.29" cy="651.14" r="0.30" fill="#9a94ae" />
<circle cx="140.29" cy="638.17" r="0.51" fill="#9a94ae" />
<circle cx="117.55" cy="612.82" r="0.47" fill="#9a94ae" />
<circle cx="139.21" cy="634.10" r="0.32" fill="#6e6688" />
<circle cx="141.41" cy="644.88" r="0.51" fill="#8a82a0" />
<circle cx="142.28" cy="621.41" r="0.49" fill="#6e6688" />
<circle cx="140.58" cy="604.49" r="0.49" fill="#6e6688" />
<circle cx="137.00" cy="603.20" r="0.41" fill="#9a94ae" />
<circle cx="107.92" cy="623.67" r="0.36" fill="#9a94ae" />
<circle cx="97.39" cy="610.93" r="0.33" fill="#6e6688" />
<circle cx="103.94" cy="621.41" r="0.38" fill="#9a94ae" />
<circle cx="120.16" cy="618.18" r="0.33" fill="#9a94ae" />
<circle cx="128.47" cy="596.75" r="0.41" fill="#9a94ae" />
<circle cx="125.49" cy="650.76" r="0.41" fill="#6e6688" />
<circle cx="109.62" cy="617.35" r="0.26" fill="#6e6688" />
<circle cx="124.57" cy="638.83" r="0.31" fill="#6e6688" />
<circle cx="108.10" cy="627.15" r="0.39" fill="#9a94ae" />
<circle cx="140.78" cy="631.11" r="0.31" fill="#6e6688" />
<circle cx="128.01" cy="648.32" r="0.47" fill="#6e6688" />
<circle cx="124.64" cy="640.01" r="0.33" fill="#8a82a0" />
<circle cx="142.07" cy="628.55" r="0.38" fill="#8a82a0" />
<circle cx="103.23" cy="603.93" r="0.49" fill="#9a94ae" />
<circle cx="127.57" cy="639.12" r="0.47" fill="#8a82a0" />
<circle cx="124.24" cy="608.86" r="0.36" fill="#8a82a0" />
<circle cx="122.69" cy="642.65" r="0.29" fill="#6e6688" />
<circle cx="114.96" cy="638.35" r="0.34" fill="#9a94ae" />
<circle cx="131.91" cy="631.58" r="0.31" fill="#6e6688" />
<circle cx="134.03" cy="635.15" r="0.51" fill="#6e6688" />
<circle cx="111.69" cy="646.02" r="0.38" fill="#8a82a0" />
<circle cx="134.68" cy="646.54" r="0.40" fill="#9a94ae" />
<circle cx="137.30" cy="631.90" r="0.37" fill="#6e6688" />
<circle cx="112.74" cy="613.23" r="0.37" fill="#8a82a0" />
<circle cx="135.74" cy="646.29" r="0.36" fill="#6e6688" />
<circle cx="126.53" cy="604.48" r="0.26" fill="#6e6688" />
<circle cx="122.44" cy="608.41" r="0.45" fill="#6e6688" />
<circle cx="112.79" cy="611.32" r="0.46" fill="#8a82a0" />
<circle cx="133.90" cy="609.79" r="0.43" fill="#9a94ae" />
<circle cx="110.06" cy="614.08" r="0.42" fill="#8a82a0" />
<circle cx="97.68" cy="619.01" r="0.40" fill="#8a82a0" />
<circle cx="135.28" cy="631.45" r="0.55" fill="#9a94ae" />
<circle cx="128.52" cy="619.90" r="0.28" fill="#8a82a0" />
<circle cx="140.00" cy="620.54" r="0.32" fill="#9a94ae" />
<circle cx="109.52" cy="612.17" r="0.41" fill="#8a82a0" />
<circle cx="109.53" cy="616.66" r="0.48" fill="#9a94ae" />
<circle cx="95.65" cy="625.71" r="0.45" fill="#8a82a0" />
<circle cx="102.67" cy="627.32" r="0.48" fill="#8a82a0" />
<circle cx="137.50" cy="603.14" r="0.30" fill="#9a94ae" />
<circle cx="153.96" cy="613.70" r="0.38" fill="#6e6688" />
<circle cx="134.37" cy="621.40" r="0.51" fill="#9a94ae" />
<circle cx="122.57" cy="614.47" r="0.31" fill="#8a82a0" />
<circle cx="144.57" cy="622.38" r="0.34" fill="#9a94ae" />
<circle cx="118.87" cy="601.15" r="0.30" fill="#6e6688" />
<circle cx="104.20" cy="620.39" r="0.34" fill="#9a94ae" />
<circle cx="111.63" cy="618.19" r="0.36" fill="#9a94ae" />
<circle cx="113.22" cy="642.08" r="0.33" fill="#6e6688" />
<circle cx="127.00" cy="598.20" r="0.36" fill="#6e6688" />
<circle cx="143.66" cy="637.86" r="0.44" fill="#6e6688" />
<circle cx="141.34" cy="640.60" r="0.35" fill="#8a82a0" />
<circle cx="99.73" cy="636.40" r="0.32" fill="#9a94ae" />
<circle cx="192.70" cy="622.60" r="31.30" fill="#f3f3f3" stroke="#dcdcde" stroke-width="0.8"/>
<ellipse cx="186.70" cy="614.60" rx="14.09" ry="9.39" fill="#fafafa" opacity="0.6" filter="url(#soft2)"/>
<circle cx="222.38" cy="623.28" r="0.38" fill="#7c7498" />
<circle cx="192.05" cy="634.91" r="0.54" fill="#6a6284" />
<circle cx="173.01" cy="642.31" r="0.56" fill="#6a6284" />
<circle cx="181.78" cy="645.52" r="0.53" fill="#7c7498" />
<circle cx="170.84" cy="616.76" r="0.34" fill="#6a6284" />
<circle cx="185.96" cy="613.96" r="0.48" fill="#6a6284" />
<circle cx="203.63" cy="610.91" r="0.51" fill="#7c7498" />
<circle cx="204.59" cy="632.60" r="0.44" fill="#6a6284" />
<circle cx="173.21" cy="605.04" r="0.49" fill="#6a6284" />
<circle cx="191.61" cy="597.88" r="0.42" fill="#4a4266" />
<circle cx="170.38" cy="615.37" r="0.28" fill="#5a5070" />
<circle cx="176.51" cy="606.48" r="0.34" fill="#6a6284" />
<circle cx="199.78" cy="612.30" r="0.26" fill="#5a5070" />
<circle cx="207.90" cy="610.07" r="0.44" fill="#7c7498" />
<circle cx="201.39" cy="612.42" r="0.46" fill="#4a4266" />
<circle cx="204.97" cy="635.95" r="0.47" fill="#5a5070" />
<circle cx="209.69" cy="638.72" r="0.36" fill="#4a4266" />
<circle cx="190.48" cy="599.91" r="0.46" fill="#7c7498" />
<circle cx="218.80" cy="617.75" r="0.51" fill="#5a5070" />
<circle cx="193.96" cy="631.49" r="0.46" fill="#7c7498" />
<circle cx="199.98" cy="614.02" r="0.38" fill="#7c7498" />
<circle cx="202.08" cy="597.23" r="0.35" fill="#6a6284" />
<circle cx="191.78" cy="594.06" r="0.39" fill="#4a4266" />
<circle cx="194.95" cy="636.26" r="0.41" fill="#4a4266" />
<circle cx="180.76" cy="639.48" r="0.39" fill="#4a4266" />
<circle cx="203.92" cy="640.26" r="0.30" fill="#7c7498" />
<circle cx="195.01" cy="597.13" r="0.53" fill="#6a6284" />
<circle cx="200.82" cy="646.50" r="0.34" fill="#5a5070" />
<circle cx="179.29" cy="641.40" r="0.36" fill="#6a6284" />
<circle cx="202.50" cy="596.65" r="0.44" fill="#6a6284" />
<circle cx="170.94" cy="606.47" r="0.35" fill="#6a6284" />
<circle cx="209.84" cy="602.60" r="0.40" fill="#7c7498" />
<circle cx="179.09" cy="596.56" r="0.30" fill="#5a5070" />
<circle cx="205.89" cy="647.44" r="0.39" fill="#7c7498" />
<circle cx="200.24" cy="632.83" r="0.31" fill="#6a6284" />
<circle cx="181.52" cy="615.86" r="0.54" fill="#7c7498" />
<circle cx="221.77" cy="625.67" r="0.56" fill="#5a5070" />
<circle cx="186.94" cy="615.07" r="0.47" fill="#4a4266" />
<circle cx="168.42" cy="606.21" r="0.38" fill="#4a4266" />
<circle cx="185.17" cy="623.55" r="0.30" fill="#4a4266" />
<circle cx="166.24" cy="613.88" r="0.32" fill="#5a5070" />
<circle cx="196.81" cy="637.04" r="0.42" fill="#4a4266" />
<circle cx="192.66" cy="638.87" r="0.33" fill="#4a4266" />
<circle cx="206.49" cy="609.38" r="0.29" fill="#5a5070" />
<circle cx="192.66" cy="602.63" r="0.60" fill="#5a5070" />
<circle cx="194.15" cy="628.10" r="0.48" fill="#7c7498" />
<circle cx="178.96" cy="619.66" r="0.49" fill="#7c7498" />
<circle cx="174.07" cy="611.60" r="0.31" fill="#4a4266" />
<circle cx="169.38" cy="638.17" r="0.45" fill="#5a5070" />
<circle cx="166.78" cy="629.02" r="0.28" fill="#5a5070" />
<circle cx="173.76" cy="643.04" r="0.34" fill="#5a5070" />
<circle cx="169.36" cy="624.33" r="0.56" fill="#6a6284" />
<circle cx="171.03" cy="632.14" r="0.47" fill="#6a6284" />
<circle cx="177.59" cy="599.84" r="0.50" fill="#7c7498" />
<circle cx="168.87" cy="619.61" r="0.48" fill="#5a5070" />
<circle cx="186.63" cy="648.30" r="0.29" fill="#6a6284" />
<circle cx="191.78" cy="614.90" r="0.52" fill="#5a5070" />
<circle cx="214.29" cy="610.12" r="0.56" fill="#7c7498" />
<circle cx="207.64" cy="636.24" r="0.38" fill="#7c7498" />
<circle cx="179.67" cy="628.21" r="0.42" fill="#4a4266" />
<circle cx="188.38" cy="604.84" r="0.54" fill="#4a4266" />
<circle cx="169.34" cy="608.53" r="0.30" fill="#6a6284" />
<circle cx="174.86" cy="637.41" r="0.40" fill="#6a6284" />
<circle cx="219.57" cy="611.67" r="0.40" fill="#5a5070" />
<circle cx="212.05" cy="626.78" r="0.57" fill="#4a4266" />
<circle cx="166.61" cy="632.96" r="0.39" fill="#5a5070" />
<circle cx="165.86" cy="621.57" r="0.29" fill="#4a4266" />
<circle cx="170.84" cy="626.29" r="0.47" fill="#6a6284" />
<circle cx="201.48" cy="602.34" r="0.30" fill="#5a5070" />
<circle cx="203.72" cy="599.60" r="0.36" fill="#6a6284" />
<circle cx="214.43" cy="617.65" r="0.36" fill="#7c7498" />
<circle cx="201.97" cy="626.16" r="0.46" fill="#6a6284" />
<circle cx="189.87" cy="607.20" r="0.45" fill="#6a6284" />
<circle cx="212.58" cy="625.29" r="0.47" fill="#4a4266" />
<circle cx="183.60" cy="622.08" r="0.33" fill="#4a4266" />
<circle cx="208.60" cy="636.60" r="0.38" fill="#4a4266" />
<circle cx="168.02" cy="637.78" r="0.60" fill="#6a6284" />
<circle cx="206.82" cy="617.34" r="0.30" fill="#6a6284" />
<circle cx="182.55" cy="619.47" r="0.28" fill="#5a5070" />
<circle cx="208.09" cy="604.77" r="0.39" fill="#6a6284" />
<circle cx="203.71" cy="643.88" r="0.31" fill="#5a5070" />
<circle cx="179.15" cy="605.79" r="0.59" fill="#6a6284" />
<circle cx="171.27" cy="639.86" r="0.39" fill="#4a4266" />
<circle cx="168.90" cy="611.49" r="0.59" fill="#6a6284" />
<circle cx="197.77" cy="593.45" r="0.33" fill="#5a5070" />
<circle cx="191.55" cy="597.51" r="0.56" fill="#4a4266" />
<circle cx="189.78" cy="648.79" r="0.46" fill="#4a4266" />
<circle cx="221.51" cy="619.67" r="0.31" fill="#6a6284" />
<circle cx="207.59" cy="644.71" r="0.55" fill="#4a4266" />
<circle cx="181.58" cy="620.87" r="0.59" fill="#4a4266" />
<circle cx="187.24" cy="644.69" r="0.58" fill="#5a5070" />
<circle cx="196.51" cy="642.52" r="0.53" fill="#7c7498" />
<circle cx="216.69" cy="638.67" r="0.26" fill="#6a6284" />
<circle cx="212.99" cy="637.25" r="0.34" fill="#5a5070" />
<circle cx="186.01" cy="651.08" r="0.56" fill="#5a5070" />
<circle cx="213.02" cy="642.82" r="0.44" fill="#7c7498" />
<circle cx="197.19" cy="611.83" r="0.37" fill="#4a4266" />
<circle cx="197.44" cy="630.14" r="0.46" fill="#4a4266" />
<circle cx="216.31" cy="609.99" r="0.27" fill="#4a4266" />
<circle cx="166.50" cy="622.45" r="0.50" fill="#4a4266" />
<circle cx="214.38" cy="612.62" r="0.52" fill="#7c7498" />
<circle cx="173.69" cy="629.38" r="0.57" fill="#4a4266" />
<circle cx="183.85" cy="600.77" r="0.32" fill="#6a6284" />
<circle cx="199.66" cy="649.09" r="0.60" fill="#4a4266" />
<circle cx="167.78" cy="631.46" r="0.53" fill="#6a6284" />
<circle cx="216.75" cy="631.75" r="0.26" fill="#5a5070" />
<circle cx="173.77" cy="624.90" r="0.33" fill="#7c7498" />
<circle cx="196.99" cy="627.67" r="0.36" fill="#4a4266" />
<circle cx="174.06" cy="623.60" r="0.36" fill="#5a5070" />
<circle cx="169.46" cy="604.14" r="0.60" fill="#4a4266" />
<circle cx="219.57" cy="627.17" r="0.49" fill="#7c7498" />
<circle cx="219.26" cy="616.86" r="0.25" fill="#4a4266" />
<circle cx="181.40" cy="632.75" r="0.42" fill="#5a5070" />
<circle cx="170.09" cy="618.73" r="0.42" fill="#5a5070" />
<circle cx="168.86" cy="633.41" r="0.55" fill="#7c7498" />
<circle cx="220.64" cy="620.24" r="0.48" fill="#7c7498" />
<circle cx="187.97" cy="650.69" r="0.37" fill="#6a6284" />
<circle cx="183.33" cy="624.48" r="0.37" fill="#5a5070" />
<circle cx="165.12" cy="614.96" r="0.40" fill="#5a5070" />
<circle cx="210.22" cy="606.71" r="0.47" fill="#6a6284" />
<circle cx="169.27" cy="625.86" r="0.58" fill="#4a4266" />
<circle cx="209.45" cy="624.07" r="0.52" fill="#5a5070" />
<circle cx="193.73" cy="651.68" r="0.33" fill="#4a4266" />
<circle cx="182.32" cy="632.20" r="0.47" fill="#4a4266" />
<circle cx="209.45" cy="643.33" r="0.34" fill="#5a5070" />
<circle cx="174.35" cy="620.75" r="0.31" fill="#7c7498" />
<circle cx="168.32" cy="613.21" r="0.43" fill="#5a5070" />
<circle cx="199.12" cy="601.04" r="0.39" fill="#5a5070" />
<circle cx="164.79" cy="613.95" r="0.27" fill="#4a4266" />
<circle cx="171.85" cy="642.25" r="0.45" fill="#5a5070" />
<circle cx="211.88" cy="641.02" r="0.42" fill="#6a6284" />
<circle cx="198.07" cy="613.79" r="0.53" fill="#6a6284" />
<circle cx="192.82" cy="623.53" r="0.28" fill="#4a4266" />
<circle cx="195.39" cy="596.62" r="0.59" fill="#4a4266" />
<circle cx="201.48" cy="631.88" r="0.49" fill="#7c7498" />
<circle cx="208.21" cy="600.93" r="0.46" fill="#4a4266" />
<circle cx="202.15" cy="643.88" r="0.33" fill="#6a6284" />
<circle cx="183.77" cy="596.66" r="0.52" fill="#4a4266" />
<circle cx="184.76" cy="644.07" r="0.53" fill="#7c7498" />
<circle cx="167.82" cy="616.15" r="0.56" fill="#7c7498" />
<circle cx="196.93" cy="629.44" r="0.57" fill="#5a5070" />
<circle cx="184.13" cy="628.72" r="0.56" fill="#5a5070" />
<circle cx="171.02" cy="636.51" r="0.32" fill="#4a4266" />
<circle cx="176.00" cy="612.33" r="0.44" fill="#7c7498" />
<circle cx="189.39" cy="612.54" r="0.40" fill="#4a4266" />
<circle cx="190.05" cy="632.42" r="0.35" fill="#7c7498" />
<circle cx="208.28" cy="604.70" r="0.47" fill="#7c7498" />
<circle cx="212.21" cy="634.91" r="0.55" fill="#7c7498" />
<circle cx="191.72" cy="646.83" r="0.43" fill="#6a6284" />
<circle cx="193.54" cy="624.77" r="0.38" fill="#4a4266" />
<circle cx="209.61" cy="639.20" r="0.48" fill="#7c7498" />
<circle cx="183.39" cy="647.15" r="0.54" fill="#7c7498" />
<circle cx="186.19" cy="649.54" r="0.46" fill="#7c7498" />
<circle cx="175.67" cy="606.36" r="0.39" fill="#5a5070" />
<circle cx="197.39" cy="622.33" r="0.38" fill="#7c7498" />
<circle cx="199.21" cy="610.52" r="0.60" fill="#7c7498" />
<circle cx="189.35" cy="598.02" r="0.28" fill="#5a5070" />
<circle cx="206.54" cy="620.68" r="0.38" fill="#7c7498" />
<circle cx="179.78" cy="601.67" r="0.38" fill="#7c7498" />
<circle cx="198.78" cy="627.47" r="0.52" fill="#7c7498" />
<circle cx="214.93" cy="613.17" r="0.33" fill="#6a6284" />
<circle cx="177.91" cy="607.47" r="0.34" fill="#4a4266" />
<circle cx="184.36" cy="641.73" r="0.45" fill="#7c7498" />
<circle cx="198.71" cy="644.29" r="0.35" fill="#4a4266" />
<circle cx="204.84" cy="629.14" r="0.40" fill="#4a4266" />
<circle cx="167.03" cy="616.44" r="0.31" fill="#5a5070" />
<circle cx="198.78" cy="644.62" r="0.38" fill="#4a4266" />
<circle cx="203.35" cy="635.75" r="0.27" fill="#5a5070" />
<circle cx="187.23" cy="623.04" r="0.38" fill="#4a4266" />
<circle cx="207.97" cy="621.11" r="0.54" fill="#6a6284" />
<circle cx="168.65" cy="629.87" r="0.46" fill="#6a6284" />
<circle cx="182.15" cy="607.27" r="0.36" fill="#6a6284" />
<circle cx="176.86" cy="641.12" r="0.44" fill="#5a5070" />
<circle cx="175.28" cy="638.18" r="0.41" fill="#5a5070" />
<circle cx="210.51" cy="603.29" r="0.42" fill="#4a4266" />
<circle cx="171.22" cy="612.04" r="0.45" fill="#4a4266" />
<circle cx="175.15" cy="625.08" r="0.28" fill="#7c7498" />
<circle cx="207.64" cy="605.74" r="0.47" fill="#7c7498" />
<circle cx="180.11" cy="605.84" r="0.42" fill="#6a6284" />
<circle cx="220.09" cy="629.01" r="0.52" fill="#7c7498" />
<circle cx="187.28" cy="607.49" r="0.47" fill="#6a6284" />
<circle cx="168.88" cy="631.48" r="0.35" fill="#6a6284" />
<circle cx="179.98" cy="623.26" r="0.39" fill="#4a4266" />
<circle cx="208.72" cy="624.87" r="0.45" fill="#6a6284" />
<circle cx="205.66" cy="647.25" r="0.59" fill="#6a6284" />
<circle cx="184.18" cy="647.05" r="0.58" fill="#7c7498" />
<circle cx="187.35" cy="647.76" r="0.34" fill="#4a4266" />
<circle cx="220.64" cy="613.44" r="0.33" fill="#4a4266" />
<circle cx="197.91" cy="594.77" r="0.26" fill="#4a4266" />
<circle cx="205.35" cy="601.44" r="0.30" fill="#4a4266" />
<circle cx="176.98" cy="640.36" r="0.40" fill="#6a6284" />
<circle cx="217.12" cy="637.40" r="0.43" fill="#4a4266" />
<circle cx="196.52" cy="597.62" r="0.45" fill="#4a4266" />
<circle cx="168.17" cy="626.40" r="0.46" fill="#4a4266" />
<circle cx="215.96" cy="639.19" r="0.32" fill="#5a5070" />
<circle cx="182.08" cy="621.02" r="0.37" fill="#7c7498" />
<circle cx="165.33" cy="622.89" r="0.40" fill="#6a6284" />
<circle cx="205.49" cy="621.19" r="0.28" fill="#5a5070" />
<circle cx="180.61" cy="639.40" r="0.58" fill="#6a6284" />
<circle cx="174.88" cy="603.29" r="0.29" fill="#7c7498" />
<circle cx="197.97" cy="648.03" r="0.37" fill="#7c7498" />
<circle cx="169.41" cy="639.98" r="0.56" fill="#7c7498" />
<circle cx="199.44" cy="643.48" r="0.49" fill="#5a5070" />
<circle cx="164.13" cy="629.85" r="0.37" fill="#5a5070" />
<circle cx="200.34" cy="633.07" r="0.38" fill="#4a4266" />
<circle cx="201.16" cy="627.12" r="0.58" fill="#4a4266" />
<circle cx="172.80" cy="640.27" r="0.36" fill="#4a4266" />
<circle cx="188.17" cy="621.28" r="0.32" fill="#5a5070" />
<circle cx="177.76" cy="644.80" r="0.58" fill="#5a5070" />
<circle cx="214.35" cy="634.94" r="0.26" fill="#6a6284" />
<circle cx="210.16" cy="613.55" r="0.35" fill="#4a4266" />
<circle cx="221.39" cy="627.93" r="0.34" fill="#5a5070" />
<circle cx="179.58" cy="625.85" r="0.30" fill="#6a6284" />
<circle cx="212.08" cy="608.09" r="0.42" fill="#6a6284" />
<circle cx="174.51" cy="644.07" r="0.43" fill="#5a5070" />
<circle cx="213.59" cy="620.81" r="0.39" fill="#5a5070" />
<circle cx="211.16" cy="643.82" r="0.53" fill="#7c7498" />
<circle cx="211.54" cy="643.04" r="0.28" fill="#4a4266" />
<circle cx="214.12" cy="641.55" r="0.56" fill="#5a5070" />
<circle cx="171.49" cy="621.07" r="0.30" fill="#6a6284" />
<circle cx="212.79" cy="635.76" r="0.40" fill="#5a5070" />
<circle cx="220.53" cy="628.75" r="0.52" fill="#6a6284" />
<circle cx="183.83" cy="648.98" r="0.52" fill="#7c7498" />
<circle cx="201.31" cy="637.75" r="0.59" fill="#4a4266" />
<circle cx="210.25" cy="638.74" r="0.48" fill="#4a4266" />
<circle cx="196.64" cy="601.63" r="0.48" fill="#5a5070" />
<circle cx="174.99" cy="611.55" r="0.30" fill="#5a5070" />
<circle cx="175.48" cy="631.26" r="0.43" fill="#4a4266" />
<circle cx="207.28" cy="642.00" r="0.40" fill="#5a5070" />
<circle cx="188.24" cy="631.58" r="0.46" fill="#6a6284" />
<circle cx="176.55" cy="640.47" r="0.58" fill="#5a5070" />
<circle cx="188.17" cy="642.34" r="0.57" fill="#5a5070" />
<circle cx="194.96" cy="646.79" r="0.41" fill="#7c7498" />
<circle cx="202.22" cy="631.18" r="0.29" fill="#4a4266" />
<circle cx="168.19" cy="606.22" r="0.57" fill="#7c7498" />
<circle cx="217.76" cy="617.51" r="0.48" fill="#7c7498" />
<circle cx="165.04" cy="627.25" r="0.28" fill="#6a6284" />
<circle cx="171.01" cy="609.11" r="0.46" fill="#5a5070" />
<circle cx="179.84" cy="627.74" r="0.40" fill="#5a5070" />
<circle cx="197.61" cy="610.93" r="0.59" fill="#4a4266" />
<circle cx="191.59" cy="615.09" r="0.29" fill="#5a5070" />
<circle cx="172.87" cy="635.11" r="0.55" fill="#4a4266" />
<circle cx="169.25" cy="630.56" r="0.44" fill="#4a4266" />
<circle cx="210.25" cy="646.39" r="0.41" fill="#4a4266" />
<circle cx="190.26" cy="606.70" r="0.57" fill="#6a6284" />
<circle cx="204.71" cy="643.03" r="0.50" fill="#6a6284" />
<circle cx="205.14" cy="646.42" r="0.59" fill="#7c7498" />
<circle cx="206.84" cy="643.34" r="0.31" fill="#4a4266" />
<circle cx="214.20" cy="610.13" r="0.54" fill="#4a4266" />
<circle cx="212.32" cy="643.11" r="0.43" fill="#7c7498" />
<circle cx="183.68" cy="616.28" r="0.25" fill="#4a4266" />
<circle cx="186.45" cy="597.74" r="0.28" fill="#4a4266" />
<circle cx="205.23" cy="632.84" r="0.60" fill="#6a6284" />
<circle cx="204.63" cy="599.10" r="0.49" fill="#5a5070" />
<circle cx="213.16" cy="604.54" r="0.26" fill="#5a5070" />
<circle cx="166.38" cy="610.95" r="0.32" fill="#7c7498" />
<circle cx="170.84" cy="624.14" r="0.27" fill="#7c7498" />
<circle cx="207.63" cy="620.90" r="0.39" fill="#5a5070" />
<circle cx="197.58" cy="596.79" r="0.51" fill="#5a5070" />
<circle cx="218.88" cy="614.45" r="0.35" fill="#4a4266" />
<circle cx="191.47" cy="631.26" r="0.28" fill="#5a5070" />
<circle cx="176.11" cy="637.82" r="0.58" fill="#4a4266" />
<circle cx="192.87" cy="634.65" r="0.31" fill="#4a4266" />
<circle cx="208.88" cy="606.25" r="0.38" fill="#6a6284" />
<circle cx="181.80" cy="621.63" r="0.56" fill="#7c7498" />
<circle cx="186.74" cy="623.80" r="0.48" fill="#5a5070" />
<circle cx="204.23" cy="603.56" r="0.30" fill="#6a6284" />
<circle cx="185.16" cy="648.94" r="0.43" fill="#5a5070" />
<circle cx="208.04" cy="646.08" r="0.36" fill="#4a4266" />
<circle cx="200.74" cy="631.58" r="0.36" fill="#6a6284" />
<circle cx="209.02" cy="641.24" r="0.53" fill="#4a4266" />
<circle cx="207.22" cy="631.54" r="0.52" fill="#5a5070" />
<circle cx="167.00" cy="616.73" r="0.45" fill="#5a5070" />
<circle cx="183.76" cy="615.25" r="0.26" fill="#7c7498" />
<circle cx="202.99" cy="629.87" r="0.53" fill="#7c7498" />
<circle cx="210.83" cy="605.80" r="0.49" fill="#4a4266" />
<circle cx="175.46" cy="640.60" r="0.41" fill="#7c7498" />
<circle cx="199.28" cy="606.59" r="0.51" fill="#5a5070" />
<circle cx="205.77" cy="610.74" r="0.49" fill="#7c7498" />
<circle cx="179.03" cy="639.97" r="0.35" fill="#7c7498" />
<circle cx="212.63" cy="605.02" r="0.49" fill="#5a5070" />
<circle cx="178.55" cy="601.25" r="0.44" fill="#4a4266" />
<circle cx="174.26" cy="617.93" r="0.30" fill="#5a5070" />
<circle cx="192.83" cy="647.09" r="0.47" fill="#7c7498" />
<circle cx="201.32" cy="599.44" r="0.33" fill="#5a5070" />
<circle cx="188.39" cy="597.17" r="0.44" fill="#7c7498" />
<circle cx="194.20" cy="610.96" r="0.59" fill="#7c7498" />
<circle cx="193.43" cy="620.71" r="0.49" fill="#6a6284" />
<circle cx="184.21" cy="646.55" r="0.38" fill="#5a5070" />
<circle cx="210.78" cy="605.95" r="0.59" fill="#4a4266" />
<circle cx="220.80" cy="623.87" r="0.44" fill="#7c7498" />
<circle cx="190.03" cy="621.73" r="0.38" fill="#7c7498" />
<circle cx="219.93" cy="621.60" r="0.41" fill="#5a5070" />
<circle cx="214.26" cy="635.99" r="0.48" fill="#7c7498" />
<circle cx="172.20" cy="630.02" r="0.45" fill="#7c7498" />
<circle cx="171.28" cy="618.47" r="0.54" fill="#6a6284" />
<circle cx="202.00" cy="627.36" r="0.44" fill="#6a6284" />
<circle cx="216.65" cy="609.33" r="0.33" fill="#6a6284" />
<circle cx="196.62" cy="644.49" r="0.26" fill="#5a5070" />
<circle cx="167.87" cy="636.55" r="0.46" fill="#7c7498" />
<circle cx="184.85" cy="646.82" r="0.41" fill="#6a6284" />
<circle cx="168.86" cy="628.11" r="0.58" fill="#7c7498" />
<circle cx="182.25" cy="643.86" r="0.55" fill="#5a5070" />
<circle cx="203.21" cy="598.76" r="0.38" fill="#4a4266" />
<circle cx="175.05" cy="607.78" r="0.57" fill="#4a4266" />
<circle cx="173.14" cy="639.34" r="0.37" fill="#4a4266" />
<circle cx="186.95" cy="594.74" r="0.46" fill="#5a5070" />
<circle cx="196.11" cy="615.97" r="0.59" fill="#4a4266" />
<circle cx="201.52" cy="618.89" r="0.44" fill="#7c7498" />
<circle cx="216.02" cy="616.13" r="0.49" fill="#4a4266" />
<circle cx="187.62" cy="616.39" r="0.56" fill="#7c7498" />
<circle cx="191.50" cy="651.05" r="0.26" fill="#7c7498" />
<circle cx="186.47" cy="643.88" r="0.33" fill="#5a5070" />
<circle cx="185.65" cy="596.25" r="0.28" fill="#4a4266" />
<circle cx="184.47" cy="599.03" r="0.51" fill="#5a5070" />
<circle cx="198.47" cy="595.86" r="0.59" fill="#6a6284" />
<circle cx="216.32" cy="610.82" r="0.59" fill="#4a4266" />
<circle cx="189.69" cy="598.48" r="0.47" fill="#7c7498" />
<circle cx="167.26" cy="609.84" r="0.44" fill="#5a5070" />
<circle cx="197.14" cy="617.03" r="0.37" fill="#7c7498" />
<circle cx="168.67" cy="638.21" r="0.25" fill="#6a6284" />
<circle cx="215.88" cy="637.80" r="0.41" fill="#4a4266" />
<circle cx="172.23" cy="609.17" r="0.59" fill="#5a5070" />
<circle cx="219.62" cy="627.26" r="0.40" fill="#5a5070" />
<circle cx="194.54" cy="645.30" r="0.58" fill="#6a6284" />
<circle cx="177.33" cy="604.16" r="0.40" fill="#5a5070" />
<circle cx="209.55" cy="621.12" r="0.58" fill="#7c7498" />
<circle cx="199.97" cy="597.71" r="0.53" fill="#7c7498" />
<circle cx="196.49" cy="631.27" r="0.45" fill="#7c7498" />
<circle cx="170.04" cy="623.45" r="0.55" fill="#4a4266" />
<line x1="285.70" y1="531.00" x2="285.70" y2="653.20" stroke="#222" stroke-width="1.3" />
<line x1="285.10" y1="652.60" x2="374.20" y2="652.60" stroke="#222" stroke-width="1.3" />
<line x1="280.50" y1="652.60" x2="285.70" y2="652.60" stroke="#222" stroke-width="1.2" />
<text x="279.10" y="655.80" font-size="9.2" font-weight="bold" text-anchor="end">0</text>
<line x1="280.50" y1="622.20" x2="285.70" y2="622.20" stroke="#222" stroke-width="1.2" />
<text x="279.10" y="625.40" font-size="9.2" font-weight="bold" text-anchor="end">20</text>
<line x1="280.50" y1="591.80" x2="285.70" y2="591.80" stroke="#222" stroke-width="1.2" />
<text x="279.10" y="595.00" font-size="9.2" font-weight="bold" text-anchor="end">40</text>
<line x1="280.50" y1="561.40" x2="285.70" y2="561.40" stroke="#222" stroke-width="1.2" />
<text x="279.10" y="564.60" font-size="9.2" font-weight="bold" text-anchor="end">60</text>
<line x1="280.50" y1="531.00" x2="285.70" y2="531.00" stroke="#222" stroke-width="1.2" />
<text x="279.10" y="534.20" font-size="9.2" font-weight="bold" text-anchor="end">80</text>
<text x="329.60" y="504.00" font-size="12.2" font-weight="bold" text-anchor="middle">HuH6</text>
<text transform="translate(259.90,591.60) rotate(-90)" font-size="10" font-weight="bold" text-anchor="middle">Colony number</text>
<rect x="294.80" y="542.25" width="17.30" height="109.75" fill="#62a3f8" />
<rect x="321.20" y="612.93" width="17.50" height="39.07" fill="#f07a82" />
<rect x="347.50" y="562.46" width="17.50" height="89.54" fill="#e9bf30" />
<line x1="303.40" y1="537.30" x2="303.40" y2="547.40" stroke="#5b5b5b" stroke-width="1.0" />
<line x1="299.20" y1="537.30" x2="307.60" y2="537.30" stroke="#5b5b5b" stroke-width="1.0" />
<line x1="299.20" y1="547.40" x2="307.60" y2="547.40" stroke="#5b5b5b" stroke-width="1.0" />
<circle cx="303.40" cy="537.20" r="2.60" fill="#5b5b5b" />
<circle cx="299.40" cy="546.30" r="2.60" fill="#5b5b5b" />
<circle cx="307.50" cy="543.00" r="2.60" fill="#5b5b5b" />
<line x1="329.90" y1="610.60" x2="329.90" y2="614.80" stroke="#5b5b5b" stroke-width="1.0" />
<line x1="326.30" y1="610.60" x2="333.50" y2="610.60" stroke="#5b5b5b" stroke-width="1.0" />
<line x1="326.30" y1="614.80" x2="333.50" y2="614.80" stroke="#5b5b5b" stroke-width="1.0" />
<polygon points="325.70,606.51 322.55,611.99 328.85,611.99" fill="#5b5b5b" />
<polygon points="325.70,611.31 322.55,616.79 328.85,616.79" fill="#5b5b5b" />
<polygon points="333.60,609.51 330.45,614.99 336.75,614.99" fill="#5b5b5b" />
<line x1="356.20" y1="555.20" x2="356.20" y2="570.40" stroke="#5b5b5b" stroke-width="1.0" />
<line x1="352.00" y1="555.20" x2="360.40" y2="555.20" stroke="#5b5b5b" stroke-width="1.0" />
<line x1="352.00" y1="570.40" x2="360.40" y2="570.40" stroke="#5b5b5b" stroke-width="1.0" />
<rect x="353.70" y="552.50" width="5.00" height="5.00" fill="#5b5b5b" />
<rect x="353.70" y="558.80" width="5.00" height="5.00" fill="#5b5b5b" />
<rect x="353.70" y="567.90" width="5.00" height="5.00" fill="#5b5b5b" />
<polyline points="303.20,530.00 303.20,522.50 329.70,522.50 329.70,603.00" fill="none" stroke="#1e1e1e" stroke-width="1.25" />
<polyline points="329.70,535.00 356.40,535.00 356.40,542.60" fill="none" stroke="#1e1e1e" stroke-width="1.25" />
<line x1="307.20" y1="512.80" x2="307.20" y2="518.40" stroke="#111" stroke-width="1.35" stroke-linecap="round"/>
<line x1="304.78" y1="514.20" x2="309.62" y2="517.00" stroke="#111" stroke-width="1.35" stroke-linecap="round"/>
<line x1="309.62" y1="514.20" x2="304.78" y2="517.00" stroke="#111" stroke-width="1.35" stroke-linecap="round"/>
<line x1="314.60" y1="512.80" x2="314.60" y2="518.40" stroke="#111" stroke-width="1.35" stroke-linecap="round"/>
<line x1="312.18" y1="514.20" x2="317.02" y2="517.00" stroke="#111" stroke-width="1.35" stroke-linecap="round"/>
<line x1="317.02" y1="514.20" x2="312.18" y2="517.00" stroke="#111" stroke-width="1.35" stroke-linecap="round"/>
<line x1="322.00" y1="512.80" x2="322.00" y2="518.40" stroke="#111" stroke-width="1.35" stroke-linecap="round"/>
<line x1="319.58" y1="514.20" x2="324.42" y2="517.00" stroke="#111" stroke-width="1.35" stroke-linecap="round"/>
<line x1="324.42" y1="514.20" x2="319.58" y2="517.00" stroke="#111" stroke-width="1.35" stroke-linecap="round"/>
<line x1="329.40" y1="512.80" x2="329.40" y2="518.40" stroke="#111" stroke-width="1.35" stroke-linecap="round"/>
<line x1="326.98" y1="514.20" x2="331.82" y2="517.00" stroke="#111" stroke-width="1.35" stroke-linecap="round"/>
<line x1="331.82" y1="514.20" x2="326.98" y2="517.00" stroke="#111" stroke-width="1.35" stroke-linecap="round"/>
<line x1="337.00" y1="525.00" x2="337.00" y2="530.60" stroke="#111" stroke-width="1.35" stroke-linecap="round"/>
<line x1="334.58" y1="526.40" x2="339.42" y2="529.20" stroke="#111" stroke-width="1.35" stroke-linecap="round"/>
<line x1="339.42" y1="526.40" x2="334.58" y2="529.20" stroke="#111" stroke-width="1.35" stroke-linecap="round"/>
<line x1="344.40" y1="525.00" x2="344.40" y2="530.60" stroke="#111" stroke-width="1.35" stroke-linecap="round"/>
<line x1="341.98" y1="526.40" x2="346.82" y2="529.20" stroke="#111" stroke-width="1.35" stroke-linecap="round"/>
<line x1="346.82" y1="526.40" x2="341.98" y2="529.20" stroke="#111" stroke-width="1.35" stroke-linecap="round"/>
<line x1="351.80" y1="525.00" x2="351.80" y2="530.60" stroke="#111" stroke-width="1.35" stroke-linecap="round"/>
<line x1="349.38" y1="526.40" x2="354.22" y2="529.20" stroke="#111" stroke-width="1.35" stroke-linecap="round"/>
<line x1="354.22" y1="526.40" x2="349.38" y2="529.20" stroke="#111" stroke-width="1.35" stroke-linecap="round"/>
<rect x="384.10" y="536.00" width="14.10" height="6.60" fill="#62a3f8" />
<text x="405.40" y="542.70" font-size="10.75">sgCtrl</text>
<rect x="384.10" y="552.40" width="14.10" height="6.60" fill="#f07a82" />
<text x="405.40" y="559.10" font-size="10.75">sgPPAT</text>
<rect x="384.10" y="569.00" width="14.10" height="6.60" fill="#e9bf30" />
<text x="405.40" y="575.70" font-size="10.75">sgPPAT+HX</text>
<line x1="511.00" y1="526.90" x2="511.00" y2="652.80" stroke="#222" stroke-width="1.3" />
<line x1="510.40" y1="652.20" x2="596.60" y2="652.20" stroke="#222" stroke-width="1.3" />
<line x1="505.80" y1="652.20" x2="511.00" y2="652.20" stroke="#222" stroke-width="1.2" />
<text x="504.40" y="655.40" font-size="9.2" font-weight="bold" text-anchor="end">0</text>
<line x1="505.80" y1="620.88" x2="511.00" y2="620.88" stroke="#222" stroke-width="1.2" />
<text x="504.40" y="624.08" font-size="9.2" font-weight="bold" text-anchor="end">200</text>
<line x1="505.80" y1="589.55" x2="511.00" y2="589.55" stroke="#222" stroke-width="1.2" />
<text x="504.40" y="592.75" font-size="9.2" font-weight="bold" text-anchor="end">400</text>
<line x1="505.80" y1="558.23" x2="511.00" y2="558.23" stroke="#222" stroke-width="1.2" />
<text x="504.40" y="561.43" font-size="9.2" font-weight="bold" text-anchor="end">600</text>
<line x1="505.80" y1="526.90" x2="511.00" y2="526.90" stroke="#222" stroke-width="1.2" />
<text x="504.40" y="530.10" font-size="9.2" font-weight="bold" text-anchor="end">800</text>
<text x="553.60" y="504.00" font-size="12.2" font-weight="bold" text-anchor="middle">HepG2</text>
<text transform="translate(480.90,590.20) rotate(-90)" font-size="10" font-weight="bold" text-anchor="middle">Colony number</text>
<rect x="519.10" y="545.07" width="17.40" height="106.53" fill="#62a3f8" />
<rect x="544.80" y="636.07" width="17.30" height="15.53" fill="#f07a82" />
<rect x="570.30" y="579.37" width="17.30" height="72.23" fill="#e9bf30" />
<line x1="527.80" y1="542.56" x2="527.80" y2="548.04" stroke="#5b5b5b" stroke-width="1.0" />
<line x1="523.60" y1="542.56" x2="532.00" y2="542.56" stroke="#5b5b5b" stroke-width="1.0" />
<line x1="523.60" y1="548.04" x2="532.00" y2="548.04" stroke="#5b5b5b" stroke-width="1.0" />
<circle cx="523.80" cy="541.60" r="2.60" fill="#5b5b5b" />
<circle cx="523.80" cy="548.30" r="2.60" fill="#5b5b5b" />
<circle cx="532.00" cy="545.60" r="2.60" fill="#5b5b5b" />
<line x1="553.50" y1="633.09" x2="553.50" y2="636.54" stroke="#5b5b5b" stroke-width="1.0" />
<line x1="549.90" y1="633.09" x2="557.10" y2="633.09" stroke="#5b5b5b" stroke-width="1.0" />
<line x1="549.90" y1="636.54" x2="557.10" y2="636.54" stroke="#5b5b5b" stroke-width="1.0" />
<polygon points="546.70,633.31 543.55,638.79 549.85,638.79" fill="#5b5b5b" />
<polygon points="553.80,629.71 550.65,635.19 556.95,635.19" fill="#5b5b5b" />
<polygon points="559.90,631.91 556.75,637.39 563.05,637.39" fill="#5b5b5b" />
<line x1="578.90" y1="578.59" x2="578.90" y2="580.15" stroke="#5b5b5b" stroke-width="1.0" />
<line x1="574.70" y1="578.59" x2="583.10" y2="578.59" stroke="#5b5b5b" stroke-width="1.0" />
<line x1="574.70" y1="580.15" x2="583.10" y2="580.15" stroke="#5b5b5b" stroke-width="1.0" />
<rect x="570.20" y="577.50" width="5.00" height="5.00" fill="#5b5b5b" />
<rect x="576.40" y="575.40" width="5.00" height="5.00" fill="#5b5b5b" />
<rect x="582.90" y="577.10" width="5.00" height="5.00" fill="#5b5b5b" />
<polyline points="527.30,532.00 527.30,525.90 552.40,525.90 552.40,623.70" fill="none" stroke="#1e1e1e" stroke-width="1.25" />
<polyline points="552.40,551.30 578.50,551.30 578.50,558.50" fill="none" stroke="#1e1e1e" stroke-width="1.25" />
<line x1="526.90" y1="515.60" x2="526.90" y2="521.20" stroke="#111" stroke-width="1.35" stroke-linecap="round"/>
<line x1="524.48" y1="517.00" x2="529.32" y2="519.80" stroke="#111" stroke-width="1.35" stroke-linecap="round"/>
<line x1="529.32" y1="517.00" x2="524.48" y2="519.80" stroke="#111" stroke-width="1.35" stroke-linecap="round"/>
<line x1="534.30" y1="515.60" x2="534.30" y2="521.20" stroke="#111" stroke-width="1.35" stroke-linecap="round"/>
<line x1="531.88" y1="517.00" x2="536.72" y2="519.80" stroke="#111" stroke-width="1.35" stroke-linecap="round"/>
<line x1="536.72" y1="517.00" x2="531.88" y2="519.80" stroke="#111" stroke-width="1.35" stroke-linecap="round"/>
<line x1="541.70" y1="515.60" x2="541.70" y2="521.20" stroke="#111" stroke-width="1.35" stroke-linecap="round"/>
<line x1="539.28" y1="517.00" x2="544.12" y2="519.80" stroke="#111" stroke-width="1.35" stroke-linecap="round"/>
<line x1="544.12" y1="517.00" x2="539.28" y2="519.80" stroke="#111" stroke-width="1.35" stroke-linecap="round"/>
<line x1="549.10" y1="515.60" x2="549.10" y2="521.20" stroke="#111" stroke-width="1.35" stroke-linecap="round"/>
<line x1="546.68" y1="517.00" x2="551.52" y2="519.80" stroke="#111" stroke-width="1.35" stroke-linecap="round"/>
<line x1="551.52" y1="517.00" x2="546.68" y2="519.80" stroke="#111" stroke-width="1.35" stroke-linecap="round"/>
<line x1="558.30" y1="542.00" x2="558.30" y2="547.60" stroke="#111" stroke-width="1.35" stroke-linecap="round"/>
<line x1="555.88" y1="543.40" x2="560.72" y2="546.20" stroke="#111" stroke-width="1.35" stroke-linecap="round"/>
<line x1="560.72" y1="543.40" x2="555.88" y2="546.20" stroke="#111" stroke-width="1.35" stroke-linecap="round"/>
<line x1="565.70" y1="542.00" x2="565.70" y2="547.60" stroke="#111" stroke-width="1.35" stroke-linecap="round"/>
<line x1="563.28" y1="543.40" x2="568.12" y2="546.20" stroke="#111" stroke-width="1.35" stroke-linecap="round"/>
<line x1="568.12" y1="543.40" x2="563.28" y2="546.20" stroke="#111" stroke-width="1.35" stroke-linecap="round"/>
<line x1="573.10" y1="542.00" x2="573.10" y2="547.60" stroke="#111" stroke-width="1.35" stroke-linecap="round"/>
<line x1="570.68" y1="543.40" x2="575.52" y2="546.20" stroke="#111" stroke-width="1.35" stroke-linecap="round"/>
<line x1="575.52" y1="543.40" x2="570.68" y2="546.20" stroke="#111" stroke-width="1.35" stroke-linecap="round"/>
<line x1="580.50" y1="542.00" x2="580.50" y2="547.60" stroke="#111" stroke-width="1.35" stroke-linecap="round"/>
<line x1="578.08" y1="543.40" x2="582.92" y2="546.20" stroke="#111" stroke-width="1.35" stroke-linecap="round"/>
<line x1="582.92" y1="543.40" x2="578.08" y2="546.20" stroke="#111" stroke-width="1.35" stroke-linecap="round"/>
<rect x="606.00" y="531.80" width="13.80" height="6.70" fill="#62a3f8" />
<text x="627.30" y="538.60" font-size="10.0">sgCtrl</text>
<rect x="606.00" y="548.80" width="13.80" height="6.70" fill="#f07a82" />
<text x="627.30" y="555.60" font-size="10.0">sgPPAT</text>
<rect x="606.00" y="565.80" width="13.80" height="6.70" fill="#e9bf30" />
<text x="627.30" y="572.60" font-size="10.0">sgPPAT+HX</text>
<line x1="58.60" y1="719.80" x2="58.60" y2="848.00" stroke="#222" stroke-width="1.3" />
<line x1="58.00" y1="847.40" x2="253.60" y2="847.40" stroke="#222" stroke-width="1.3" />
<line x1="54.00" y1="847.40" x2="58.60" y2="847.40" stroke="#222" stroke-width="1.2" />
<text x="52.80" y="850.60" font-size="9.2" font-weight="bold" text-anchor="end">0</text>
<line x1="54.00" y1="826.13" x2="58.60" y2="826.13" stroke="#222" stroke-width="1.2" />
<text x="52.80" y="829.33" font-size="9.2" font-weight="bold" text-anchor="end">300</text>
<line x1="54.00" y1="804.87" x2="58.60" y2="804.87" stroke="#222" stroke-width="1.2" />
<text x="52.80" y="808.07" font-size="9.2" font-weight="bold" text-anchor="end">600</text>
<line x1="54.00" y1="783.60" x2="58.60" y2="783.60" stroke="#222" stroke-width="1.2" />
<text x="52.80" y="786.80" font-size="9.2" font-weight="bold" text-anchor="end">900</text>
<line x1="54.00" y1="762.33" x2="58.60" y2="762.33" stroke="#222" stroke-width="1.2" />
<text x="52.80" y="765.53" font-size="9.2" font-weight="bold" text-anchor="end">1200</text>
<line x1="54.00" y1="741.07" x2="58.60" y2="741.07" stroke="#222" stroke-width="1.2" />
<text x="52.80" y="744.27" font-size="9.2" font-weight="bold" text-anchor="end">1500</text>
<line x1="54.00" y1="719.80" x2="58.60" y2="719.80" stroke="#222" stroke-width="1.2" />
<text x="52.80" y="723.00" font-size="9.2" font-weight="bold" text-anchor="end">1800</text>
<line x1="58.60" y1="847.40" x2="58.60" y2="851.80" stroke="#222" stroke-width="1.2" />
<text x="58.60" y="862.20" font-size="9.2" font-weight="bold" text-anchor="middle">0</text>
<line x1="86.46" y1="847.40" x2="86.46" y2="851.80" stroke="#222" stroke-width="1.2" />
<text x="86.46" y="862.20" font-size="9.2" font-weight="bold" text-anchor="middle">5</text>
<line x1="114.31" y1="847.40" x2="114.31" y2="851.80" stroke="#222" stroke-width="1.2" />
<text x="114.31" y="862.20" font-size="9.2" font-weight="bold" text-anchor="middle">10</text>
<line x1="142.17" y1="847.40" x2="142.17" y2="851.80" stroke="#222" stroke-width="1.2" />
<text x="142.17" y="862.20" font-size="9.2" font-weight="bold" text-anchor="middle">15</text>
<line x1="170.03" y1="847.40" x2="170.03" y2="851.80" stroke="#222" stroke-width="1.2" />
<text x="170.03" y="862.20" font-size="9.2" font-weight="bold" text-anchor="middle">20</text>
<line x1="197.89" y1="847.40" x2="197.89" y2="851.80" stroke="#222" stroke-width="1.2" />
<text x="197.89" y="862.20" font-size="9.2" font-weight="bold" text-anchor="middle">25</text>
<line x1="225.74" y1="847.40" x2="225.74" y2="851.80" stroke="#222" stroke-width="1.2" />
<text x="225.74" y="862.20" font-size="9.2" font-weight="bold" text-anchor="middle">30</text>
<line x1="253.60" y1="847.40" x2="253.60" y2="851.80" stroke="#222" stroke-width="1.2" />
<text x="253.60" y="862.20" font-size="9.2" font-weight="bold" text-anchor="middle">35</text>
<text x="156.10" y="875.00" font-size="10.6" font-weight="bold" text-anchor="middle">Days post implantation</text>
<text x="156.00" y="690.30" font-size="12.5" font-weight="bold" text-anchor="middle">Tumor growth</text>
<text transform="translate(23.80,783.40) rotate(-90)" font-size="10.6" font-weight="bold" text-anchor="middle">Tumor volume (mm<tspan font-size="7" dy="-4.5">3</tspan><tspan dy="4.5">)</tspan></text>
<polyline points="97.60,843.71 114.31,843.71 131.03,843.86 147.74,844.00 164.46,844.42 192.31,844.14 209.03,844.14 231.31,844.28" fill="none" stroke="#f29aa2" stroke-width="1.1" />
<polygon points="97.60,840.58 94.60,845.80 100.60,845.80" fill="#f07c86" />
<polygon points="114.31,840.58 111.31,845.80 117.31,845.80" fill="#f07c86" />
<polygon points="131.03,840.72 128.03,845.94 134.03,845.94" fill="#f07c86" />
<polygon points="147.74,840.87 144.74,846.09 150.74,846.09" fill="#f07c86" />
<polygon points="164.46,841.29 161.46,846.51 167.46,846.51" fill="#f07c86" />
<polygon points="192.31,841.01 189.31,846.23 195.31,846.23" fill="#f07c86" />
<polygon points="209.03,841.01 206.03,846.23 212.03,846.23" fill="#f07c86" />
<polygon points="231.31,841.15 228.31,846.37 234.31,846.37" fill="#f07c86" />
<line x1="131.03" y1="818.62" x2="131.03" y2="814.01" stroke="#8ab9f6" stroke-width="1.0" />
<line x1="128.23" y1="814.01" x2="133.83" y2="814.01" stroke="#8ab9f6" stroke-width="1.0" />
<line x1="153.31" y1="810.25" x2="153.31" y2="805.65" stroke="#8ab9f6" stroke-width="1.0" />
<line x1="150.51" y1="805.65" x2="156.11" y2="805.65" stroke="#8ab9f6" stroke-width="1.0" />
<line x1="170.03" y1="800.97" x2="170.03" y2="794.38" stroke="#8ab9f6" stroke-width="1.0" />
<line x1="167.23" y1="794.38" x2="172.83" y2="794.38" stroke="#8ab9f6" stroke-width="1.0" />
<line x1="192.31" y1="787.14" x2="192.31" y2="777.57" stroke="#8ab9f6" stroke-width="1.0" />
<line x1="189.51" y1="777.57" x2="195.11" y2="777.57" stroke="#8ab9f6" stroke-width="1.0" />
<line x1="209.03" y1="775.59" x2="209.03" y2="762.48" stroke="#8ab9f6" stroke-width="1.0" />
<line x1="206.23" y1="762.48" x2="211.83" y2="762.48" stroke="#8ab9f6" stroke-width="1.0" />
<line x1="231.31" y1="752.69" x2="231.31" y2="730.58" stroke="#8ab9f6" stroke-width="1.0" />
<line x1="228.51" y1="730.58" x2="234.11" y2="730.58" stroke="#8ab9f6" stroke-width="1.0" />
<polyline points="97.60,840.03 114.31,833.01 131.03,818.62 153.31,810.25 170.03,800.97 192.31,787.14 209.03,775.59 231.31,752.69" fill="none" stroke="#8ab9f6" stroke-width="1.1" />
<circle cx="97.60" cy="840.03" r="2.80" fill="#5e9ff6" />
<circle cx="114.31" cy="833.01" r="2.80" fill="#5e9ff6" />
<circle cx="131.03" cy="818.62" r="2.80" fill="#5e9ff6" />
<circle cx="153.31" cy="810.25" r="2.80" fill="#5e9ff6" />
<circle cx="170.03" cy="800.97" r="2.80" fill="#5e9ff6" />
<circle cx="192.31" cy="787.14" r="2.80" fill="#5e9ff6" />
<circle cx="209.03" cy="775.59" r="2.80" fill="#5e9ff6" />
<circle cx="231.31" cy="752.69" r="2.80" fill="#5e9ff6" />
<line x1="82.00" y1="727.40" x2="96.00" y2="727.40" stroke="#8ab9f6" stroke-width="1.1" />
<circle cx="89.00" cy="727.40" r="2.80" fill="#5e9ff6" />
<line x1="82.00" y1="742.00" x2="96.00" y2="742.00" stroke="#f29aa2" stroke-width="1.1" />
<polygon points="89.00,738.87 86.00,744.09 92.00,744.09" fill="#f07c86" />
<text x="103.20" y="731.00" font-size="10.5">sgCtrl</text>
<text x="103.20" y="745.60" font-size="10.5">sgPPAT</text>
<polyline points="237.20,752.30 243.80,752.30 243.80,842.20 237.20,842.20" fill="none" stroke="#2a2a2a" stroke-width="1.2" />
<text transform="translate(258.44,788.35) rotate(-90)" font-size="11.6" text-anchor="middle">*</text>
<text transform="translate(258.44,794.25) rotate(-90)" font-size="11.6" text-anchor="middle">*</text>
<text transform="translate(258.44,800.15) rotate(-90)" font-size="11.6" text-anchor="middle">*</text>
<text transform="translate(258.44,806.05) rotate(-90)" font-size="11.6" text-anchor="middle">*</text>
<g clip-path="url(#photoclip)">
<rect x="291.3" y="705.3" width="145.0" height="143.2" fill="url(#photobg)"/>
<rect x="291.3" y="705.3" width="1.6" height="143.2" fill="#a9a6a1"/>
<rect x="292.9" y="705.3" width="25" height="143.2" fill="#dfdeda"/>
<rect x="310.5" y="705.3" width="7.6" height="143.2" fill="#d9d8d5"/>
<line x1="318.3" y1="705.3" x2="318.3" y2="848.5" stroke="#a3a09c" stroke-width="0.8"/>
<line x1="314.2" y1="707.3" x2="318.0" y2="707.3" stroke="#5f5c59" stroke-width="0.5"/>
<rect x="308.6" y="706.6" width="1.2" height="1.4" fill="#8a8784"/>
<line x1="315.8" y1="708.7" x2="318.0" y2="708.7" stroke="#5f5c59" stroke-width="0.5"/>
<line x1="315.8" y1="710.1" x2="318.0" y2="710.1" stroke="#5f5c59" stroke-width="0.5"/>
<line x1="315.8" y1="711.6" x2="318.0" y2="711.6" stroke="#5f5c59" stroke-width="0.5"/>
<line x1="315.8" y1="713.0" x2="318.0" y2="713.0" stroke="#5f5c59" stroke-width="0.5"/>
<line x1="314.2" y1="714.4" x2="318.0" y2="714.4" stroke="#5f5c59" stroke-width="0.5"/>
<rect x="308.6" y="713.7" width="1.2" height="1.4" fill="#8a8784"/>
<line x1="315.8" y1="715.8" x2="318.0" y2="715.8" stroke="#5f5c59" stroke-width="0.5"/>
<line x1="315.8" y1="717.2" x2="318.0" y2="717.2" stroke="#5f5c59" stroke-width="0.5"/>
<line x1="315.8" y1="718.7" x2="318.0" y2="718.7" stroke="#5f5c59" stroke-width="0.5"/>
<line x1="315.8" y1="720.1" x2="318.0" y2="720.1" stroke="#5f5c59" stroke-width="0.5"/>
<line x1="314.2" y1="721.5" x2="318.0" y2="721.5" stroke="#5f5c59" stroke-width="0.5"/>
<rect x="308.6" y="720.8" width="1.2" height="1.4" fill="#8a8784"/>
<line x1="315.8" y1="722.9" x2="318.0" y2="722.9" stroke="#5f5c59" stroke-width="0.5"/>
<line x1="315.8" y1="724.3" x2="318.0" y2="724.3" stroke="#5f5c59" stroke-width="0.5"/>
<line x1="315.8" y1="725.8" x2="318.0" y2="725.8" stroke="#5f5c59" stroke-width="0.5"/>
<line x1="315.8" y1="727.2" x2="318.0" y2="727.2" stroke="#5f5c59" stroke-width="0.5"/>
<line x1="314.2" y1="728.6" x2="318.0" y2="728.6" stroke="#5f5c59" stroke-width="0.5"/>
<rect x="308.6" y="727.9" width="1.2" height="1.4" fill="#8a8784"/>
<line x1="315.8" y1="730.0" x2="318.0" y2="730.0" stroke="#5f5c59" stroke-width="0.5"/>
<line x1="315.8" y1="731.4" x2="318.0" y2="731.4" stroke="#5f5c59" stroke-width="0.5"/>
<line x1="315.8" y1="732.9" x2="318.0" y2="732.9" stroke="#5f5c59" stroke-width="0.5"/>
<line x1="315.8" y1="734.3" x2="318.0" y2="734.3" stroke="#5f5c59" stroke-width="0.5"/>
<line x1="314.2" y1="735.7" x2="318.0" y2="735.7" stroke="#5f5c59" stroke-width="0.5"/>
<rect x="308.6" y="735.0" width="1.2" height="1.4" fill="#8a8784"/>
<line x1="315.8" y1="737.1" x2="318.0" y2="737.1" stroke="#5f5c59" stroke-width="0.5"/>
<line x1="315.8" y1="738.5" x2="318.0" y2="738.5" stroke="#5f5c59" stroke-width="0.5"/>
<line x1="315.8" y1="740.0" x2="318.0" y2="740.0" stroke="#5f5c59" stroke-width="0.5"/>
<line x1="315.8" y1="741.4" x2="318.0" y2="741.4" stroke="#5f5c59" stroke-width="0.5"/>
<line x1="314.2" y1="742.8" x2="318.0" y2="742.8" stroke="#5f5c59" stroke-width="0.5"/>
<rect x="308.6" y="742.1" width="1.2" height="1.4" fill="#8a8784"/>
<line x1="315.8" y1="744.2" x2="318.0" y2="744.2" stroke="#5f5c59" stroke-width="0.5"/>
<line x1="315.8" y1="745.6" x2="318.0" y2="745.6" stroke="#5f5c59" stroke-width="0.5"/>
<line x1="315.8" y1="747.1" x2="318.0" y2="747.1" stroke="#5f5c59" stroke-width="0.5"/>
<line x1="315.8" y1="748.5" x2="318.0" y2="748.5" stroke="#5f5c59" stroke-width="0.5"/>
<line x1="314.2" y1="749.9" x2="318.0" y2="749.9" stroke="#5f5c59" stroke-width="0.5"/>
<rect x="308.6" y="749.2" width="1.2" height="1.4" fill="#8a8784"/>
<line x1="315.8" y1="751.3" x2="318.0" y2="751.3" stroke="#5f5c59" stroke-width="0.5"/>
<line x1="315.8" y1="752.7" x2="318.0" y2="752.7" stroke="#5f5c59" stroke-width="0.5"/>
<line x1="315.8" y1="754.2" x2="318.0" y2="754.2" stroke="#5f5c59" stroke-width="0.5"/>
<line x1="315.8" y1="755.6" x2="318.0" y2="755.6" stroke="#5f5c59" stroke-width="0.5"/>
<line x1="314.2" y1="757.0" x2="318.0" y2="757.0" stroke="#5f5c59" stroke-width="0.5"/>
<rect x="308.6" y="756.3" width="1.2" height="1.4" fill="#8a8784"/>
<line x1="315.8" y1="758.4" x2="318.0" y2="758.4" stroke="#5f5c59" stroke-width="0.5"/>
<line x1="315.8" y1="759.8" x2="318.0" y2="759.8" stroke="#5f5c59" stroke-width="0.5"/>
<line x1="315.8" y1="761.3" x2="318.0" y2="761.3" stroke="#5f5c59" stroke-width="0.5"/>
<line x1="315.8" y1="762.7" x2="318.0" y2="762.7" stroke="#5f5c59" stroke-width="0.5"/>
<line x1="314.2" y1="764.1" x2="318.0" y2="764.1" stroke="#5f5c59" stroke-width="0.5"/>
<rect x="308.6" y="763.4" width="1.2" height="1.4" fill="#8a8784"/>
<line x1="315.8" y1="765.5" x2="318.0" y2="765.5" stroke="#5f5c59" stroke-width="0.5"/>
<line x1="315.8" y1="766.9" x2="318.0" y2="766.9" stroke="#5f5c59" stroke-width="0.5"/>
<line x1="315.8" y1="768.4" x2="318.0" y2="768.4" stroke="#5f5c59" stroke-width="0.5"/>
<line x1="315.8" y1="769.8" x2="318.0" y2="769.8" stroke="#5f5c59" stroke-width="0.5"/>
<line x1="314.2" y1="771.2" x2="318.0" y2="771.2" stroke="#5f5c59" stroke-width="0.5"/>
<rect x="308.6" y="770.5" width="1.2" height="1.4" fill="#8a8784"/>
<line x1="315.8" y1="772.6" x2="318.0" y2="772.6" stroke="#5f5c59" stroke-width="0.5"/>
<line x1="315.8" y1="774.0" x2="318.0" y2="774.0" stroke="#5f5c59" stroke-width="0.5"/>
<line x1="315.8" y1="775.5" x2="318.0" y2="775.5" stroke="#5f5c59" stroke-width="0.5"/>
<line x1="315.8" y1="776.9" x2="318.0" y2="776.9" stroke="#5f5c59" stroke-width="0.5"/>
<line x1="314.2" y1="778.3" x2="318.0" y2="778.3" stroke="#5f5c59" stroke-width="0.5"/>
<rect x="308.6" y="777.6" width="1.2" height="1.4" fill="#8a8784"/>
<line x1="315.8" y1="779.7" x2="318.0" y2="779.7" stroke="#5f5c59" stroke-width="0.5"/>
<line x1="315.8" y1="781.1" x2="318.0" y2="781.1" stroke="#5f5c59" stroke-width="0.5"/>
<line x1="315.8" y1="782.6" x2="318.0" y2="782.6" stroke="#5f5c59" stroke-width="0.5"/>
<line x1="315.8" y1="784.0" x2="318.0" y2="784.0" stroke="#5f5c59" stroke-width="0.5"/>
<line x1="314.2" y1="785.4" x2="318.0" y2="785.4" stroke="#5f5c59" stroke-width="0.5"/>
<rect x="308.6" y="784.7" width="1.2" height="1.4" fill="#8a8784"/>
<line x1="315.8" y1="786.8" x2="318.0" y2="786.8" stroke="#5f5c59" stroke-width="0.5"/>
<line x1="315.8" y1="788.2" x2="318.0" y2="788.2" stroke="#5f5c59" stroke-width="0.5"/>
<line x1="315.8" y1="789.7" x2="318.0" y2="789.7" stroke="#5f5c59" stroke-width="0.5"/>
<line x1="315.8" y1="791.1" x2="318.0" y2="791.1" stroke="#5f5c59" stroke-width="0.5"/>
<line x1="314.2" y1="792.5" x2="318.0" y2="792.5" stroke="#5f5c59" stroke-width="0.5"/>
<rect x="308.6" y="791.8" width="1.2" height="1.4" fill="#8a8784"/>
<line x1="315.8" y1="793.9" x2="318.0" y2="793.9" stroke="#5f5c59" stroke-width="0.5"/>
<line x1="315.8" y1="795.3" x2="318.0" y2="795.3" stroke="#5f5c59" stroke-width="0.5"/>
<line x1="315.8" y1="796.8" x2="318.0" y2="796.8" stroke="#5f5c59" stroke-width="0.5"/>
<line x1="315.8" y1="798.2" x2="318.0" y2="798.2" stroke="#5f5c59" stroke-width="0.5"/>
<line x1="314.2" y1="799.6" x2="318.0" y2="799.6" stroke="#5f5c59" stroke-width="0.5"/>
<rect x="308.6" y="798.9" width="1.2" height="1.4" fill="#8a8784"/>
<line x1="315.8" y1="801.0" x2="318.0" y2="801.0" stroke="#5f5c59" stroke-width="0.5"/>
<line x1="315.8" y1="802.4" x2="318.0" y2="802.4" stroke="#5f5c59" stroke-width="0.5"/>
<line x1="315.8" y1="803.9" x2="318.0" y2="803.9" stroke="#5f5c59" stroke-width="0.5"/>
<line x1="315.8" y1="805.3" x2="318.0" y2="805.3" stroke="#5f5c59" stroke-width="0.5"/>
<line x1="314.2" y1="806.7" x2="318.0" y2="806.7" stroke="#5f5c59" stroke-width="0.5"/>
<rect x="308.6" y="806.0" width="1.2" height="1.4" fill="#8a8784"/>
<line x1="315.8" y1="808.1" x2="318.0" y2="808.1" stroke="#5f5c59" stroke-width="0.5"/>
<line x1="315.8" y1="809.5" x2="318.0" y2="809.5" stroke="#5f5c59" stroke-width="0.5"/>
<line x1="315.8" y1="811.0" x2="318.0" y2="811.0" stroke="#5f5c59" stroke-width="0.5"/>
<line x1="315.8" y1="812.4" x2="318.0" y2="812.4" stroke="#5f5c59" stroke-width="0.5"/>
<line x1="314.2" y1="813.8" x2="318.0" y2="813.8" stroke="#5f5c59" stroke-width="0.5"/>
<rect x="308.6" y="813.1" width="1.2" height="1.4" fill="#8a8784"/>
<line x1="315.8" y1="815.2" x2="318.0" y2="815.2" stroke="#5f5c59" stroke-width="0.5"/>
<line x1="315.8" y1="816.6" x2="318.0" y2="816.6" stroke="#5f5c59" stroke-width="0.5"/>
<line x1="315.8" y1="818.1" x2="318.0" y2="818.1" stroke="#5f5c59" stroke-width="0.5"/>
<line x1="315.8" y1="819.5" x2="318.0" y2="819.5" stroke="#5f5c59" stroke-width="0.5"/>
<line x1="314.2" y1="820.9" x2="318.0" y2="820.9" stroke="#5f5c59" stroke-width="0.5"/>
<rect x="308.6" y="820.2" width="1.2" height="1.4" fill="#8a8784"/>
<line x1="315.8" y1="822.3" x2="318.0" y2="822.3" stroke="#5f5c59" stroke-width="0.5"/>
<line x1="315.8" y1="823.7" x2="318.0" y2="823.7" stroke="#5f5c59" stroke-width="0.5"/>
<line x1="315.8" y1="825.2" x2="318.0" y2="825.2" stroke="#5f5c59" stroke-width="0.5"/>
<line x1="315.8" y1="826.6" x2="318.0" y2="826.6" stroke="#5f5c59" stroke-width="0.5"/>
<line x1="314.2" y1="828.0" x2="318.0" y2="828.0" stroke="#5f5c59" stroke-width="0.5"/>
<rect x="308.6" y="827.3" width="1.2" height="1.4" fill="#8a8784"/>
<line x1="315.8" y1="829.4" x2="318.0" y2="829.4" stroke="#5f5c59" stroke-width="0.5"/>
<line x1="315.8" y1="830.8" x2="318.0" y2="830.8" stroke="#5f5c59" stroke-width="0.5"/>
<line x1="315.8" y1="832.3" x2="318.0" y2="832.3" stroke="#5f5c59" stroke-width="0.5"/>
<line x1="315.8" y1="833.7" x2="318.0" y2="833.7" stroke="#5f5c59" stroke-width="0.5"/>
<line x1="314.2" y1="835.1" x2="318.0" y2="835.1" stroke="#5f5c59" stroke-width="0.5"/>
<rect x="308.6" y="834.4" width="1.2" height="1.4" fill="#8a8784"/>
<line x1="315.8" y1="836.5" x2="318.0" y2="836.5" stroke="#5f5c59" stroke-width="0.5"/>
<line x1="315.8" y1="837.9" x2="318.0" y2="837.9" stroke="#5f5c59" stroke-width="0.5"/>
<line x1="315.8" y1="839.4" x2="318.0" y2="839.4" stroke="#5f5c59" stroke-width="0.5"/>
<line x1="315.8" y1="840.8" x2="318.0" y2="840.8" stroke="#5f5c59" stroke-width="0.5"/>
<line x1="314.2" y1="842.2" x2="318.0" y2="842.2" stroke="#5f5c59" stroke-width="0.5"/>
<rect x="308.6" y="841.5" width="1.2" height="1.4" fill="#8a8784"/>
<line x1="315.8" y1="843.6" x2="318.0" y2="843.6" stroke="#5f5c59" stroke-width="0.5"/>
<line x1="315.8" y1="845.0" x2="318.0" y2="845.0" stroke="#5f5c59" stroke-width="0.5"/>
<line x1="315.8" y1="846.5" x2="318.0" y2="846.5" stroke="#5f5c59" stroke-width="0.5"/>
<line x1="315.8" y1="847.9" x2="318.0" y2="847.9" stroke="#5f5c59" stroke-width="0.5"/>
<rect x="313.8" y="790" width="2.2" height="12" fill="#f6f6f4" opacity="0.7"/>
<path d="M336.5,818.0 Q338.0,832.0 339.0,850.5" stroke="#cdb0a9" stroke-width="2.6" fill="none" filter="url(#soft)"/>
<path d="M357.5,818.0 Q359.0,832.0 360.0,850.5" stroke="#cdb0a9" stroke-width="2.6" fill="none" filter="url(#soft)"/>
<path d="M374.0,816.0 Q375.5,830.0 375.5,850.5" stroke="#cdb0a9" stroke-width="2.6" fill="none" filter="url(#soft)"/>
<path d="M396.5,810.0 Q398.0,824.0 399.5,850.5" stroke="#cdb0a9" stroke-width="2.6" fill="none" filter="url(#soft)"/>
<path d="M416.0,808.0 Q417.5,822.0 418.0,850.5" stroke="#cdb0a9" stroke-width="2.6" fill="none" filter="url(#soft)"/>
<g filter="url(#soft)">
<path d="M322,716 C326,711 336,712 344,713 C352,709 362,711 372,712 C380,709 392,709 400,712 C408,711 414,714 415,720 C417,735 416,748 418,756 C422,757 424,760 418,762 C410,764 400,766 392,766 C384,768 372,770 362,769 C352,770 344,768 338,766 C332,768 326,764 322,756 C318,744 318,724 322,716 Z" fill="#c6ada6"/>
<path d="M322,778 C330,772 340,771 348,770 C356,767 366,766 376,766 C386,764 398,764 408,764 C416,763 424,764 425,772 C426,786 424,800 426,806 C432,808 436,812 430,814 C424,815 416,814 410,816 C404,820 396,822 388,822 C380,826 370,826 360,826 C352,828 342,828 336,826 C326,822 321,812 320,800 C319,790 319,782 322,778 Z" fill="#bca9a4"/>
</g>
<ellipse cx="348" cy="768.5" rx="4" ry="1.6" fill="#e8e4e1" filter="url(#soft)"/>
<ellipse cx="366" cy="769.5" rx="3.5" ry="1.5" fill="#ebe7e4" filter="url(#soft)"/>
<ellipse cx="384" cy="768" rx="3" ry="1.4" fill="#e6e2df" filter="url(#soft)"/>
<ellipse cx="342" cy="766" rx="4" ry="2.2" fill="#d3bab4" filter="url(#soft)"/>
<ellipse cx="358" cy="768" rx="4" ry="2" fill="#d0b7b1" filter="url(#soft)"/>
<ellipse cx="377" cy="767" rx="4" ry="2" fill="#d3bbb5" filter="url(#soft)"/>
<ellipse cx="398" cy="765" rx="4.5" ry="2" fill="#cfb6b0" filter="url(#soft)"/>
<ellipse cx="418" cy="760" rx="5" ry="2" fill="#d4bbb5" filter="url(#soft)"/>
<ellipse cx="348" cy="827" rx="4" ry="2" fill="#d0b5af" filter="url(#soft)"/>
<ellipse cx="368" cy="825" rx="4" ry="2" fill="#cdb3ad" filter="url(#soft)"/>
<ellipse cx="388" cy="822" rx="4" ry="2" fill="#d0b6b0" filter="url(#soft)"/>
<ellipse cx="410" cy="817" rx="4.5" ry="2" fill="#cfb4ae" filter="url(#soft)"/>
<ellipse cx="431" cy="812" rx="4" ry="2" fill="#d2b8b2" filter="url(#soft)"/>
<ellipse cx="327" cy="742" rx="5" ry="14" fill="#d3bdb7" opacity="0.75" filter="url(#soft2)"/>
<ellipse cx="350" cy="738" rx="4" ry="14" fill="#d3bdb7" opacity="0.75" filter="url(#soft2)"/>
<ellipse cx="367" cy="742" rx="4" ry="13" fill="#d3bdb7" opacity="0.75" filter="url(#soft2)"/>
<ellipse cx="385" cy="738" rx="4" ry="13" fill="#d3bdb7" opacity="0.75" filter="url(#soft2)"/>
<ellipse cx="402" cy="740" rx="4" ry="12" fill="#d3bdb7" opacity="0.75" filter="url(#soft2)"/>
<ellipse cx="329" cy="800" rx="5" ry="15" fill="#d3bdb7" opacity="0.75" filter="url(#soft2)"/>
<ellipse cx="350" cy="798" rx="4.5" ry="15" fill="#d3bdb7" opacity="0.75" filter="url(#soft2)"/>
<ellipse cx="371" cy="796" rx="4.5" ry="15" fill="#d3bdb7" opacity="0.75" filter="url(#soft2)"/>
<ellipse cx="392" cy="792" rx="4.5" ry="14" fill="#d3bdb7" opacity="0.75" filter="url(#soft2)"/>
<ellipse cx="411" cy="790" rx="4.5" ry="14" fill="#d3bdb7" opacity="0.75" filter="url(#soft2)"/>
<path d="M344,714 L343,730 L345,748 L347,766" stroke="#96817d" stroke-width="2.2" fill="none" filter="url(#soft1)"/>
<path d="M361.5,712 L361,730 L362,750 L364,768" stroke="#96817d" stroke-width="2.2" fill="none" filter="url(#soft1)"/>
<path d="M378.5,712 L378,730 L379,750 L381,767" stroke="#96817d" stroke-width="2.2" fill="none" filter="url(#soft1)"/>
<path d="M396.5,711 L396,728 L397,748 L399,765" stroke="#96817d" stroke-width="2.2" fill="none" filter="url(#soft1)"/>
<path d="M344,772 L343,790 L344,808 L346,827" stroke="#96817d" stroke-width="2.2" fill="none" filter="url(#soft1)"/>
<path d="M364.5,768 L364,786 L365,806 L367,826" stroke="#96817d" stroke-width="2.2" fill="none" filter="url(#soft1)"/>
<path d="M385.5,767 L385,785 L386,803 L388,822" stroke="#96817d" stroke-width="2.2" fill="none" filter="url(#soft1)"/>
<path d="M405.5,765 L405,782 L406,800 L408,818" stroke="#96817d" stroke-width="2.2" fill="none" filter="url(#soft1)"/>
<ellipse cx="338" cy="750" rx="4" ry="14" fill="#a8928d" opacity="0.55" filter="url(#soft2)"/>
<ellipse cx="357" cy="745" rx="3.5" ry="14" fill="#a8928d" opacity="0.55" filter="url(#soft2)"/>
<ellipse cx="374" cy="747" rx="3.5" ry="13" fill="#a8928d" opacity="0.55" filter="url(#soft2)"/>
<ellipse cx="392" cy="744" rx="3.5" ry="13" fill="#a8928d" opacity="0.55" filter="url(#soft2)"/>
<ellipse cx="410" cy="745" rx="3.5" ry="12" fill="#a8928d" opacity="0.55" filter="url(#soft2)"/>
<ellipse cx="339" cy="806" rx="4" ry="14" fill="#a8928d" opacity="0.55" filter="url(#soft2)"/>
<ellipse cx="359" cy="802" rx="3.5" ry="14" fill="#a8928d" opacity="0.55" filter="url(#soft2)"/>
<ellipse cx="380" cy="800" rx="3.5" ry="14" fill="#a8928d" opacity="0.55" filter="url(#soft2)"/>
<ellipse cx="400" cy="797" rx="3.5" ry="13" fill="#a8928d" opacity="0.55" filter="url(#soft2)"/>
<ellipse cx="420" cy="796" rx="3.5" ry="13" fill="#a8928d" opacity="0.55" filter="url(#soft2)"/>
<ellipse cx="320.5" cy="712" rx="3.5" ry="7" fill="#e4e3df" filter="url(#soft)"/>
<ellipse cx="346" cy="709.5" rx="3" ry="2.5" fill="#e4e3df" filter="url(#soft)"/>
<ellipse cx="363" cy="709.5" rx="2.5" ry="2.5" fill="#e5e4e0" filter="url(#soft)"/>
<ellipse cx="380" cy="709.5" rx="2.5" ry="2" fill="#e5e4e0" filter="url(#soft)"/>
<ellipse cx="417" cy="716" rx="2.5" ry="5" fill="#e7e6e3" filter="url(#soft)"/>
<ellipse cx="350" cy="768" rx="8" ry="2.4" fill="#ecebea" filter="url(#soft)"/>
<ellipse cx="330" cy="770.5" rx="8" ry="3.2" fill="#eeedeb" filter="url(#soft)"/>
<ellipse cx="322" cy="768" rx="3" ry="4" fill="#ebeae7" filter="url(#soft)"/>
<ellipse cx="368" cy="768.5" rx="5" ry="2" fill="#eeeeec" filter="url(#soft)"/>
<ellipse cx="387" cy="767.5" rx="4" ry="1.8" fill="#ebeae8" filter="url(#soft)"/>
<ellipse cx="344" cy="771" rx="3.5" ry="2" fill="#eae9e7" filter="url(#soft)"/>
<ellipse cx="362" cy="769.5" rx="3" ry="1.6" fill="#ecebe9" filter="url(#soft)"/>
<ellipse cx="321" cy="774" rx="3" ry="4" fill="#e6e5e2" filter="url(#soft)"/>
<ellipse cx="427" cy="770" rx="3" ry="8" fill="#e9e8e5" filter="url(#soft)"/>
<ellipse cx="344" cy="724" rx="2.2" ry="5" fill="#6f5d5a" opacity="0.8" filter="url(#soft1)"/>
<ellipse cx="361" cy="722" rx="2" ry="4.5" fill="#6f5d5a" opacity="0.8" filter="url(#soft1)"/>
<ellipse cx="378" cy="722" rx="1.8" ry="4" fill="#6f5d5a" opacity="0.8" filter="url(#soft1)"/>
<ellipse cx="396" cy="721" rx="1.8" ry="4" fill="#6f5d5a" opacity="0.8" filter="url(#soft1)"/>
<ellipse cx="344" cy="782" rx="2" ry="5" fill="#6f5d5a" opacity="0.8" filter="url(#soft1)"/>
<ellipse cx="364" cy="779" rx="2" ry="4" fill="#6f5d5a" opacity="0.8" filter="url(#soft1)"/>
<ellipse cx="385" cy="777" rx="2" ry="4" fill="#6f5d5a" opacity="0.8" filter="url(#soft1)"/>
<ellipse cx="405" cy="776" rx="2" ry="4" fill="#6f5d5a" opacity="0.8" filter="url(#soft1)"/>
<ellipse cx="327" cy="717" rx="5" ry="4" fill="#d2bcb6" filter="url(#soft)"/>
<ellipse cx="330" cy="718" rx="1.4" ry="1.1" fill="#7d6a68" opacity="0.7" filter="url(#soft)"/>
<ellipse cx="349" cy="715" rx="5" ry="4" fill="#d2bcb6" filter="url(#soft)"/>
<ellipse cx="352" cy="716" rx="1.4" ry="1.1" fill="#7d6a68" opacity="0.7" filter="url(#soft)"/>
<ellipse cx="367" cy="716" rx="5" ry="4" fill="#d2bcb6" filter="url(#soft)"/>
<ellipse cx="370" cy="717" rx="1.4" ry="1.1" fill="#7d6a68" opacity="0.7" filter="url(#soft)"/>
<ellipse cx="385" cy="714" rx="5" ry="4" fill="#d2bcb6" filter="url(#soft)"/>
<ellipse cx="388" cy="715" rx="1.4" ry="1.1" fill="#7d6a68" opacity="0.7" filter="url(#soft)"/>
<ellipse cx="403" cy="716" rx="5" ry="4" fill="#d2bcb6" filter="url(#soft)"/>
<ellipse cx="406" cy="717" rx="1.4" ry="1.1" fill="#7d6a68" opacity="0.7" filter="url(#soft)"/>
<ellipse cx="326" cy="779" rx="5" ry="4" fill="#d2bcb6" filter="url(#soft)"/>
<ellipse cx="329" cy="780" rx="1.4" ry="1.1" fill="#7d6a68" opacity="0.7" filter="url(#soft)"/>
<ellipse cx="347" cy="775" rx="5" ry="4" fill="#d2bcb6" filter="url(#soft)"/>
<ellipse cx="350" cy="776" rx="1.4" ry="1.1" fill="#7d6a68" opacity="0.7" filter="url(#soft)"/>
<ellipse cx="369" cy="772" rx="5" ry="4" fill="#d2bcb6" filter="url(#soft)"/>
<ellipse cx="372" cy="773" rx="1.4" ry="1.1" fill="#7d6a68" opacity="0.7" filter="url(#soft)"/>
<ellipse cx="390" cy="770" rx="5" ry="4" fill="#d2bcb6" filter="url(#soft)"/>
<ellipse cx="393" cy="771" rx="1.4" ry="1.1" fill="#7d6a68" opacity="0.7" filter="url(#soft)"/>
<ellipse cx="410" cy="769" rx="5" ry="4" fill="#d2bcb6" filter="url(#soft)"/>
<ellipse cx="413" cy="770" rx="1.4" ry="1.1" fill="#7d6a68" opacity="0.7" filter="url(#soft)"/>
</g>
<text x="442.20" y="742.00" font-size="13">sgCtrl</text>
<text x="442.20" y="798.50" font-size="13">sgPPAT</text>
<line x1="573.70" y1="689.00" x2="573.70" y2="837.40" stroke="#222" stroke-width="1.3" />
<line x1="573.10" y1="836.80" x2="672.30" y2="836.80" stroke="#222" stroke-width="1.3" />
<line x1="568.70" y1="836.80" x2="573.70" y2="836.80" stroke="#222" stroke-width="1.2" />
<text x="566.50" y="840.40" font-size="10.4" font-weight="bold" text-anchor="end">0</text>
<line x1="568.70" y1="787.53" x2="573.70" y2="787.53" stroke="#222" stroke-width="1.2" />
<text x="566.50" y="791.13" font-size="10.4" font-weight="bold" text-anchor="end">1</text>
<line x1="568.70" y1="738.27" x2="573.70" y2="738.27" stroke="#222" stroke-width="1.2" />
<text x="566.50" y="741.87" font-size="10.4" font-weight="bold" text-anchor="end">2</text>
<line x1="568.70" y1="689.00" x2="573.70" y2="689.00" stroke="#222" stroke-width="1.2" />
<text x="566.50" y="692.60" font-size="10.4" font-weight="bold" text-anchor="end">3</text>
<line x1="601.60" y1="836.80" x2="601.60" y2="841.80" stroke="#222" stroke-width="1.2" />
<line x1="643.70" y1="836.80" x2="643.70" y2="841.80" stroke="#222" stroke-width="1.2" />
<text transform="translate(551.80,762.40) rotate(-90)" font-size="12" font-weight="bold" text-anchor="middle">Tumor weight (g)</text>
<line x1="601.60" y1="713.00" x2="601.60" y2="808.50" stroke="#89b8f2" stroke-width="1.2" />
<line x1="594.70" y1="713.00" x2="608.60" y2="713.00" stroke="#89b8f2" stroke-width="1.4" />
<line x1="594.70" y1="808.50" x2="608.60" y2="808.50" stroke="#89b8f2" stroke-width="1.4" />
<line x1="587.90" y1="761.00" x2="615.70" y2="761.00" stroke="#89b8f2" stroke-width="1.6" />
<circle cx="601.60" cy="701.70" r="2.50" fill="#5e9ff6" />
<circle cx="601.60" cy="726.40" r="2.50" fill="#5e9ff6" />
<circle cx="597.20" cy="774.40" r="2.50" fill="#5e9ff6" />
<circle cx="606.10" cy="775.70" r="2.50" fill="#5e9ff6" />
<circle cx="601.60" cy="825.40" r="2.50" fill="#5e9ff6" />
<line x1="630.40" y1="833.40" x2="657.80" y2="833.40" stroke="#f26672" stroke-width="1.3" />
<line x1="630.40" y1="831.80" x2="630.40" y2="835.20" stroke="#f26672" stroke-width="1.0" />
<line x1="657.80" y1="831.80" x2="657.80" y2="835.20" stroke="#f26672" stroke-width="1.0" />
<polygon points="632.00,832.62 630.10,835.92 633.90,835.92" fill="#f26672" />
<polygon points="637.60,829.62 635.70,832.92 639.50,832.92" fill="#f26672" />
<polygon points="645.00,830.42 643.10,833.72 646.90,833.72" fill="#f26672" />
<polygon points="650.00,830.42 648.10,833.72 651.90,833.72" fill="#f26672" />
<polygon points="656.00,832.62 654.10,835.92 657.90,835.92" fill="#f26672" />
<polyline points="601.70,694.00 601.70,686.40 640.60,686.40 640.60,693.60" fill="none" stroke="#1e1e1e" stroke-width="1.3" />
<line x1="617.40" y1="677.40" x2="617.40" y2="682.60" stroke="#111" stroke-width="1.25" stroke-linecap="round"/>
<line x1="615.15" y1="678.70" x2="619.65" y2="681.30" stroke="#111" stroke-width="1.25" stroke-linecap="round"/>
<line x1="619.65" y1="678.70" x2="615.15" y2="681.30" stroke="#111" stroke-width="1.25" stroke-linecap="round"/>
<line x1="624.60" y1="677.40" x2="624.60" y2="682.60" stroke="#111" stroke-width="1.25" stroke-linecap="round"/>
<line x1="622.35" y1="678.70" x2="626.85" y2="681.30" stroke="#111" stroke-width="1.25" stroke-linecap="round"/>
<line x1="626.85" y1="678.70" x2="622.35" y2="681.30" stroke="#111" stroke-width="1.25" stroke-linecap="round"/>
<text transform="translate(606.00,850.60) rotate(-45)" font-size="11.8" font-weight="bold" text-anchor="end">sgCtrl</text>
<text transform="translate(648.10,850.60) rotate(-45)" font-size="11.8" font-weight="bold" text-anchor="end">sgPPAT</text>
</svg>
</body></html>
